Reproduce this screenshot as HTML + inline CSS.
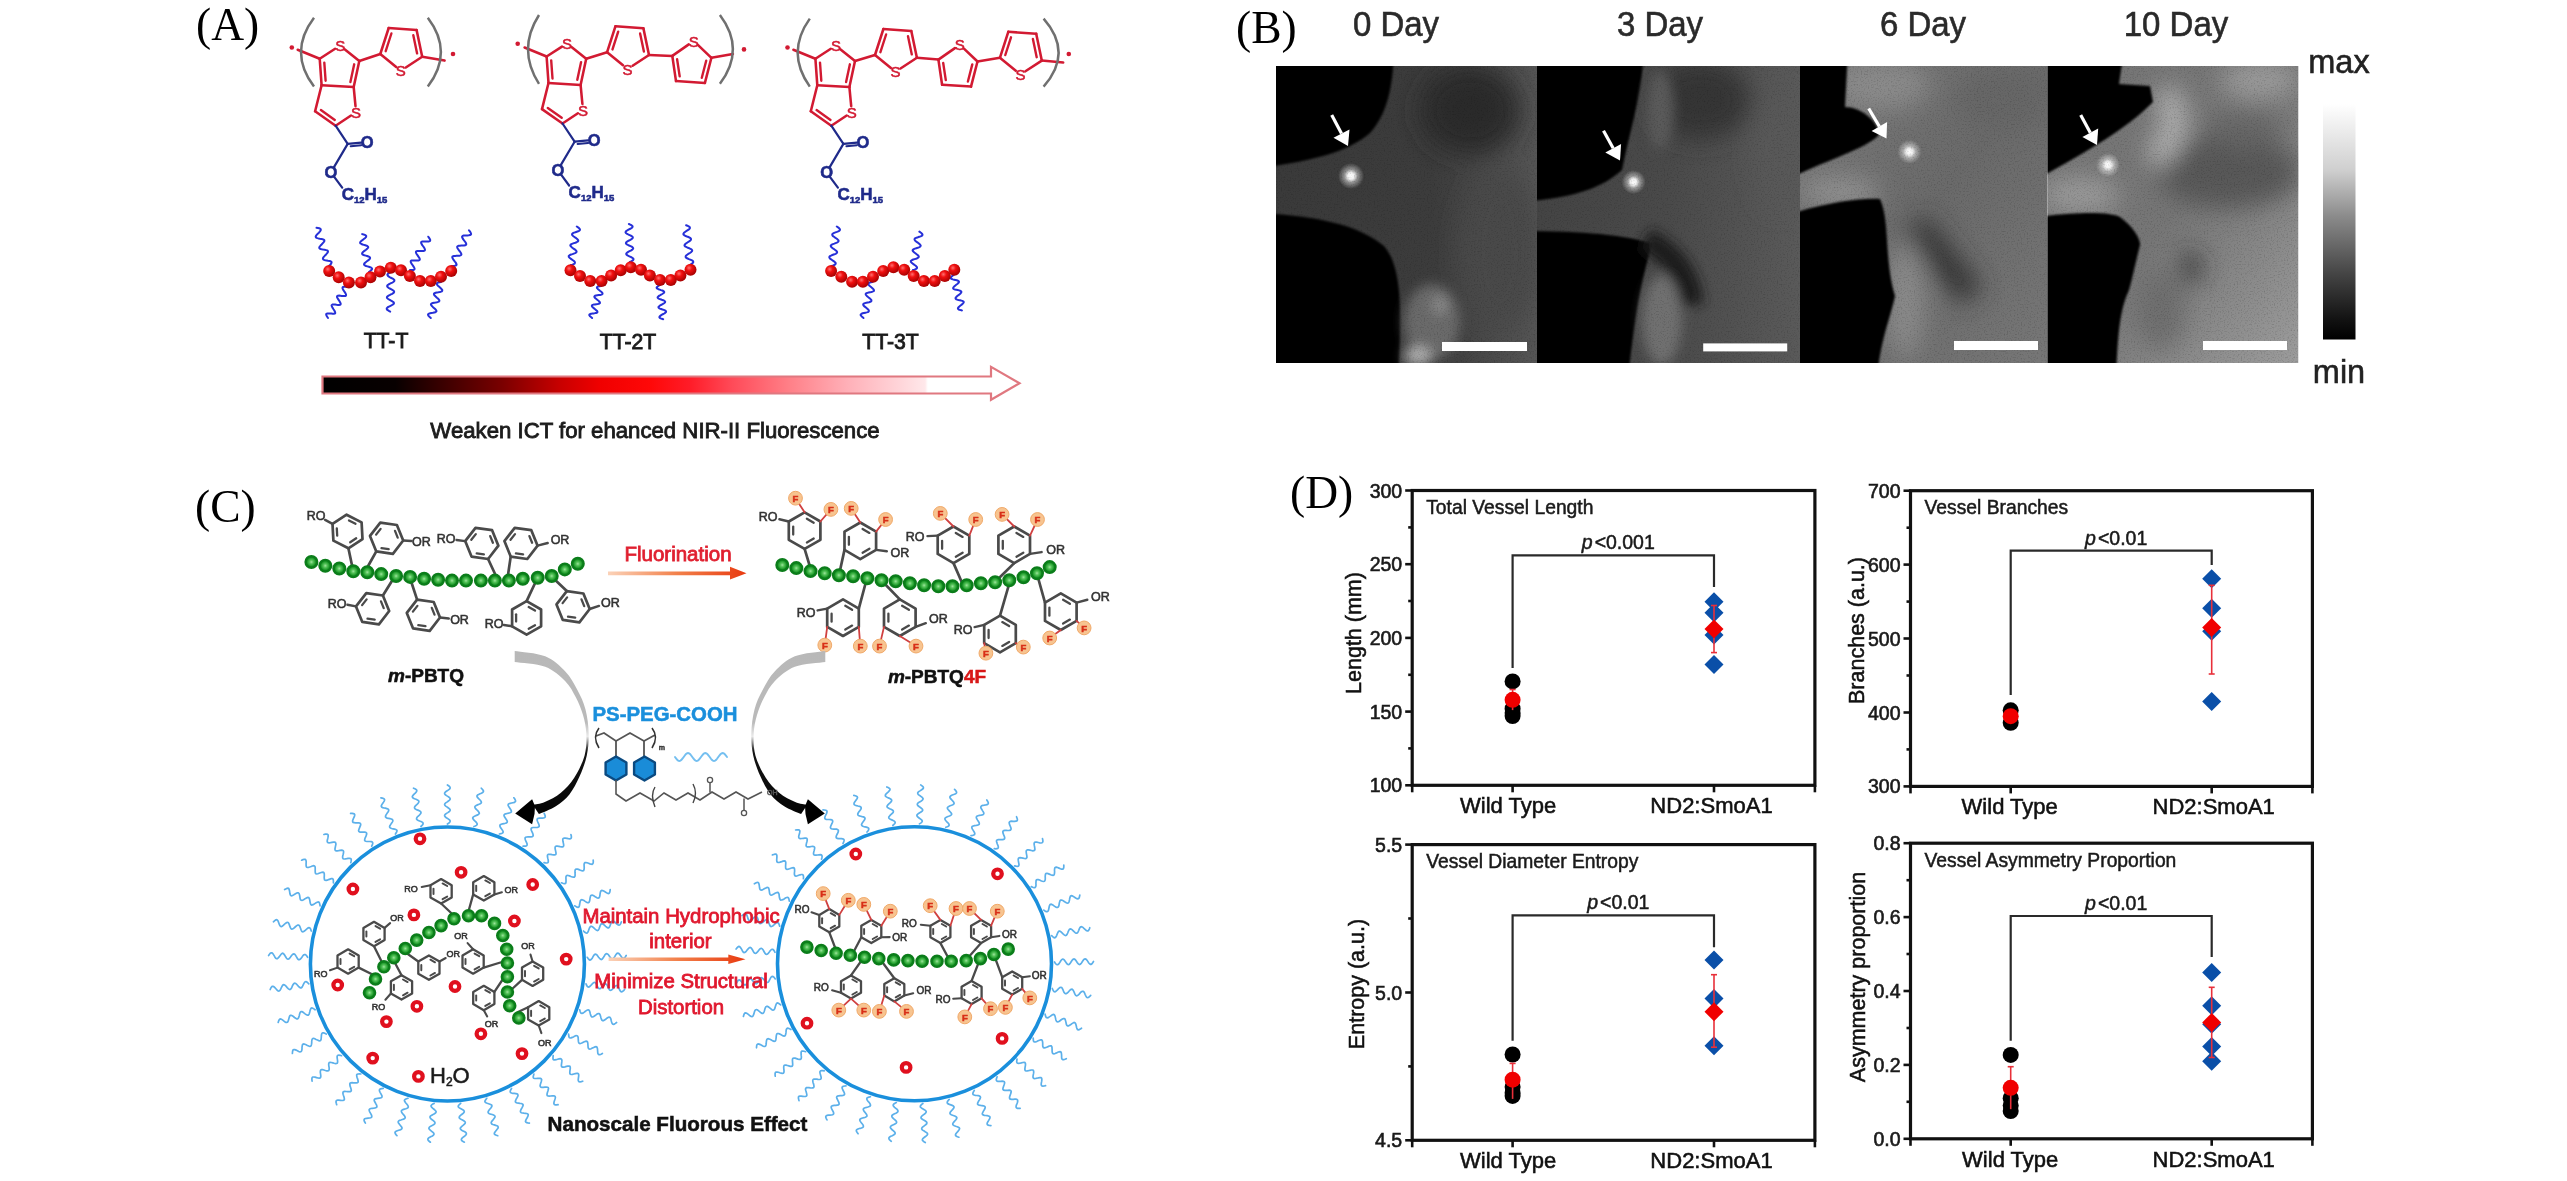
<!DOCTYPE html>
<html><head><meta charset="utf-8"><style>
html,body{margin:0;padding:0;background:#fff;width:2567px;height:1181px;overflow:hidden}
svg{position:absolute;left:0;top:0;display:block;filter:blur(0.45px)}
text{font-family:"Liberation Sans",sans-serif;fill:#222}
.lbl{font-family:"Liberation Serif",serif;font-size:45.5px;fill:#000}
.tk{font-size:19.5px;fill:#1a1a1a;stroke:#1a1a1a;stroke-width:0.6px}
.xl{font-size:22px;fill:#111;stroke:#111;stroke-width:0.55px}
.ct{font-size:19.3px;fill:#1a1a1a;stroke:#1a1a1a;stroke-width:0.5px}
.yl{font-size:21.5px;fill:#111;stroke:#111;stroke-width:0.55px}
.pv{font-size:19.5px;fill:#1a1a1a;stroke:#1a1a1a;stroke-width:0.5px}
</style></head><body>
<svg width="2567" height="1181" viewBox="0 0 2567 1181">
<text x="196" y="40" class="lbl">(A)</text>
<text x="1236" y="43" class="lbl">(B)</text>
<text x="195" y="522" class="lbl">(C)</text>
<text x="1290" y="508" class="lbl">(D)</text>
<defs>
<radialGradient id="beadR" cx="0.38" cy="0.35" r="0.7"><stop offset="0" stop-color="#ff7070"/><stop offset="0.35" stop-color="#f01010"/><stop offset="1" stop-color="#a00000"/></radialGradient>
<linearGradient id="ictG" x1="322" y1="0" x2="1020" y2="0" gradientUnits="userSpaceOnUse">
<stop offset="0" stop-color="#000"/><stop offset="0.105" stop-color="#080000"/><stop offset="0.258" stop-color="#7a0000"/>
<stop offset="0.341" stop-color="#c80000"/><stop offset="0.398" stop-color="#f00000"/><stop offset="0.47" stop-color="#ff0808"/>
<stop offset="0.527" stop-color="#ff1c28"/><stop offset="0.587" stop-color="#ff4a58"/><stop offset="0.67" stop-color="#ff8088"/>
<stop offset="0.753" stop-color="#ffb0b8"/><stop offset="0.834" stop-color="#ffd8dc"/><stop offset="0.864" stop-color="#ffe8ea"/><stop offset="0.868" stop-color="#fff"/><stop offset="1" stop-color="#fff"/>
</linearGradient></defs>
<line x1="319.7" y1="58.7" x2="335.1" y2="48.8" stroke="#d21a32" stroke-width="2.55" stroke-linecap="round"/>
<line x1="344.9" y1="49.4" x2="359.3" y2="61.0" stroke="#d21a32" stroke-width="2.55" stroke-linecap="round"/>
<line x1="319.7" y1="58.7" x2="321.6" y2="85.2" stroke="#d21a32" stroke-width="2.55" stroke-linecap="round"/>
<line x1="324.3" y1="62.6" x2="325.6" y2="80.7" stroke="#d21a32" stroke-width="2.4" stroke-linecap="round"/>
<line x1="359.3" y1="61.0" x2="353.7" y2="87.1" stroke="#d21a32" stroke-width="2.55" stroke-linecap="round"/>
<line x1="354.2" y1="64.3" x2="350.4" y2="82.0" stroke="#d21a32" stroke-width="2.4" stroke-linecap="round"/>
<line x1="321.6" y1="85.2" x2="353.7" y2="87.1" stroke="#d21a32" stroke-width="2.55" stroke-linecap="round"/>
<line x1="321.6" y1="85.2" x2="315.1" y2="111.3" stroke="#d21a32" stroke-width="2.55" stroke-linecap="round"/>
<line x1="315.1" y1="111.3" x2="335.6" y2="125.7" stroke="#d21a32" stroke-width="2.55" stroke-linecap="round"/>
<line x1="320.9" y1="110.1" x2="334.8" y2="119.9" stroke="#d21a32" stroke-width="2.4" stroke-linecap="round"/>
<line x1="335.6" y1="125.7" x2="351.0" y2="115.5" stroke="#d21a32" stroke-width="2.55" stroke-linecap="round"/>
<line x1="355.5" y1="106.2" x2="353.7" y2="87.1" stroke="#d21a32" stroke-width="2.55" stroke-linecap="round"/>
<text x="340.2" y="51.1" text-anchor="middle" font-size="15" font-weight="normal" style="fill:#d21a32;stroke:#d21a32;stroke-width:0.55px">S</text>
<text x="356.0" y="117.7" text-anchor="middle" font-size="15" font-weight="normal" style="fill:#d21a32;stroke:#d21a32;stroke-width:0.55px">S</text>
<line x1="335.6" y1="125.7" x2="347.7" y2="143.9" stroke="#1f2a8a" stroke-width="2.2" stroke-linecap="round"/>
<line x1="347.7" y1="143.9" x2="361.2" y2="142.6" stroke="#1f2a8a" stroke-width="2.2" stroke-linecap="round"/>
<line x1="350.7" y1="146.2" x2="361.2" y2="145.2" stroke="#1f2a8a" stroke-width="2.0" stroke-linecap="round"/>
<line x1="347.7" y1="143.9" x2="334.0" y2="167.1" stroke="#1f2a8a" stroke-width="2.2" stroke-linecap="round"/>
<text x="367.2" y="148.0" text-anchor="middle" font-size="16.5" font-weight="bold" style="fill:#1f2a8a;stroke:#1f2a8a;stroke-width:0.55px">O</text>
<text x="330.9" y="178.3" text-anchor="middle" font-size="16.5" font-weight="bold" style="fill:#1f2a8a;stroke:#1f2a8a;stroke-width:0.55px">O</text>
<line x1="334.4" y1="177.1" x2="342.2" y2="187.7" stroke="#1f2a8a" stroke-width="2.2" stroke-linecap="round"/>
<text x="341.7" y="200.2" font-size="17" font-weight="bold" style="fill:#1f2a8a;stroke:#1f2a8a;stroke-width:0.55px">C<tspan font-size="9.5" dy="3">12</tspan><tspan dy="-3">H</tspan><tspan font-size="9.5" dy="3">15</tspan></text>
<line x1="359.3" y1="61.0" x2="380.3" y2="54.0" stroke="#d21a32" stroke-width="2.55" stroke-linecap="round"/>
<line x1="380.3" y1="54.0" x2="388.7" y2="28.0" stroke="#d21a32" stroke-width="2.55" stroke-linecap="round"/>
<line x1="385.7" y1="51.2" x2="391.4" y2="33.5" stroke="#d21a32" stroke-width="2.4" stroke-linecap="round"/>
<line x1="388.7" y1="28.0" x2="416.6" y2="30.0" stroke="#d21a32" stroke-width="2.55" stroke-linecap="round"/>
<line x1="416.6" y1="30.0" x2="422.2" y2="56.8" stroke="#d21a32" stroke-width="2.55" stroke-linecap="round"/>
<line x1="413.3" y1="35.2" x2="417.1" y2="53.4" stroke="#d21a32" stroke-width="2.4" stroke-linecap="round"/>
<line x1="422.2" y1="56.8" x2="405.8" y2="67.5" stroke="#d21a32" stroke-width="2.55" stroke-linecap="round"/>
<line x1="396.2" y1="67.0" x2="380.3" y2="54.0" stroke="#d21a32" stroke-width="2.55" stroke-linecap="round"/>
<text x="400.8" y="76.3" text-anchor="middle" font-size="15" font-weight="normal" style="fill:#d21a32;stroke:#d21a32;stroke-width:0.55px">S</text>
<line x1="422.2" y1="56.8" x2="444.6" y2="60.6" stroke="#d21a32" stroke-width="2.55" stroke-linecap="round"/>
<line x1="319.7" y1="58.7" x2="297.7" y2="49.7" stroke="#d21a32" stroke-width="2.55" stroke-linecap="round"/>
<circle cx="291.8" cy="47.5" r="2.3" fill="#d21a32"/>
<circle cx="453" cy="54" r="2.3" fill="#d21a32"/>
<path d="M314.0,17.7 Q288.0,52.1 314.0,86.6" fill="none" stroke="#707070" stroke-width="2.5"/>
<path d="M427.8,17.7 Q454.0,52.1 427.8,86.6" fill="none" stroke="#707070" stroke-width="2.5"/>
<line x1="546.6" y1="56.5" x2="562.0" y2="46.6" stroke="#d21a32" stroke-width="2.55" stroke-linecap="round"/>
<line x1="571.8" y1="47.2" x2="586.2" y2="58.8" stroke="#d21a32" stroke-width="2.55" stroke-linecap="round"/>
<line x1="546.6" y1="56.5" x2="548.5" y2="83.0" stroke="#d21a32" stroke-width="2.55" stroke-linecap="round"/>
<line x1="551.2" y1="60.4" x2="552.5" y2="78.5" stroke="#d21a32" stroke-width="2.4" stroke-linecap="round"/>
<line x1="586.2" y1="58.8" x2="580.6" y2="84.9" stroke="#d21a32" stroke-width="2.55" stroke-linecap="round"/>
<line x1="581.1" y1="62.1" x2="577.3" y2="79.8" stroke="#d21a32" stroke-width="2.4" stroke-linecap="round"/>
<line x1="548.5" y1="83.0" x2="580.6" y2="84.9" stroke="#d21a32" stroke-width="2.55" stroke-linecap="round"/>
<line x1="548.5" y1="83.0" x2="542.0" y2="109.1" stroke="#d21a32" stroke-width="2.55" stroke-linecap="round"/>
<line x1="542.0" y1="109.1" x2="562.5" y2="123.5" stroke="#d21a32" stroke-width="2.55" stroke-linecap="round"/>
<line x1="547.8" y1="107.9" x2="561.7" y2="117.7" stroke="#d21a32" stroke-width="2.4" stroke-linecap="round"/>
<line x1="562.5" y1="123.5" x2="577.9" y2="113.3" stroke="#d21a32" stroke-width="2.55" stroke-linecap="round"/>
<line x1="582.4" y1="104.0" x2="580.6" y2="84.9" stroke="#d21a32" stroke-width="2.55" stroke-linecap="round"/>
<text x="567.1" y="48.9" text-anchor="middle" font-size="15" font-weight="normal" style="fill:#d21a32;stroke:#d21a32;stroke-width:0.55px">S</text>
<text x="582.9" y="115.5" text-anchor="middle" font-size="15" font-weight="normal" style="fill:#d21a32;stroke:#d21a32;stroke-width:0.55px">S</text>
<line x1="562.5" y1="123.5" x2="574.6" y2="141.7" stroke="#1f2a8a" stroke-width="2.2" stroke-linecap="round"/>
<line x1="574.6" y1="141.7" x2="588.1" y2="140.4" stroke="#1f2a8a" stroke-width="2.2" stroke-linecap="round"/>
<line x1="577.6" y1="144.0" x2="588.1" y2="143.0" stroke="#1f2a8a" stroke-width="2.0" stroke-linecap="round"/>
<line x1="574.6" y1="141.7" x2="560.9" y2="164.9" stroke="#1f2a8a" stroke-width="2.2" stroke-linecap="round"/>
<text x="594.1" y="145.8" text-anchor="middle" font-size="16.5" font-weight="bold" style="fill:#1f2a8a;stroke:#1f2a8a;stroke-width:0.55px">O</text>
<text x="557.8" y="176.1" text-anchor="middle" font-size="16.5" font-weight="bold" style="fill:#1f2a8a;stroke:#1f2a8a;stroke-width:0.55px">O</text>
<line x1="561.3" y1="174.9" x2="569.1" y2="185.5" stroke="#1f2a8a" stroke-width="2.2" stroke-linecap="round"/>
<text x="568.6" y="198.0" font-size="17" font-weight="bold" style="fill:#1f2a8a;stroke:#1f2a8a;stroke-width:0.55px">C<tspan font-size="9.5" dy="3">12</tspan><tspan dy="-3">H</tspan><tspan font-size="9.5" dy="3">15</tspan></text>
<line x1="586.2" y1="58.8" x2="607.1" y2="52.2" stroke="#d21a32" stroke-width="2.55" stroke-linecap="round"/>
<line x1="607.1" y1="52.2" x2="615.5" y2="26.2" stroke="#d21a32" stroke-width="2.55" stroke-linecap="round"/>
<line x1="612.5" y1="49.4" x2="618.2" y2="31.7" stroke="#d21a32" stroke-width="2.4" stroke-linecap="round"/>
<line x1="615.5" y1="26.2" x2="643.4" y2="28.2" stroke="#d21a32" stroke-width="2.55" stroke-linecap="round"/>
<line x1="643.4" y1="28.2" x2="649.0" y2="55.0" stroke="#d21a32" stroke-width="2.55" stroke-linecap="round"/>
<line x1="640.1" y1="33.4" x2="643.9" y2="51.6" stroke="#d21a32" stroke-width="2.4" stroke-linecap="round"/>
<line x1="649.0" y1="55.0" x2="632.6" y2="65.7" stroke="#d21a32" stroke-width="2.55" stroke-linecap="round"/>
<line x1="623.0" y1="65.2" x2="607.1" y2="52.2" stroke="#d21a32" stroke-width="2.55" stroke-linecap="round"/>
<text x="627.6" y="74.5" text-anchor="middle" font-size="15" font-weight="normal" style="fill:#d21a32;stroke:#d21a32;stroke-width:0.55px">S</text>
<line x1="649.0" y1="55.0" x2="672.3" y2="55.9" stroke="#d21a32" stroke-width="2.55" stroke-linecap="round"/>
<line x1="672.3" y1="55.9" x2="688.8" y2="44.4" stroke="#d21a32" stroke-width="2.55" stroke-linecap="round"/>
<line x1="698.1" y1="45.1" x2="711.4" y2="57.8" stroke="#d21a32" stroke-width="2.55" stroke-linecap="round"/>
<line x1="711.4" y1="57.8" x2="704.9" y2="82.9" stroke="#d21a32" stroke-width="2.55" stroke-linecap="round"/>
<line x1="706.2" y1="60.7" x2="701.8" y2="77.8" stroke="#d21a32" stroke-width="2.4" stroke-linecap="round"/>
<line x1="704.9" y1="82.9" x2="676.0" y2="81.1" stroke="#d21a32" stroke-width="2.55" stroke-linecap="round"/>
<line x1="676.0" y1="81.1" x2="672.3" y2="55.9" stroke="#d21a32" stroke-width="2.55" stroke-linecap="round"/>
<line x1="679.7" y1="76.4" x2="677.1" y2="59.3" stroke="#d21a32" stroke-width="2.4" stroke-linecap="round"/>
<text x="693.7" y="46.5" text-anchor="middle" font-size="15" font-weight="normal" style="fill:#d21a32;stroke:#d21a32;stroke-width:0.55px">S</text>
<line x1="711.4" y1="57.8" x2="732.9" y2="54.0" stroke="#d21a32" stroke-width="2.55" stroke-linecap="round"/>
<line x1="546.6" y1="56.5" x2="524.6" y2="47.5" stroke="#d21a32" stroke-width="2.55" stroke-linecap="round"/>
<circle cx="517.7" cy="43.8" r="2.3" fill="#d21a32"/>
<circle cx="744" cy="49.4" r="2.3" fill="#d21a32"/>
<path d="M539.0,15.0 Q517.0,49.4 539.0,83.8" fill="none" stroke="#707070" stroke-width="2.5"/>
<path d="M719.9,15.0 Q745.9,49.4 719.9,83.8" fill="none" stroke="#707070" stroke-width="2.5"/>
<line x1="815.4" y1="58.7" x2="830.8" y2="48.8" stroke="#d21a32" stroke-width="2.55" stroke-linecap="round"/>
<line x1="840.6" y1="49.4" x2="855.0" y2="61.0" stroke="#d21a32" stroke-width="2.55" stroke-linecap="round"/>
<line x1="815.4" y1="58.7" x2="817.3" y2="85.2" stroke="#d21a32" stroke-width="2.55" stroke-linecap="round"/>
<line x1="820.0" y1="62.6" x2="821.3" y2="80.7" stroke="#d21a32" stroke-width="2.4" stroke-linecap="round"/>
<line x1="855.0" y1="61.0" x2="849.4" y2="87.1" stroke="#d21a32" stroke-width="2.55" stroke-linecap="round"/>
<line x1="849.9" y1="64.3" x2="846.1" y2="82.0" stroke="#d21a32" stroke-width="2.4" stroke-linecap="round"/>
<line x1="817.3" y1="85.2" x2="849.4" y2="87.1" stroke="#d21a32" stroke-width="2.55" stroke-linecap="round"/>
<line x1="817.3" y1="85.2" x2="810.8" y2="111.3" stroke="#d21a32" stroke-width="2.55" stroke-linecap="round"/>
<line x1="810.8" y1="111.3" x2="831.3" y2="125.7" stroke="#d21a32" stroke-width="2.55" stroke-linecap="round"/>
<line x1="816.6" y1="110.1" x2="830.5" y2="119.9" stroke="#d21a32" stroke-width="2.4" stroke-linecap="round"/>
<line x1="831.3" y1="125.7" x2="846.7" y2="115.5" stroke="#d21a32" stroke-width="2.55" stroke-linecap="round"/>
<line x1="851.2" y1="106.2" x2="849.4" y2="87.1" stroke="#d21a32" stroke-width="2.55" stroke-linecap="round"/>
<text x="835.9" y="51.1" text-anchor="middle" font-size="15" font-weight="normal" style="fill:#d21a32;stroke:#d21a32;stroke-width:0.55px">S</text>
<text x="851.7" y="117.7" text-anchor="middle" font-size="15" font-weight="normal" style="fill:#d21a32;stroke:#d21a32;stroke-width:0.55px">S</text>
<line x1="831.3" y1="125.7" x2="843.4" y2="143.9" stroke="#1f2a8a" stroke-width="2.2" stroke-linecap="round"/>
<line x1="843.4" y1="143.9" x2="856.9" y2="142.6" stroke="#1f2a8a" stroke-width="2.2" stroke-linecap="round"/>
<line x1="846.4" y1="146.2" x2="856.9" y2="145.2" stroke="#1f2a8a" stroke-width="2.0" stroke-linecap="round"/>
<line x1="843.4" y1="143.9" x2="829.7" y2="167.1" stroke="#1f2a8a" stroke-width="2.2" stroke-linecap="round"/>
<text x="862.9" y="148.0" text-anchor="middle" font-size="16.5" font-weight="bold" style="fill:#1f2a8a;stroke:#1f2a8a;stroke-width:0.55px">O</text>
<text x="826.6" y="178.3" text-anchor="middle" font-size="16.5" font-weight="bold" style="fill:#1f2a8a;stroke:#1f2a8a;stroke-width:0.55px">O</text>
<line x1="830.1" y1="177.1" x2="837.9" y2="187.7" stroke="#1f2a8a" stroke-width="2.2" stroke-linecap="round"/>
<text x="837.4" y="200.2" font-size="17" font-weight="bold" style="fill:#1f2a8a;stroke:#1f2a8a;stroke-width:0.55px">C<tspan font-size="9.5" dy="3">12</tspan><tspan dy="-3">H</tspan><tspan font-size="9.5" dy="3">15</tspan></text>
<line x1="855.0" y1="61.0" x2="875.0" y2="55.0" stroke="#d21a32" stroke-width="2.55" stroke-linecap="round"/>
<line x1="875.0" y1="55.0" x2="883.4" y2="29.0" stroke="#d21a32" stroke-width="2.55" stroke-linecap="round"/>
<line x1="880.4" y1="52.2" x2="886.1" y2="34.5" stroke="#d21a32" stroke-width="2.4" stroke-linecap="round"/>
<line x1="883.4" y1="29.0" x2="911.3" y2="31.0" stroke="#d21a32" stroke-width="2.55" stroke-linecap="round"/>
<line x1="911.3" y1="31.0" x2="916.9" y2="57.8" stroke="#d21a32" stroke-width="2.55" stroke-linecap="round"/>
<line x1="908.0" y1="36.2" x2="911.8" y2="54.4" stroke="#d21a32" stroke-width="2.4" stroke-linecap="round"/>
<line x1="916.9" y1="57.8" x2="900.5" y2="68.5" stroke="#d21a32" stroke-width="2.55" stroke-linecap="round"/>
<line x1="890.9" y1="68.0" x2="875.0" y2="55.0" stroke="#d21a32" stroke-width="2.55" stroke-linecap="round"/>
<text x="895.5" y="77.3" text-anchor="middle" font-size="15" font-weight="normal" style="fill:#d21a32;stroke:#d21a32;stroke-width:0.55px">S</text>
<line x1="916.9" y1="57.8" x2="938.4" y2="59.6" stroke="#d21a32" stroke-width="2.55" stroke-linecap="round"/>
<line x1="938.4" y1="59.6" x2="954.9" y2="48.1" stroke="#d21a32" stroke-width="2.55" stroke-linecap="round"/>
<line x1="964.2" y1="48.8" x2="977.5" y2="61.5" stroke="#d21a32" stroke-width="2.55" stroke-linecap="round"/>
<line x1="977.5" y1="61.5" x2="971.0" y2="86.6" stroke="#d21a32" stroke-width="2.55" stroke-linecap="round"/>
<line x1="972.3" y1="64.4" x2="967.9" y2="81.5" stroke="#d21a32" stroke-width="2.4" stroke-linecap="round"/>
<line x1="971.0" y1="86.6" x2="942.1" y2="84.8" stroke="#d21a32" stroke-width="2.55" stroke-linecap="round"/>
<line x1="942.1" y1="84.8" x2="938.4" y2="59.6" stroke="#d21a32" stroke-width="2.55" stroke-linecap="round"/>
<line x1="945.8" y1="80.1" x2="943.2" y2="63.0" stroke="#d21a32" stroke-width="2.4" stroke-linecap="round"/>
<text x="959.8" y="50.2" text-anchor="middle" font-size="15" font-weight="normal" style="fill:#d21a32;stroke:#d21a32;stroke-width:0.55px">S</text>
<line x1="977.5" y1="61.5" x2="999.9" y2="57.8" stroke="#d21a32" stroke-width="2.55" stroke-linecap="round"/>
<line x1="999.9" y1="57.8" x2="1008.3" y2="31.8" stroke="#d21a32" stroke-width="2.55" stroke-linecap="round"/>
<line x1="1005.3" y1="55.0" x2="1011.0" y2="37.3" stroke="#d21a32" stroke-width="2.4" stroke-linecap="round"/>
<line x1="1008.3" y1="31.8" x2="1036.2" y2="33.8" stroke="#d21a32" stroke-width="2.55" stroke-linecap="round"/>
<line x1="1036.2" y1="33.8" x2="1041.8" y2="60.6" stroke="#d21a32" stroke-width="2.55" stroke-linecap="round"/>
<line x1="1032.9" y1="39.0" x2="1036.7" y2="57.2" stroke="#d21a32" stroke-width="2.4" stroke-linecap="round"/>
<line x1="1041.8" y1="60.6" x2="1025.4" y2="71.3" stroke="#d21a32" stroke-width="2.55" stroke-linecap="round"/>
<line x1="1015.8" y1="70.8" x2="999.9" y2="57.8" stroke="#d21a32" stroke-width="2.55" stroke-linecap="round"/>
<text x="1020.4" y="80.1" text-anchor="middle" font-size="15" font-weight="normal" style="fill:#d21a32;stroke:#d21a32;stroke-width:0.55px">S</text>
<line x1="1041.8" y1="60.6" x2="1063.2" y2="62.4" stroke="#d21a32" stroke-width="2.55" stroke-linecap="round"/>
<line x1="815.4" y1="58.7" x2="793.4" y2="49.7" stroke="#d21a32" stroke-width="2.55" stroke-linecap="round"/>
<circle cx="787.5" cy="47.5" r="2.3" fill="#d21a32"/>
<circle cx="1068.8" cy="54" r="2.3" fill="#d21a32"/>
<path d="M809.8,18.6 Q785.6,52.6 809.8,86.6" fill="none" stroke="#707070" stroke-width="2.5"/>
<path d="M1043.6,18.6 Q1073.6,52.6 1043.6,86.6" fill="none" stroke="#707070" stroke-width="2.5"/>
<path d="M329.0,266.0 L330.0,265.0 L330.9,264.0 L331.4,263.1 L331.6,262.3 L331.3,261.7 L330.5,261.3 L329.4,260.9 L328.0,260.7 L326.6,260.4 L325.2,260.2 L324.0,259.9 L323.2,259.4 L322.9,258.8 L323.0,258.1 L323.5,257.2 L324.3,256.3 L325.3,255.2 L326.3,254.2 L327.2,253.2 L327.8,252.3 L328.0,251.5 L327.8,250.9 L327.1,250.4 L326.0,250.1 L324.7,249.8 L323.2,249.6 L321.8,249.3 L320.6,249.0 L319.8,248.6 L319.3,248.0 L319.3,247.3 L319.8,246.5 L320.6,245.5 L321.6,244.5 L322.6,243.4 L323.5,242.4 L324.2,241.5 L324.4,240.7 L324.3,240.1 L323.6,239.6 L322.6,239.2 L321.3,238.9 L319.9,238.7 L318.4,238.4 L317.2,238.1 L316.3,237.7 L315.8,237.2 L315.7,236.5 L316.1,235.7 L316.9,234.7 L317.8,233.7 L318.9,232.7 L319.8,231.6 L320.5,230.7 L320.8,229.9 L320.7,229.2 L320.2,228.7 L319.2,228.3 L317.9,228.0 L316.5,227.8" fill="none" stroke="#2630d8" stroke-width="2.0" stroke-linejoin="round" stroke-linecap="round"/>
<path d="M369.0,272.0 L370.2,271.1 L371.1,270.3 L371.8,269.5 L372.1,268.8 L371.9,268.2 L371.2,267.7 L370.1,267.2 L368.8,266.8 L367.4,266.4 L366.1,266.0 L365.0,265.5 L364.3,265.0 L364.0,264.4 L364.2,263.7 L364.8,263.0 L365.7,262.2 L366.9,261.3 L368.1,260.4 L369.1,259.6 L369.8,258.8 L370.1,258.1 L370.0,257.5 L369.4,256.9 L368.4,256.5 L367.1,256.0 L365.7,255.6 L364.3,255.2 L363.2,254.8 L362.4,254.3 L362.1,253.7 L362.2,253.0 L362.7,252.3 L363.7,251.4 L364.8,250.6 L366.0,249.7 L367.0,248.9 L367.8,248.1 L368.2,247.4 L368.1,246.7 L367.5,246.2 L366.6,245.7 L365.3,245.3 L363.9,244.9 L362.6,244.5 L361.4,244.0 L360.5,243.5 L360.1,242.9 L360.2,242.3 L360.7,241.5 L361.6,240.7 L362.7,239.9 L363.8,239.0 L364.9,238.2 L365.7,237.4 L366.2,236.6 L366.2,236.0 L365.7,235.4 L364.8,234.9 L363.6,234.5 L362.2,234.1" fill="none" stroke="#2630d8" stroke-width="2.0" stroke-linejoin="round" stroke-linecap="round"/>
<path d="M410.0,270.0 L411.4,270.1 L412.7,270.1 L413.7,269.9 L414.4,269.5 L414.6,268.9 L414.4,268.1 L413.9,267.1 L413.1,265.9 L412.3,264.7 L411.5,263.6 L410.9,262.5 L410.7,261.7 L410.8,261.1 L411.4,260.6 L412.3,260.4 L413.6,260.4 L415.0,260.5 L416.5,260.5 L417.8,260.5 L418.8,260.4 L419.5,260.1 L419.8,259.5 L419.7,258.7 L419.2,257.7 L418.4,256.6 L417.6,255.4 L416.8,254.2 L416.2,253.2 L415.9,252.3 L416.0,251.6 L416.5,251.2 L417.4,251.0 L418.6,250.9 L420.0,250.9 L421.5,251.0 L422.8,251.0 L423.9,250.9 L424.7,250.6 L425.0,250.1 L424.9,249.3 L424.5,248.3 L423.8,247.2 L422.9,246.0 L422.1,244.9 L421.5,243.8 L421.1,242.9 L421.2,242.2 L421.6,241.7 L422.5,241.5 L423.7,241.4 L425.1,241.4 L426.5,241.5 L427.9,241.5 L429.0,241.4 L429.8,241.1 L430.2,240.6 L430.2,239.9 L429.8,239.0 L429.1,237.9 L428.3,236.7" fill="none" stroke="#2630d8" stroke-width="2.0" stroke-linejoin="round" stroke-linecap="round"/>
<path d="M452.0,266.0 L453.4,266.0 L454.7,265.8 L455.7,265.6 L456.4,265.2 L456.6,264.5 L456.3,263.7 L455.8,262.7 L454.9,261.6 L454.0,260.4 L453.2,259.3 L452.6,258.3 L452.3,257.4 L452.4,256.7 L453.0,256.3 L454.0,256.0 L455.2,255.9 L456.6,255.8 L458.1,255.8 L459.4,255.7 L460.5,255.4 L461.2,255.0 L461.4,254.4 L461.2,253.6 L460.7,252.6 L459.9,251.5 L459.0,250.4 L458.2,249.2 L457.5,248.2 L457.2,247.3 L457.2,246.6 L457.7,246.1 L458.7,245.8 L459.9,245.7 L461.3,245.6 L462.8,245.6 L464.1,245.5 L465.2,245.3 L465.9,244.9 L466.3,244.3 L466.1,243.5 L465.7,242.6 L464.9,241.5 L464.0,240.3 L463.1,239.2 L462.5,238.1 L462.1,237.2 L462.1,236.5 L462.5,236.0 L463.4,235.6 L464.5,235.5 L465.9,235.4 L467.4,235.4 L468.8,235.3 L469.9,235.1 L470.7,234.8 L471.1,234.2 L471.0,233.5 L470.6,232.5 L469.9,231.4 L469.0,230.3" fill="none" stroke="#2630d8" stroke-width="2.0" stroke-linejoin="round" stroke-linecap="round"/>
<path d="M347.0,287.0 L345.6,286.8 L344.3,286.8 L343.3,286.9 L342.7,287.2 L342.5,287.8 L342.6,288.6 L343.1,289.6 L343.8,290.7 L344.6,291.9 L345.4,293.1 L345.9,294.1 L346.1,295.0 L345.9,295.6 L345.4,296.0 L344.4,296.1 L343.2,296.0 L341.8,295.9 L340.4,295.7 L339.1,295.6 L338.0,295.7 L337.3,296.0 L337.0,296.5 L337.1,297.3 L337.6,298.3 L338.3,299.4 L339.1,300.6 L339.8,301.8 L340.4,302.9 L340.7,303.7 L340.6,304.4 L340.0,304.8 L339.1,304.9 L337.9,304.9 L336.6,304.8 L335.1,304.6 L333.8,304.5 L332.7,304.5 L332.0,304.8 L331.6,305.3 L331.7,306.0 L332.1,307.0 L332.8,308.1 L333.5,309.3 L334.3,310.5 L334.9,311.6 L335.2,312.5 L335.2,313.2 L334.7,313.6 L333.9,313.8 L332.7,313.8 L331.3,313.6 L329.9,313.5 L328.5,313.4 L327.4,313.4 L326.6,313.6 L326.2,314.1 L326.2,314.8 L326.6,315.7 L327.2,316.8 L328.0,318.0" fill="none" stroke="#2630d8" stroke-width="2.0" stroke-linejoin="round" stroke-linecap="round"/>
<path d="M391.0,272.0 L389.7,272.6 L388.6,273.3 L387.8,273.9 L387.4,274.6 L387.5,275.2 L388.0,275.9 L388.9,276.6 L390.1,277.3 L391.4,278.0 L392.7,278.6 L393.7,279.3 L394.3,280.0 L394.4,280.7 L394.1,281.3 L393.3,282.0 L392.3,282.6 L391.0,283.2 L389.6,283.9 L388.5,284.5 L387.6,285.1 L387.2,285.8 L387.2,286.4 L387.7,287.1 L388.6,287.8 L389.7,288.5 L391.0,289.2 L392.3,289.9 L393.3,290.5 L394.0,291.2 L394.2,291.9 L393.9,292.5 L393.2,293.2 L392.2,293.8 L390.9,294.4 L389.6,295.1 L388.4,295.7 L387.5,296.4 L387.0,297.0 L386.9,297.7 L387.3,298.3 L388.2,299.0 L389.3,299.7 L390.6,300.4 L391.9,301.1 L392.9,301.8 L393.7,302.4 L394.0,303.1 L393.8,303.7 L393.1,304.4 L392.1,305.0 L390.9,305.7 L389.6,306.3 L388.3,306.9 L387.4,307.6 L386.8,308.2 L386.7,308.9 L387.0,309.6 L387.8,310.2 L388.9,310.9 L390.2,311.6" fill="none" stroke="#2630d8" stroke-width="2.0" stroke-linejoin="round" stroke-linecap="round"/>
<path d="M441.0,282.0 L439.6,282.2 L438.3,282.5 L437.4,282.9 L436.9,283.4 L436.8,284.1 L437.2,284.8 L437.9,285.7 L438.9,286.6 L440.0,287.6 L441.0,288.5 L441.8,289.4 L442.3,290.1 L442.2,290.8 L441.8,291.3 L440.9,291.7 L439.7,292.0 L438.3,292.3 L436.9,292.5 L435.6,292.8 L434.6,293.2 L434.0,293.6 L433.9,294.2 L434.2,295.0 L434.9,295.8 L435.9,296.7 L436.9,297.7 L438.0,298.6 L438.8,299.5 L439.3,300.3 L439.4,301.0 L439.0,301.5 L438.1,301.9 L437.0,302.2 L435.6,302.5 L434.2,302.7 L432.8,303.0 L431.8,303.4 L431.2,303.8 L430.9,304.4 L431.2,305.2 L431.9,306.0 L432.8,306.9 L433.9,307.9 L434.9,308.8 L435.8,309.7 L436.3,310.5 L436.5,311.2 L436.1,311.7 L435.4,312.2 L434.2,312.5 L432.9,312.8 L431.4,313.0 L430.1,313.3 L429.0,313.6 L428.3,314.1 L428.0,314.6 L428.2,315.3 L428.8,316.1 L429.7,317.0 L430.8,318.0" fill="none" stroke="#2630d8" stroke-width="2.0" stroke-linejoin="round" stroke-linecap="round"/>
<circle cx="329.2" cy="271" r="6" fill="url(#beadR)"/>
<circle cx="338.7" cy="277.3" r="6" fill="url(#beadR)"/>
<circle cx="348.9" cy="282.4" r="6" fill="url(#beadR)"/>
<circle cx="361" cy="282.4" r="6" fill="url(#beadR)"/>
<circle cx="370.5" cy="277.3" r="6" fill="url(#beadR)"/>
<circle cx="380" cy="271.6" r="6" fill="url(#beadR)"/>
<circle cx="390.8" cy="267.8" r="6" fill="url(#beadR)"/>
<circle cx="401" cy="270.3" r="6" fill="url(#beadR)"/>
<circle cx="409.9" cy="276" r="6" fill="url(#beadR)"/>
<circle cx="420" cy="281.1" r="6" fill="url(#beadR)"/>
<circle cx="430.8" cy="281.1" r="6" fill="url(#beadR)"/>
<circle cx="441" cy="276.7" r="6" fill="url(#beadR)"/>
<circle cx="451.2" cy="271" r="6" fill="url(#beadR)"/>
<path d="M571.0,265.0 L572.4,264.6 L573.6,264.1 L574.5,263.6 L574.9,263.0 L574.9,262.3 L574.5,261.6 L573.6,260.8 L572.5,260.0 L571.3,259.1 L570.2,258.3 L569.3,257.5 L568.8,256.8 L568.7,256.1 L569.1,255.5 L569.9,255.0 L571.1,254.5 L572.5,254.1 L573.8,253.6 L575.1,253.1 L576.0,252.6 L576.5,252.1 L576.6,251.4 L576.2,250.7 L575.4,249.9 L574.3,249.1 L573.1,248.3 L572.0,247.4 L571.1,246.6 L570.5,245.9 L570.3,245.2 L570.7,244.6 L571.4,244.1 L572.6,243.6 L573.9,243.1 L575.3,242.7 L576.6,242.2 L577.6,241.7 L578.2,241.1 L578.3,240.5 L577.9,239.8 L577.2,239.0 L576.2,238.2 L575.0,237.4 L573.8,236.5 L572.8,235.7 L572.2,235.0 L572.0,234.3 L572.3,233.7 L573.0,233.1 L574.1,232.6 L575.4,232.2 L576.8,231.7 L578.1,231.3 L579.1,230.8 L579.8,230.2 L580.0,229.6 L579.7,228.9 L579.0,228.1 L578.0,227.3 L576.8,226.5" fill="none" stroke="#2630d8" stroke-width="2.0" stroke-linejoin="round" stroke-linecap="round"/>
<path d="M630.0,262.0 L631.3,261.3 L632.4,260.7 L633.2,260.0 L633.5,259.4 L633.4,258.7 L632.8,258.1 L631.8,257.5 L630.6,256.9 L629.3,256.3 L628.0,255.7 L627.0,255.1 L626.4,254.5 L626.2,253.9 L626.5,253.2 L627.2,252.6 L628.2,251.9 L629.5,251.2 L630.8,250.6 L631.9,249.9 L632.7,249.2 L633.2,248.6 L633.1,248.0 L632.6,247.3 L631.7,246.7 L630.5,246.1 L629.1,245.5 L627.9,244.9 L626.8,244.3 L626.1,243.7 L625.9,243.1 L626.1,242.5 L626.7,241.8 L627.8,241.1 L629.0,240.5 L630.3,239.8 L631.5,239.1 L632.3,238.5 L632.8,237.8 L632.8,237.2 L632.4,236.6 L631.5,236.0 L630.3,235.4 L629.0,234.8 L627.7,234.2 L626.6,233.6 L625.9,233.0 L625.5,232.3 L625.7,231.7 L626.3,231.0 L627.3,230.4 L628.5,229.7 L629.8,229.0 L631.0,228.4 L631.9,227.7 L632.5,227.1 L632.6,226.4 L632.2,225.8 L631.3,225.2 L630.2,224.6 L628.9,224.0" fill="none" stroke="#2630d8" stroke-width="2.0" stroke-linejoin="round" stroke-linecap="round"/>
<path d="M690.0,265.0 L691.2,264.2 L692.3,263.4 L693.0,262.7 L693.3,262.0 L693.1,261.3 L692.5,260.7 L691.5,260.2 L690.2,259.6 L688.9,259.1 L687.6,258.5 L686.5,258.0 L685.8,257.4 L685.6,256.7 L685.8,256.0 L686.5,255.3 L687.5,254.5 L688.7,253.7 L689.9,253.0 L691.0,252.2 L691.8,251.4 L692.2,250.7 L692.1,250.1 L691.5,249.4 L690.5,248.9 L689.3,248.3 L687.9,247.8 L686.6,247.2 L685.5,246.7 L684.8,246.1 L684.5,245.5 L684.6,244.8 L685.3,244.0 L686.2,243.3 L687.4,242.5 L688.7,241.7 L689.8,240.9 L690.6,240.2 L691.0,239.4 L691.0,238.8 L690.5,238.2 L689.6,237.6 L688.4,237.0 L687.0,236.5 L685.7,236.0 L684.5,235.4 L683.7,234.8 L683.4,234.2 L683.5,233.5 L684.0,232.8 L685.0,232.0 L686.1,231.2 L687.4,230.4 L688.5,229.7 L689.4,228.9 L689.9,228.2 L689.9,227.5 L689.5,226.9 L688.6,226.3 L687.4,225.7 L686.1,225.2" fill="none" stroke="#2630d8" stroke-width="2.0" stroke-linejoin="round" stroke-linecap="round"/>
<path d="M601.0,286.0 L599.6,286.2 L598.4,286.4 L597.5,286.7 L597.0,287.2 L596.9,287.7 L597.3,288.4 L598.1,289.2 L599.1,290.1 L600.2,291.0 L601.3,291.8 L602.1,292.6 L602.5,293.3 L602.5,293.9 L602.1,294.3 L601.2,294.7 L600.0,294.9 L598.7,295.1 L597.3,295.3 L596.0,295.5 L595.0,295.8 L594.5,296.2 L594.3,296.8 L594.7,297.5 L595.4,298.2 L596.4,299.1 L597.5,300.0 L598.6,300.8 L599.4,301.7 L599.9,302.4 L600.0,303.0 L599.6,303.4 L598.8,303.8 L597.7,304.0 L596.3,304.2 L594.9,304.4 L593.6,304.6 L592.6,304.9 L592.0,305.3 L591.8,305.8 L592.1,306.5 L592.7,307.3 L593.7,308.1 L594.8,309.0 L595.9,309.9 L596.8,310.7 L597.3,311.4 L597.5,312.0 L597.2,312.5 L596.4,312.9 L595.3,313.1 L594.0,313.4 L592.6,313.5 L591.2,313.7 L590.2,314.0 L589.5,314.4 L589.2,314.9 L589.5,315.5 L590.1,316.3 L591.0,317.1 L592.1,318.0" fill="none" stroke="#2630d8" stroke-width="2.0" stroke-linejoin="round" stroke-linecap="round"/>
<path d="M660.0,285.0 L658.8,285.7 L657.7,286.4 L657.0,287.0 L656.6,287.6 L656.8,288.2 L657.4,288.7 L658.4,289.2 L659.7,289.6 L661.0,290.1 L662.3,290.5 L663.4,291.0 L664.0,291.5 L664.3,292.1 L664.0,292.7 L663.3,293.3 L662.3,294.0 L661.1,294.7 L659.9,295.4 L658.8,296.0 L658.0,296.7 L657.6,297.3 L657.7,297.9 L658.2,298.4 L659.2,298.9 L660.4,299.3 L661.8,299.8 L663.1,300.2 L664.2,300.7 L664.9,301.2 L665.2,301.8 L665.0,302.4 L664.4,303.0 L663.4,303.7 L662.2,304.3 L660.9,305.0 L659.8,305.7 L659.0,306.4 L658.5,307.0 L658.5,307.6 L659.0,308.1 L659.9,308.6 L661.1,309.0 L662.5,309.5 L663.8,309.9 L664.9,310.4 L665.7,310.9 L666.1,311.5 L666.0,312.0 L665.4,312.7 L664.5,313.3 L663.3,314.0 L662.0,314.7 L660.9,315.4 L660.0,316.1 L659.5,316.7 L659.4,317.3 L659.8,317.8 L660.7,318.3 L661.9,318.8 L663.2,319.2" fill="none" stroke="#2630d8" stroke-width="2.0" stroke-linejoin="round" stroke-linecap="round"/>
<circle cx="570.5" cy="270.3" r="6" fill="url(#beadR)"/>
<circle cx="580" cy="276.1" r="6" fill="url(#beadR)"/>
<circle cx="590.2" cy="281.1" r="6" fill="url(#beadR)"/>
<circle cx="601.6" cy="281.1" r="6" fill="url(#beadR)"/>
<circle cx="611.1" cy="275.4" r="6" fill="url(#beadR)"/>
<circle cx="620.7" cy="270.3" r="6" fill="url(#beadR)"/>
<circle cx="630.8" cy="267.2" r="6" fill="url(#beadR)"/>
<circle cx="641" cy="269.7" r="6" fill="url(#beadR)"/>
<circle cx="649.9" cy="275.4" r="6" fill="url(#beadR)"/>
<circle cx="660" cy="279.9" r="6" fill="url(#beadR)"/>
<circle cx="670.8" cy="279.9" r="6" fill="url(#beadR)"/>
<circle cx="680.4" cy="275.4" r="6" fill="url(#beadR)"/>
<circle cx="690.5" cy="269.7" r="6" fill="url(#beadR)"/>
<path d="M831.8,266.0 L833.2,265.5 L834.4,265.0 L835.2,264.4 L835.7,263.8 L835.7,263.1 L835.2,262.4 L834.3,261.6 L833.2,260.8 L832.0,260.0 L830.8,259.2 L829.9,258.4 L829.4,257.7 L829.3,257.0 L829.7,256.4 L830.5,255.8 L831.7,255.3 L833.0,254.8 L834.4,254.3 L835.6,253.8 L836.6,253.2 L837.1,252.6 L837.1,252.0 L836.7,251.2 L835.9,250.5 L834.8,249.7 L833.6,248.8 L832.4,248.0 L831.5,247.2 L830.9,246.5 L830.7,245.8 L831.0,245.2 L831.8,244.6 L832.9,244.1 L834.3,243.6 L835.6,243.1 L836.9,242.6 L837.9,242.0 L838.5,241.4 L838.6,240.8 L838.2,240.1 L837.5,239.3 L836.4,238.5 L835.2,237.7 L834.0,236.8 L833.0,236.1 L832.4,235.3 L832.2,234.6 L832.4,234.0 L833.1,233.4 L834.2,232.9 L835.5,232.4 L836.9,231.9 L838.2,231.4 L839.2,230.8 L839.8,230.2 L840.0,229.6 L839.7,228.9 L839.0,228.1 L838.0,227.3 L836.8,226.5" fill="none" stroke="#2630d8" stroke-width="2.0" stroke-linejoin="round" stroke-linecap="round"/>
<path d="M913.0,270.0 L914.4,269.6 L915.6,269.1 L916.5,268.6 L917.0,268.0 L917.0,267.4 L916.5,266.6 L915.7,265.8 L914.6,265.0 L913.4,264.1 L912.3,263.3 L911.4,262.5 L910.9,261.8 L910.8,261.1 L911.2,260.5 L912.1,260.0 L913.3,259.5 L914.6,259.1 L916.0,258.7 L917.3,258.2 L918.2,257.7 L918.7,257.1 L918.8,256.5 L918.4,255.8 L917.6,255.0 L916.6,254.2 L915.4,253.3 L914.3,252.5 L913.3,251.6 L912.8,250.9 L912.6,250.2 L913.0,249.6 L913.8,249.1 L914.9,248.6 L916.3,248.2 L917.7,247.8 L918.9,247.3 L919.9,246.8 L920.5,246.3 L920.7,245.6 L920.3,244.9 L919.6,244.1 L918.6,243.3 L917.4,242.4 L916.2,241.6 L915.3,240.8 L914.7,240.0 L914.5,239.3 L914.7,238.7 L915.5,238.2 L916.6,237.7 L917.9,237.3 L919.3,236.8 L920.6,236.4 L921.6,235.9 L922.3,235.4 L922.5,234.7 L922.2,234.0 L921.6,233.3 L920.6,232.5 L919.4,231.6" fill="none" stroke="#2630d8" stroke-width="2.0" stroke-linejoin="round" stroke-linecap="round"/>
<path d="M872.4,282.0 L871.0,282.3 L869.8,282.6 L868.8,283.0 L868.3,283.5 L868.3,284.2 L868.7,284.9 L869.5,285.7 L870.5,286.6 L871.6,287.5 L872.7,288.4 L873.5,289.3 L873.9,290.0 L874.0,290.7 L873.5,291.2 L872.6,291.6 L871.4,292.0 L870.1,292.2 L868.7,292.5 L867.4,292.9 L866.4,293.3 L865.8,293.7 L865.7,294.4 L866.1,295.1 L866.8,295.9 L867.8,296.8 L868.9,297.7 L870.0,298.6 L870.8,299.4 L871.4,300.2 L871.4,300.9 L871.1,301.4 L870.3,301.8 L869.1,302.2 L867.7,302.5 L866.3,302.8 L865.0,303.1 L864.0,303.5 L863.3,304.0 L863.2,304.5 L863.4,305.3 L864.1,306.1 L865.1,306.9 L866.2,307.8 L867.3,308.8 L868.2,309.6 L868.8,310.4 L868.9,311.1 L868.6,311.6 L867.8,312.1 L866.7,312.4 L865.4,312.7 L864.0,313.0 L862.6,313.3 L861.6,313.7 L860.9,314.2 L860.6,314.7 L860.8,315.4 L861.5,316.2 L862.4,317.1 L863.5,318.0" fill="none" stroke="#2630d8" stroke-width="2.0" stroke-linejoin="round" stroke-linecap="round"/>
<path d="M953.7,274.8 L952.6,275.7 L951.6,276.5 L951.0,277.3 L950.8,278.0 L951.0,278.6 L951.7,279.0 L952.8,279.4 L954.1,279.7 L955.5,280.0 L956.8,280.3 L957.9,280.7 L958.7,281.1 L959.0,281.7 L958.8,282.4 L958.3,283.1 L957.3,284.0 L956.2,284.8 L955.1,285.7 L954.1,286.6 L953.4,287.4 L953.1,288.1 L953.3,288.7 L953.9,289.1 L955.0,289.5 L956.3,289.8 L957.7,290.1 L959.0,290.4 L960.2,290.8 L961.0,291.2 L961.4,291.8 L961.3,292.4 L960.7,293.2 L959.9,294.0 L958.8,294.9 L957.6,295.8 L956.6,296.6 L955.9,297.4 L955.5,298.1 L955.6,298.7 L956.2,299.2 L957.2,299.6 L958.4,300.0 L959.8,300.3 L961.2,300.6 L962.4,300.9 L963.3,301.3 L963.7,301.9 L963.7,302.5 L963.2,303.2 L962.4,304.1 L961.3,304.9 L960.2,305.8 L959.1,306.7 L958.3,307.5 L957.9,308.2 L958.0,308.8 L958.5,309.3 L959.4,309.8 L960.6,310.1 L962.0,310.4" fill="none" stroke="#2630d8" stroke-width="2.0" stroke-linejoin="round" stroke-linecap="round"/>
<circle cx="831.1" cy="271" r="6" fill="url(#beadR)"/>
<circle cx="841.3" cy="276.7" r="6" fill="url(#beadR)"/>
<circle cx="852.1" cy="281.8" r="6" fill="url(#beadR)"/>
<circle cx="862.9" cy="281.8" r="6" fill="url(#beadR)"/>
<circle cx="873" cy="276.7" r="6" fill="url(#beadR)"/>
<circle cx="883.2" cy="271" r="6" fill="url(#beadR)"/>
<circle cx="893.4" cy="267.2" r="6" fill="url(#beadR)"/>
<circle cx="904.2" cy="269.7" r="6" fill="url(#beadR)"/>
<circle cx="913.7" cy="276.1" r="6" fill="url(#beadR)"/>
<circle cx="923.9" cy="281.1" r="6" fill="url(#beadR)"/>
<circle cx="934.7" cy="281.1" r="6" fill="url(#beadR)"/>
<circle cx="944.8" cy="276.1" r="6" fill="url(#beadR)"/>
<circle cx="954.3" cy="269.7" r="6" fill="url(#beadR)"/>
<text x="386" y="348" text-anchor="middle" font-size="21.2" style="fill:#1a1a1a;stroke:#1a1a1a;stroke-width:0.85px">TT-T</text>
<text x="628" y="348.5" text-anchor="middle" font-size="21.2" style="fill:#1a1a1a;stroke:#1a1a1a;stroke-width:0.85px">TT-2T</text>
<text x="890.5" y="348.5" text-anchor="middle" font-size="21.2" style="fill:#1a1a1a;stroke:#1a1a1a;stroke-width:0.85px">TT-3T</text>
<path d="M322.5,376.5 H991 V366.8 L1019.5,383.2 L991,399.8 V393.5 H322.5 Z" fill="url(#ictG)" stroke="#e07880" stroke-width="2.2" stroke-linejoin="miter"/>
<text x="655" y="437.5" text-anchor="middle" font-size="22.2" style="fill:#1c1c1c;stroke:#1c1c1c;stroke-width:0.85px">Weaken ICT for ehanced NIR-II Fluorescence</text>
<defs>
<filter id="bl6" filterUnits="userSpaceOnUse" x="1200" y="0" width="1200" height="420"><feGaussianBlur stdDeviation="6"/></filter>
<filter id="bl3" filterUnits="userSpaceOnUse" x="1200" y="0" width="1200" height="420"><feGaussianBlur stdDeviation="1.3"/></filter>
<filter id="bl12" filterUnits="userSpaceOnUse" x="1200" y="0" width="1200" height="420"><feGaussianBlur stdDeviation="12"/></filter>
<filter id="noiseM" x="0" y="0" width="100%" height="100%" color-interpolation-filters="sRGB">
<feTurbulence type="fractalNoise" baseFrequency="0.7" numOctaves="1" seed="5" result="n"/>
<feColorMatrix in="n" type="matrix" values="0.5 0 0 0 0.75  0.5 0 0 0 0.75  0.5 0 0 0 0.75  0 0 0 0 1" result="n2"/>
<feComposite in="SourceGraphic" in2="n2" operator="arithmetic" k1="1" k2="0" k3="0" k4="0"/>
</filter>
<radialGradient id="spotG"><stop offset="0" stop-color="#fff"/><stop offset="0.25" stop-color="#f0f0f0"/><stop offset="0.5" stop-color="#fff" stop-opacity="0.45"/><stop offset="1" stop-color="#fff" stop-opacity="0"/></radialGradient>
<linearGradient id="cbar" x1="0" y1="0" x2="0" y2="1">
<stop offset="0" stop-color="#fff"/><stop offset="0.28" stop-color="#cfcfcf"/><stop offset="0.48" stop-color="#8a8a8a"/><stop offset="0.72" stop-color="#454545"/><stop offset="0.92" stop-color="#111"/><stop offset="1" stop-color="#000"/>
</linearGradient>
<clipPath id="p1"><rect x="1276" y="66" width="261" height="297"/></clipPath>
<clipPath id="p2"><rect x="1537" y="66" width="263" height="297"/></clipPath>
<clipPath id="p3"><rect x="1800" y="66" width="247.5" height="297"/></clipPath>
<clipPath id="p4"><rect x="2047.5" y="66" width="251" height="297"/></clipPath>
<linearGradient id="g1" x1="0" y1="0" x2="1" y2="0"><stop offset="0" stop-color="#3a3a3a"/><stop offset="0.6" stop-color="#3c3c3c"/><stop offset="1" stop-color="#555"/></linearGradient>
<linearGradient id="g2" x1="0" y1="0" x2="1" y2="0"><stop offset="0" stop-color="#444"/><stop offset="0.5" stop-color="#4a4a4a"/><stop offset="1" stop-color="#5a5a5a"/></linearGradient>
<linearGradient id="g3" x1="0" y1="0" x2="1" y2="1"><stop offset="0" stop-color="#7a7a7a"/><stop offset="0.5" stop-color="#6a6a6a"/><stop offset="1" stop-color="#777"/></linearGradient>
<linearGradient id="g4" x1="0" y1="0" x2="1" y2="1"><stop offset="0" stop-color="#767676"/><stop offset="0.5" stop-color="#767676"/><stop offset="1" stop-color="#9c9c9c"/></linearGradient>
</defs>
<g clip-path="url(#p1)"><g filter="url(#noiseM)">
<rect x="1276" y="66" width="261" height="297" fill="url(#g1)"/>
<g filter="url(#bl12)"><ellipse cx="1470" cy="110" rx="50" ry="45" fill="#2c2c2c"/><ellipse cx="1500" cy="250" rx="40" ry="80" fill="#4a4a4a"/></g>
<g filter="url(#bl3)">
<path d="M1260,50 L1394,50 C1393,90 1386,115 1370,133 C1350,150 1320,160 1260,168 Z" fill="#000"/>
<path d="M1260,213 C1320,216 1360,226 1384,246 C1400,265 1403,300 1398,380 L1260,380 Z" fill="#020202"/>
</g>
<g filter="url(#bl6)"><ellipse cx="1432" cy="322" rx="28" ry="38" fill="#6a6a6a"/><ellipse cx="1418" cy="356" rx="14" ry="10" fill="#aaa"/><ellipse cx="1440" cy="305" rx="8" ry="10" fill="#888"/></g>
<circle cx="1351" cy="176" r="13" fill="url(#spotG)"/>
</g>
<line x1="1331.7" y1="115.0" x2="1341.5" y2="133.6" stroke="#fff" stroke-width="3.2"/><path d="M1348.0,146.0 L1333.5,137.8 L1349.5,129.4 Z" fill="#fff"/>
<rect x="1442" y="342" width="85" height="9" fill="#fff"/>
</g>
<g clip-path="url(#p2)"><g filter="url(#noiseM)">
<rect x="1537" y="66" width="263" height="297" fill="url(#g2)"/>
<g filter="url(#bl12)"><ellipse cx="1700" cy="100" rx="50" ry="40" fill="#363636"/><ellipse cx="1780" cy="150" rx="25" ry="60" fill="#585858"/></g>
<g filter="url(#bl3)">
<path d="M1520,50 L1644,50 C1642,95 1630,130 1622,170 C1600,190 1570,198 1520,202 Z" fill="#000"/>
<path d="M1520,231 C1590,231 1630,236 1652,244 C1646,265 1636,300 1628,380 L1520,380 Z" fill="#020202"/>
</g>
<g filter="url(#bl6)"><path d="M1645,240 C1670,252 1688,272 1692,305" stroke="#1c1c1c" stroke-width="24" fill="none"/><ellipse cx="1662" cy="320" rx="20" ry="45" fill="#707070"/><ellipse cx="1660" cy="110" rx="14" ry="40" fill="#5a5a5a"/></g>
<circle cx="1633.6" cy="182" r="12" fill="url(#spotG)"/>
</g>
<line x1="1603.5" y1="130.8" x2="1613.2" y2="148.3" stroke="#fff" stroke-width="3.2"/><path d="M1620.0,160.5 L1605.3,152.6 L1621.1,143.9 Z" fill="#fff"/>
<rect x="1703.2" y="343.4" width="84" height="8" fill="#fff"/>
</g>
<g clip-path="url(#p3)"><g filter="url(#noiseM)">
<rect x="1800" y="66" width="248" height="297" fill="url(#g3)"/>
<g filter="url(#bl12)"><ellipse cx="1880" cy="85" rx="50" ry="25" fill="#8a8a8a"/><ellipse cx="2000" cy="100" rx="45" ry="30" fill="#666"/><path d="M1915,225 L1972,296" stroke="#343434" stroke-width="28"/><ellipse cx="1840" cy="192" rx="40" ry="16" fill="#909090"/><ellipse cx="1905" cy="300" rx="20" ry="60" fill="#8a8a8a"/></g>
<g filter="url(#bl3)">
<path d="M1790,50 L1848,50 L1845,107 C1860,107 1878,120 1879,135 C1866,148 1840,155 1790,178 Z" fill="#000"/>
<path d="M1790,214 C1830,202 1860,198 1880,199 C1890,220 1884,260 1895,296 C1890,320 1880,340 1877,380 L1790,380 Z" fill="#030303"/>
</g>
<circle cx="1909.4" cy="151.8" r="12" fill="url(#spotG)"/>
</g>
<line x1="1868.7" y1="108.5" x2="1879.4" y2="126.5" stroke="#fff" stroke-width="3.2"/><path d="M1886.5,138.5 L1871.6,131.1 L1887.1,121.9 Z" fill="#fff"/>
<rect x="1954" y="341" width="84" height="9" fill="#fff"/>
</g>
<g clip-path="url(#p4)"><g filter="url(#noiseM)">
<rect x="2047.5" y="66" width="251" height="297" fill="url(#g4)"/>
<g filter="url(#bl12)"><ellipse cx="2228" cy="172" rx="72" ry="36" fill="#585858"/><ellipse cx="2245" cy="128" rx="38" ry="18" fill="#686868"/><path d="M2162,92 C2182,112 2177,140 2152,160" stroke="#b4b4b4" stroke-width="24" fill="none"/><ellipse cx="2080" cy="195" rx="40" ry="18" fill="#9a9a9a"/><ellipse cx="2260" cy="80" rx="40" ry="20" fill="#9a9a9a"/><ellipse cx="2191" cy="268" rx="9" ry="16" fill="#2a2a2a"/><ellipse cx="2160" cy="310" rx="25" ry="40" fill="#6e6e6e"/></g>
<g filter="url(#bl3)">
<path d="M2030,50 L2124,50 L2119,84 L2150,86 L2153,102 C2130,125 2100,145 2030,183 Z" fill="#000"/>
<path d="M2030,218 C2080,211 2110,212 2120,217 C2135,228 2141,241 2140,245 C2135,265 2131,284 2129,290 C2120,310 2118,330 2116,380 L2030,380 Z" fill="#030303"/>
</g>
<circle cx="2108" cy="165" r="12" fill="url(#spotG)"/>
</g>
<line x1="2080.7" y1="115.0" x2="2090.3" y2="132.7" stroke="#fff" stroke-width="3.2"/><path d="M2097.0,145.0 L2082.4,137.0 L2098.2,128.4 Z" fill="#fff"/>
<rect x="2203" y="341" width="84" height="9" fill="#fff"/>
</g>
<rect x="2323" y="104" width="32.5" height="235.5" fill="url(#cbar)"/>
<text x="1396" y="36" text-anchor="middle" font-size="33" style="fill:#2a2a2a;stroke:#2a2a2a;stroke-width:0.55px" transform="translate(1396,36) scale(1,1.05) translate(-1396,-36)">0 Day</text>
<text x="1660" y="36" text-anchor="middle" font-size="33" style="fill:#2a2a2a;stroke:#2a2a2a;stroke-width:0.55px" transform="translate(1660,36) scale(1,1.05) translate(-1660,-36)">3 Day</text>
<text x="1923" y="36" text-anchor="middle" font-size="33" style="fill:#2a2a2a;stroke:#2a2a2a;stroke-width:0.55px" transform="translate(1923,36) scale(1,1.05) translate(-1923,-36)">6 Day</text>
<text x="2176" y="36" text-anchor="middle" font-size="33" style="fill:#2a2a2a;stroke:#2a2a2a;stroke-width:0.55px" transform="translate(2176,36) scale(1,1.05) translate(-2176,-36)">10 Day</text>
<text x="2339" y="73" text-anchor="middle" font-size="32.5" style="fill:#222;stroke:#222;stroke-width:0.55px">max</text>
<text x="2339" y="382.5" text-anchor="middle" font-size="32.5" style="fill:#222;stroke:#222;stroke-width:0.55px">min</text>
<defs>
<radialGradient id="beadG" cx="0.5" cy="0.5" r="0.5"><stop offset="0" stop-color="#9ee49e"/><stop offset="0.3" stop-color="#58c45c"/><stop offset="0.7" stop-color="#1e9a2a"/><stop offset="1" stop-color="#0a7a18"/></radialGradient>
<linearGradient id="orArrow" x1="0" y1="0" x2="1" y2="0"><stop offset="0" stop-color="#fbd2b8"/><stop offset="0.5" stop-color="#f2804a"/><stop offset="1" stop-color="#e83a10"/></linearGradient>
<linearGradient id="arcL" x1="0" y1="650" x2="0" y2="830" gradientUnits="userSpaceOnUse"><stop offset="0" stop-color="#b8b8b8"/><stop offset="0.4" stop-color="#bababa"/><stop offset="0.48" stop-color="#eaeaea"/><stop offset="0.56" stop-color="#151515"/><stop offset="1" stop-color="#000"/></linearGradient>
</defs>
<path d="M346.6,514.7 L361.6,522.4 L362.5,539.1 L348.4,548.3 L333.4,540.6 L332.5,523.9Z" fill="none" stroke="#4a4a4a" stroke-width="2.7" stroke-linejoin="round"/>
<line x1="349.0" y1="520.5" x2="355.5" y2="523.8" stroke="#4a4a4a" stroke-width="2.295" stroke-linecap="round"/>
<line x1="356.2" y1="538.3" x2="350.2" y2="542.3" stroke="#4a4a4a" stroke-width="2.295" stroke-linecap="round"/>
<line x1="337.2" y1="535.7" x2="336.8" y2="528.4" stroke="#4a4a4a" stroke-width="2.295" stroke-linecap="round"/>
<line x1="348.4" y1="548.3" x2="353.0" y2="570.0" stroke="#4a4a4a" stroke-width="2.7" stroke-linecap="round"/>
<line x1="332.5" y1="523.9" x2="325.1" y2="519.9" stroke="#4a4a4a" stroke-width="2.43" stroke-linecap="round"/>
<text x="316.0" y="519.5" text-anchor="middle" font-size="12.5" font-weight="normal" style="fill:#333333;stroke:#333333;stroke-width:0.55px">RO</text>
<path d="M396.9,525.0 L403.2,540.5 L392.9,553.8 L376.3,551.4 L370.0,535.9 L380.3,522.6Z" fill="none" stroke="#4a4a4a" stroke-width="2.7" stroke-linejoin="round"/>
<line x1="395.0" y1="530.9" x2="397.7" y2="537.6" stroke="#4a4a4a" stroke-width="2.295" stroke-linecap="round"/>
<line x1="388.7" y1="549.1" x2="381.5" y2="548.1" stroke="#4a4a4a" stroke-width="2.295" stroke-linecap="round"/>
<line x1="376.1" y1="534.6" x2="380.6" y2="528.9" stroke="#4a4a4a" stroke-width="2.295" stroke-linecap="round"/>
<line x1="376.3" y1="551.4" x2="367.0" y2="568.0" stroke="#4a4a4a" stroke-width="2.7" stroke-linecap="round"/>
<line x1="403.2" y1="540.5" x2="411.4" y2="541.0" stroke="#4a4a4a" stroke-width="2.43" stroke-linecap="round"/>
<text x="421.3" y="546.0" text-anchor="middle" font-size="12.5" font-weight="normal" style="fill:#333333;stroke:#333333;stroke-width:0.55px">OR</text>
<path d="M492.1,530.2 L498.4,545.7 L488.1,559.0 L471.5,556.6 L465.2,541.1 L475.5,527.8Z" fill="none" stroke="#4a4a4a" stroke-width="2.7" stroke-linejoin="round"/>
<line x1="490.2" y1="536.1" x2="492.9" y2="542.8" stroke="#4a4a4a" stroke-width="2.295" stroke-linecap="round"/>
<line x1="483.9" y1="554.3" x2="476.7" y2="553.3" stroke="#4a4a4a" stroke-width="2.295" stroke-linecap="round"/>
<line x1="471.3" y1="539.8" x2="475.8" y2="534.1" stroke="#4a4a4a" stroke-width="2.295" stroke-linecap="round"/>
<line x1="488.1" y1="559.0" x2="496.0" y2="576.0" stroke="#4a4a4a" stroke-width="2.7" stroke-linecap="round"/>
<line x1="465.2" y1="541.1" x2="456.5" y2="540.0" stroke="#4a4a4a" stroke-width="2.43" stroke-linecap="round"/>
<text x="446.0" y="543.2" text-anchor="middle" font-size="12.5" font-weight="normal" style="fill:#333333;stroke:#333333;stroke-width:0.55px">RO</text>
<path d="M531.3,530.2 L537.6,545.7 L527.3,559.0 L510.7,556.6 L504.4,541.1 L514.7,527.8Z" fill="none" stroke="#4a4a4a" stroke-width="2.7" stroke-linejoin="round"/>
<line x1="529.4" y1="536.1" x2="532.1" y2="542.8" stroke="#4a4a4a" stroke-width="2.295" stroke-linecap="round"/>
<line x1="523.1" y1="554.3" x2="515.9" y2="553.3" stroke="#4a4a4a" stroke-width="2.295" stroke-linecap="round"/>
<line x1="510.5" y1="539.8" x2="515.0" y2="534.1" stroke="#4a4a4a" stroke-width="2.295" stroke-linecap="round"/>
<line x1="510.7" y1="556.6" x2="508.0" y2="575.0" stroke="#4a4a4a" stroke-width="2.7" stroke-linecap="round"/>
<line x1="537.6" y1="545.7" x2="547.7" y2="543.0" stroke="#4a4a4a" stroke-width="2.43" stroke-linecap="round"/>
<text x="560.0" y="544.1" text-anchor="middle" font-size="12.5" font-weight="normal" style="fill:#333333;stroke:#333333;stroke-width:0.55px">OR</text>
<path d="M382.9,595.5 L389.2,611.0 L378.9,624.3 L362.3,621.9 L356.0,606.4 L366.3,593.1Z" fill="none" stroke="#4a4a4a" stroke-width="2.7" stroke-linejoin="round"/>
<line x1="381.0" y1="601.4" x2="383.7" y2="608.1" stroke="#4a4a4a" stroke-width="2.295" stroke-linecap="round"/>
<line x1="374.7" y1="619.6" x2="367.5" y2="618.6" stroke="#4a4a4a" stroke-width="2.295" stroke-linecap="round"/>
<line x1="362.1" y1="605.1" x2="366.6" y2="599.4" stroke="#4a4a4a" stroke-width="2.295" stroke-linecap="round"/>
<line x1="382.9" y1="595.5" x2="395.0" y2="576.0" stroke="#4a4a4a" stroke-width="2.7" stroke-linecap="round"/>
<line x1="356.0" y1="606.4" x2="347.4" y2="604.8" stroke="#4a4a4a" stroke-width="2.43" stroke-linecap="round"/>
<text x="337.0" y="607.5" text-anchor="middle" font-size="12.5" font-weight="normal" style="fill:#333333;stroke:#333333;stroke-width:0.55px">RO</text>
<path d="M433.7,602.0 L440.0,617.5 L429.7,630.8 L413.1,628.4 L406.8,612.9 L417.1,599.6Z" fill="none" stroke="#4a4a4a" stroke-width="2.7" stroke-linejoin="round"/>
<line x1="431.8" y1="607.9" x2="434.5" y2="614.6" stroke="#4a4a4a" stroke-width="2.295" stroke-linecap="round"/>
<line x1="425.5" y1="626.1" x2="418.3" y2="625.1" stroke="#4a4a4a" stroke-width="2.295" stroke-linecap="round"/>
<line x1="412.9" y1="611.6" x2="417.4" y2="605.9" stroke="#4a4a4a" stroke-width="2.295" stroke-linecap="round"/>
<line x1="417.1" y1="599.6" x2="410.0" y2="578.0" stroke="#4a4a4a" stroke-width="2.7" stroke-linecap="round"/>
<line x1="440.0" y1="617.5" x2="448.8" y2="618.5" stroke="#4a4a4a" stroke-width="2.43" stroke-linecap="round"/>
<text x="459.5" y="624.2" text-anchor="middle" font-size="12.5" font-weight="normal" style="fill:#333333;stroke:#333333;stroke-width:0.55px">OR</text>
<path d="M526.6,601.1 L541.1,609.5 L541.1,626.3 L526.6,634.7 L512.1,626.3 L512.1,609.5Z" fill="none" stroke="#4a4a4a" stroke-width="2.7" stroke-linejoin="round"/>
<line x1="528.7" y1="607.0" x2="535.0" y2="610.6" stroke="#4a4a4a" stroke-width="2.295" stroke-linecap="round"/>
<line x1="535.0" y1="625.2" x2="528.7" y2="628.8" stroke="#4a4a4a" stroke-width="2.295" stroke-linecap="round"/>
<line x1="516.1" y1="621.5" x2="516.1" y2="614.3" stroke="#4a4a4a" stroke-width="2.295" stroke-linecap="round"/>
<line x1="526.6" y1="601.1" x2="537.0" y2="579.0" stroke="#4a4a4a" stroke-width="2.7" stroke-linecap="round"/>
<line x1="512.1" y1="626.3" x2="503.9" y2="625.0" stroke="#4a4a4a" stroke-width="2.43" stroke-linecap="round"/>
<text x="494.0" y="628.0" text-anchor="middle" font-size="12.5" font-weight="normal" style="fill:#333333;stroke:#333333;stroke-width:0.55px">RO</text>
<path d="M583.4,593.5 L589.7,609.0 L579.4,622.3 L562.8,619.9 L556.5,604.4 L566.8,591.1Z" fill="none" stroke="#4a4a4a" stroke-width="2.7" stroke-linejoin="round"/>
<line x1="581.5" y1="599.4" x2="584.2" y2="606.1" stroke="#4a4a4a" stroke-width="2.295" stroke-linecap="round"/>
<line x1="575.2" y1="617.6" x2="568.0" y2="616.6" stroke="#4a4a4a" stroke-width="2.295" stroke-linecap="round"/>
<line x1="562.6" y1="603.1" x2="567.1" y2="597.4" stroke="#4a4a4a" stroke-width="2.295" stroke-linecap="round"/>
<line x1="566.8" y1="591.1" x2="552.0" y2="577.0" stroke="#4a4a4a" stroke-width="2.7" stroke-linecap="round"/>
<line x1="589.7" y1="609.0" x2="599.0" y2="605.9" stroke="#4a4a4a" stroke-width="2.43" stroke-linecap="round"/>
<text x="610.4" y="606.5" text-anchor="middle" font-size="12.5" font-weight="normal" style="fill:#333333;stroke:#333333;stroke-width:0.55px">OR</text>
<circle cx="311.4" cy="562.0" r="5.8" fill="url(#beadG)" stroke="#0b7d1a" stroke-width="2.4"/>
<circle cx="325.3" cy="565.7" r="5.8" fill="url(#beadG)" stroke="#0b7d1a" stroke-width="2.4"/>
<circle cx="339.3" cy="568.5" r="5.8" fill="url(#beadG)" stroke="#0b7d1a" stroke-width="2.4"/>
<circle cx="353.3" cy="571.3" r="5.8" fill="url(#beadG)" stroke="#0b7d1a" stroke-width="2.4"/>
<circle cx="367.3" cy="572.2" r="5.8" fill="url(#beadG)" stroke="#0b7d1a" stroke-width="2.4"/>
<circle cx="381.2" cy="574.1" r="5.8" fill="url(#beadG)" stroke="#0b7d1a" stroke-width="2.4"/>
<circle cx="396.1" cy="576.0" r="5.8" fill="url(#beadG)" stroke="#0b7d1a" stroke-width="2.4"/>
<circle cx="410.1" cy="576.9" r="5.8" fill="url(#beadG)" stroke="#0b7d1a" stroke-width="2.4"/>
<circle cx="424.1" cy="578.8" r="5.8" fill="url(#beadG)" stroke="#0b7d1a" stroke-width="2.4"/>
<circle cx="438.1" cy="579.7" r="5.8" fill="url(#beadG)" stroke="#0b7d1a" stroke-width="2.4"/>
<circle cx="452.0" cy="580.6" r="5.8" fill="url(#beadG)" stroke="#0b7d1a" stroke-width="2.4"/>
<circle cx="466.0" cy="580.6" r="5.8" fill="url(#beadG)" stroke="#0b7d1a" stroke-width="2.4"/>
<circle cx="480.9" cy="580.6" r="5.8" fill="url(#beadG)" stroke="#0b7d1a" stroke-width="2.4"/>
<circle cx="494.9" cy="580.6" r="5.8" fill="url(#beadG)" stroke="#0b7d1a" stroke-width="2.4"/>
<circle cx="508.9" cy="580.6" r="5.8" fill="url(#beadG)" stroke="#0b7d1a" stroke-width="2.4"/>
<circle cx="522.8" cy="578.8" r="5.8" fill="url(#beadG)" stroke="#0b7d1a" stroke-width="2.4"/>
<circle cx="537.7" cy="577.8" r="5.8" fill="url(#beadG)" stroke="#0b7d1a" stroke-width="2.4"/>
<circle cx="551.7" cy="576.0" r="5.8" fill="url(#beadG)" stroke="#0b7d1a" stroke-width="2.4"/>
<circle cx="564.8" cy="569.4" r="5.8" fill="url(#beadG)" stroke="#0b7d1a" stroke-width="2.4"/>
<circle cx="577.8" cy="563.8" r="5.8" fill="url(#beadG)" stroke="#0b7d1a" stroke-width="2.4"/>
<text x="426" y="681.5" text-anchor="middle" font-size="19" font-weight="bold" style="fill:#111;stroke:#111;stroke-width:0.55px"><tspan font-style="italic">m</tspan>-PBTQ</text>
<text x="678" y="561" text-anchor="middle" font-size="20.5" style="fill:#e02030;stroke:#e02030;stroke-width:0.8px">Fluorination</text>
<path d="M608,571.4 L730,571.4 L730,566.8 L746.5,573.2 L730,579.6 L730,575.2 L608,575.2 Z" fill="url(#orArrow)"/>
<path d="M804.6,512.3 L820.4,521.5 L820.4,539.8 L804.6,548.9 L788.8,539.8 L788.8,521.5Z" fill="none" stroke="#4a4a4a" stroke-width="2.7" stroke-linejoin="round"/>
<line x1="806.9" y1="518.7" x2="813.7" y2="522.7" stroke="#4a4a4a" stroke-width="2.295" stroke-linecap="round"/>
<line x1="813.7" y1="538.5" x2="806.9" y2="542.5" stroke="#4a4a4a" stroke-width="2.295" stroke-linecap="round"/>
<line x1="793.2" y1="534.6" x2="793.2" y2="526.6" stroke="#4a4a4a" stroke-width="2.295" stroke-linecap="round"/>
<line x1="804.6" y1="548.9" x2="811.0" y2="570.0" stroke="#4a4a4a" stroke-width="2.7" stroke-linecap="round"/>
<line x1="788.8" y1="521.5" x2="779.4" y2="519.2" stroke="#4a4a4a" stroke-width="2.43" stroke-linecap="round"/>
<text x="768.0" y="521.0" text-anchor="middle" font-size="12.5" font-weight="normal" style="fill:#333333;stroke:#333333;stroke-width:0.55px">RO</text>
<line x1="804.6" y1="512.3" x2="795.5" y2="498.2" stroke="#d04040" stroke-width="1.8" stroke-linecap="round"/>
<line x1="820.4" y1="521.5" x2="830.9" y2="509.4" stroke="#d04040" stroke-width="1.8" stroke-linecap="round"/>
<circle cx="795.5" cy="498.2" r="6.9" fill="#f7c490" stroke="#f0a868" stroke-width="1"/><text x="795.5" y="501.8" text-anchor="middle" font-size="9.5" font-weight="bold" style="fill:#d83018;stroke:#d83018;stroke-width:0.55px">F</text>
<circle cx="830.9" cy="509.4" r="6.9" fill="#f7c490" stroke="#f0a868" stroke-width="1"/><text x="830.9" y="513.0" text-anchor="middle" font-size="9.5" font-weight="bold" style="fill:#d83018;stroke:#d83018;stroke-width:0.55px">F</text>
<path d="M860.3,522.5 L876.1,531.6 L876.1,549.9 L860.3,559.1 L844.5,549.9 L844.5,531.6Z" fill="none" stroke="#4a4a4a" stroke-width="2.7" stroke-linejoin="round"/>
<line x1="862.6" y1="528.9" x2="869.4" y2="532.9" stroke="#4a4a4a" stroke-width="2.295" stroke-linecap="round"/>
<line x1="869.4" y1="548.7" x2="862.6" y2="552.7" stroke="#4a4a4a" stroke-width="2.295" stroke-linecap="round"/>
<line x1="848.9" y1="544.8" x2="848.9" y2="536.8" stroke="#4a4a4a" stroke-width="2.295" stroke-linecap="round"/>
<line x1="844.5" y1="549.9" x2="839.0" y2="575.0" stroke="#4a4a4a" stroke-width="2.7" stroke-linecap="round"/>
<line x1="876.1" y1="549.9" x2="886.8" y2="551.3" stroke="#4a4a4a" stroke-width="2.43" stroke-linecap="round"/>
<text x="899.8" y="557.4" text-anchor="middle" font-size="12.5" font-weight="normal" style="fill:#333333;stroke:#333333;stroke-width:0.55px">OR</text>
<line x1="860.3" y1="522.5" x2="851.2" y2="508.4" stroke="#d04040" stroke-width="1.8" stroke-linecap="round"/>
<line x1="876.1" y1="531.6" x2="885.6" y2="519.5" stroke="#d04040" stroke-width="1.8" stroke-linecap="round"/>
<circle cx="851.2" cy="508.4" r="6.9" fill="#f7c490" stroke="#f0a868" stroke-width="1"/><text x="851.2" y="512.0" text-anchor="middle" font-size="9.5" font-weight="bold" style="fill:#d83018;stroke:#d83018;stroke-width:0.55px">F</text>
<circle cx="885.6" cy="519.5" r="6.9" fill="#f7c490" stroke="#f0a868" stroke-width="1"/><text x="885.6" y="523.1" text-anchor="middle" font-size="9.5" font-weight="bold" style="fill:#d83018;stroke:#d83018;stroke-width:0.55px">F</text>
<path d="M953.5,526.5 L969.3,535.6 L969.3,553.9 L953.5,563.1 L937.7,553.9 L937.7,535.6Z" fill="none" stroke="#4a4a4a" stroke-width="2.7" stroke-linejoin="round"/>
<line x1="955.8" y1="532.9" x2="962.6" y2="536.9" stroke="#4a4a4a" stroke-width="2.295" stroke-linecap="round"/>
<line x1="962.6" y1="552.7" x2="955.8" y2="556.7" stroke="#4a4a4a" stroke-width="2.295" stroke-linecap="round"/>
<line x1="942.1" y1="548.8" x2="942.1" y2="540.8" stroke="#4a4a4a" stroke-width="2.295" stroke-linecap="round"/>
<line x1="953.5" y1="563.1" x2="963.0" y2="585.0" stroke="#4a4a4a" stroke-width="2.7" stroke-linecap="round"/>
<line x1="937.7" y1="535.6" x2="927.5" y2="536.1" stroke="#4a4a4a" stroke-width="2.43" stroke-linecap="round"/>
<text x="915.0" y="541.2" text-anchor="middle" font-size="12.5" font-weight="normal" style="fill:#333333;stroke:#333333;stroke-width:0.55px">RO</text>
<line x1="953.5" y1="526.5" x2="940.3" y2="513.4" stroke="#d04040" stroke-width="1.8" stroke-linecap="round"/>
<line x1="969.3" y1="535.6" x2="975.7" y2="519.5" stroke="#d04040" stroke-width="1.8" stroke-linecap="round"/>
<circle cx="940.3" cy="513.4" r="6.9" fill="#f7c490" stroke="#f0a868" stroke-width="1"/><text x="940.3" y="517.0" text-anchor="middle" font-size="9.5" font-weight="bold" style="fill:#d83018;stroke:#d83018;stroke-width:0.55px">F</text>
<circle cx="975.7" cy="519.5" r="6.9" fill="#f7c490" stroke="#f0a868" stroke-width="1"/><text x="975.7" y="523.1" text-anchor="middle" font-size="9.5" font-weight="bold" style="fill:#d83018;stroke:#d83018;stroke-width:0.55px">F</text>
<path d="M1014.2,526.5 L1030.0,535.6 L1030.0,553.9 L1014.2,563.1 L998.4,553.9 L998.4,535.6Z" fill="none" stroke="#4a4a4a" stroke-width="2.7" stroke-linejoin="round"/>
<line x1="1016.5" y1="532.9" x2="1023.3" y2="536.9" stroke="#4a4a4a" stroke-width="2.295" stroke-linecap="round"/>
<line x1="1023.3" y1="552.7" x2="1016.5" y2="556.7" stroke="#4a4a4a" stroke-width="2.295" stroke-linecap="round"/>
<line x1="1002.8" y1="548.8" x2="1002.8" y2="540.8" stroke="#4a4a4a" stroke-width="2.295" stroke-linecap="round"/>
<line x1="1014.2" y1="563.1" x2="995.0" y2="582.0" stroke="#4a4a4a" stroke-width="2.7" stroke-linecap="round"/>
<line x1="1030.0" y1="553.9" x2="1041.6" y2="552.1" stroke="#4a4a4a" stroke-width="2.43" stroke-linecap="round"/>
<text x="1055.7" y="554.4" text-anchor="middle" font-size="12.5" font-weight="normal" style="fill:#333333;stroke:#333333;stroke-width:0.55px">OR</text>
<line x1="1014.2" y1="526.5" x2="1002.1" y2="514.4" stroke="#d04040" stroke-width="1.8" stroke-linecap="round"/>
<line x1="1030.0" y1="535.6" x2="1037.5" y2="519.5" stroke="#d04040" stroke-width="1.8" stroke-linecap="round"/>
<circle cx="1002.1" cy="514.4" r="6.9" fill="#f7c490" stroke="#f0a868" stroke-width="1"/><text x="1002.1" y="518.0" text-anchor="middle" font-size="9.5" font-weight="bold" style="fill:#d83018;stroke:#d83018;stroke-width:0.55px">F</text>
<circle cx="1037.5" cy="519.5" r="6.9" fill="#f7c490" stroke="#f0a868" stroke-width="1"/><text x="1037.5" y="523.1" text-anchor="middle" font-size="9.5" font-weight="bold" style="fill:#d83018;stroke:#d83018;stroke-width:0.55px">F</text>
<path d="M843.0,599.4 L858.8,608.6 L858.8,626.9 L843.0,636.0 L827.2,626.9 L827.2,608.6Z" fill="none" stroke="#4a4a4a" stroke-width="2.7" stroke-linejoin="round"/>
<line x1="845.3" y1="605.8" x2="852.1" y2="609.8" stroke="#4a4a4a" stroke-width="2.295" stroke-linecap="round"/>
<line x1="852.1" y1="625.6" x2="845.3" y2="629.6" stroke="#4a4a4a" stroke-width="2.295" stroke-linecap="round"/>
<line x1="831.6" y1="621.7" x2="831.6" y2="613.7" stroke="#4a4a4a" stroke-width="2.295" stroke-linecap="round"/>
<line x1="858.8" y1="608.6" x2="867.0" y2="578.0" stroke="#4a4a4a" stroke-width="2.7" stroke-linecap="round"/>
<line x1="827.2" y1="608.6" x2="817.6" y2="610.4" stroke="#4a4a4a" stroke-width="2.43" stroke-linecap="round"/>
<text x="806.0" y="617.2" text-anchor="middle" font-size="12.5" font-weight="normal" style="fill:#333333;stroke:#333333;stroke-width:0.55px">RO</text>
<line x1="827.2" y1="626.9" x2="824.8" y2="645.1" stroke="#d04040" stroke-width="1.8" stroke-linecap="round"/>
<line x1="858.8" y1="626.9" x2="860.3" y2="646.1" stroke="#d04040" stroke-width="1.8" stroke-linecap="round"/>
<circle cx="824.8" cy="645.1" r="6.9" fill="#f7c490" stroke="#f0a868" stroke-width="1"/><text x="824.8" y="648.7" text-anchor="middle" font-size="9.5" font-weight="bold" style="fill:#d83018;stroke:#d83018;stroke-width:0.55px">F</text>
<circle cx="860.3" cy="646.1" r="6.9" fill="#f7c490" stroke="#f0a868" stroke-width="1"/><text x="860.3" y="649.7" text-anchor="middle" font-size="9.5" font-weight="bold" style="fill:#d83018;stroke:#d83018;stroke-width:0.55px">F</text>
<path d="M899.8,599.4 L915.6,608.6 L915.6,626.9 L899.8,636.0 L884.0,626.9 L884.0,608.6Z" fill="none" stroke="#4a4a4a" stroke-width="2.7" stroke-linejoin="round"/>
<line x1="902.1" y1="605.8" x2="908.9" y2="609.8" stroke="#4a4a4a" stroke-width="2.295" stroke-linecap="round"/>
<line x1="908.9" y1="625.6" x2="902.1" y2="629.6" stroke="#4a4a4a" stroke-width="2.295" stroke-linecap="round"/>
<line x1="888.4" y1="621.7" x2="888.4" y2="613.7" stroke="#4a4a4a" stroke-width="2.295" stroke-linecap="round"/>
<line x1="899.8" y1="599.4" x2="881.0" y2="580.0" stroke="#4a4a4a" stroke-width="2.7" stroke-linecap="round"/>
<line x1="915.6" y1="626.9" x2="925.8" y2="623.2" stroke="#4a4a4a" stroke-width="2.43" stroke-linecap="round"/>
<text x="938.3" y="623.2" text-anchor="middle" font-size="12.5" font-weight="normal" style="fill:#333333;stroke:#333333;stroke-width:0.55px">OR</text>
<line x1="884.0" y1="626.9" x2="879.5" y2="646.1" stroke="#d04040" stroke-width="1.8" stroke-linecap="round"/>
<line x1="899.8" y1="636.0" x2="916.0" y2="646.1" stroke="#d04040" stroke-width="1.8" stroke-linecap="round"/>
<circle cx="879.5" cy="646.1" r="6.9" fill="#f7c490" stroke="#f0a868" stroke-width="1"/><text x="879.5" y="649.7" text-anchor="middle" font-size="9.5" font-weight="bold" style="fill:#d83018;stroke:#d83018;stroke-width:0.55px">F</text>
<circle cx="916.0" cy="646.1" r="6.9" fill="#f7c490" stroke="#f0a868" stroke-width="1"/><text x="916.0" y="649.7" text-anchor="middle" font-size="9.5" font-weight="bold" style="fill:#d83018;stroke:#d83018;stroke-width:0.55px">F</text>
<path d="M1000.0,615.7 L1015.8,624.9 L1015.8,643.1 L1000.0,652.3 L984.2,643.1 L984.2,624.9Z" fill="none" stroke="#4a4a4a" stroke-width="2.7" stroke-linejoin="round"/>
<line x1="1002.3" y1="622.1" x2="1009.1" y2="626.1" stroke="#4a4a4a" stroke-width="2.295" stroke-linecap="round"/>
<line x1="1009.1" y1="641.9" x2="1002.3" y2="645.9" stroke="#4a4a4a" stroke-width="2.295" stroke-linecap="round"/>
<line x1="988.6" y1="638.0" x2="988.6" y2="630.0" stroke="#4a4a4a" stroke-width="2.295" stroke-linecap="round"/>
<line x1="1000.0" y1="615.7" x2="1010.0" y2="581.0" stroke="#4a4a4a" stroke-width="2.7" stroke-linecap="round"/>
<line x1="984.2" y1="624.9" x2="974.6" y2="627.1" stroke="#4a4a4a" stroke-width="2.43" stroke-linecap="round"/>
<text x="963.0" y="634.4" text-anchor="middle" font-size="12.5" font-weight="normal" style="fill:#333333;stroke:#333333;stroke-width:0.55px">RO</text>
<line x1="984.2" y1="643.1" x2="985.9" y2="653.2" stroke="#d04040" stroke-width="1.8" stroke-linecap="round"/>
<line x1="1015.8" y1="643.1" x2="1023.3" y2="647.1" stroke="#d04040" stroke-width="1.8" stroke-linecap="round"/>
<circle cx="985.9" cy="653.2" r="6.9" fill="#f7c490" stroke="#f0a868" stroke-width="1"/><text x="985.9" y="656.8" text-anchor="middle" font-size="9.5" font-weight="bold" style="fill:#d83018;stroke:#d83018;stroke-width:0.55px">F</text>
<circle cx="1023.3" cy="647.1" r="6.9" fill="#f7c490" stroke="#f0a868" stroke-width="1"/><text x="1023.3" y="650.7" text-anchor="middle" font-size="9.5" font-weight="bold" style="fill:#d83018;stroke:#d83018;stroke-width:0.55px">F</text>
<path d="M1060.8,593.4 L1076.6,602.6 L1076.6,620.9 L1060.8,630.0 L1045.0,620.9 L1045.0,602.6Z" fill="none" stroke="#4a4a4a" stroke-width="2.7" stroke-linejoin="round"/>
<line x1="1063.1" y1="599.8" x2="1069.9" y2="603.8" stroke="#4a4a4a" stroke-width="2.295" stroke-linecap="round"/>
<line x1="1069.9" y1="619.6" x2="1063.1" y2="623.6" stroke="#4a4a4a" stroke-width="2.295" stroke-linecap="round"/>
<line x1="1049.4" y1="615.7" x2="1049.4" y2="607.7" stroke="#4a4a4a" stroke-width="2.295" stroke-linecap="round"/>
<line x1="1045.0" y1="602.6" x2="1037.0" y2="574.0" stroke="#4a4a4a" stroke-width="2.7" stroke-linecap="round"/>
<line x1="1076.6" y1="602.6" x2="1087.3" y2="599.8" stroke="#4a4a4a" stroke-width="2.43" stroke-linecap="round"/>
<text x="1100.3" y="601.0" text-anchor="middle" font-size="12.5" font-weight="normal" style="fill:#333333;stroke:#333333;stroke-width:0.55px">OR</text>
<line x1="1060.8" y1="630.0" x2="1049.7" y2="638.0" stroke="#d04040" stroke-width="1.8" stroke-linecap="round"/>
<line x1="1076.6" y1="620.9" x2="1084.1" y2="627.9" stroke="#d04040" stroke-width="1.8" stroke-linecap="round"/>
<circle cx="1049.7" cy="638.0" r="6.9" fill="#f7c490" stroke="#f0a868" stroke-width="1"/><text x="1049.7" y="641.6" text-anchor="middle" font-size="9.5" font-weight="bold" style="fill:#d83018;stroke:#d83018;stroke-width:0.55px">F</text>
<circle cx="1084.1" cy="627.9" r="6.9" fill="#f7c490" stroke="#f0a868" stroke-width="1"/><text x="1084.1" y="631.5" text-anchor="middle" font-size="9.5" font-weight="bold" style="fill:#d83018;stroke:#d83018;stroke-width:0.55px">F</text>
<circle cx="782.3" cy="565.0" r="5.8" fill="url(#beadG)" stroke="#0b7d1a" stroke-width="2.4"/>
<circle cx="796.3" cy="568.1" r="5.8" fill="url(#beadG)" stroke="#0b7d1a" stroke-width="2.4"/>
<circle cx="810.5" cy="571.1" r="5.8" fill="url(#beadG)" stroke="#0b7d1a" stroke-width="2.4"/>
<circle cx="824.7" cy="573.2" r="5.8" fill="url(#beadG)" stroke="#0b7d1a" stroke-width="2.4"/>
<circle cx="838.9" cy="575.2" r="5.8" fill="url(#beadG)" stroke="#0b7d1a" stroke-width="2.4"/>
<circle cx="853.1" cy="576.2" r="5.8" fill="url(#beadG)" stroke="#0b7d1a" stroke-width="2.4"/>
<circle cx="867.3" cy="578.2" r="5.8" fill="url(#beadG)" stroke="#0b7d1a" stroke-width="2.4"/>
<circle cx="881.5" cy="580.3" r="5.8" fill="url(#beadG)" stroke="#0b7d1a" stroke-width="2.4"/>
<circle cx="895.7" cy="581.3" r="5.8" fill="url(#beadG)" stroke="#0b7d1a" stroke-width="2.4"/>
<circle cx="909.9" cy="583.3" r="5.8" fill="url(#beadG)" stroke="#0b7d1a" stroke-width="2.4"/>
<circle cx="924.1" cy="585.3" r="5.8" fill="url(#beadG)" stroke="#0b7d1a" stroke-width="2.4"/>
<circle cx="938.3" cy="586.3" r="5.8" fill="url(#beadG)" stroke="#0b7d1a" stroke-width="2.4"/>
<circle cx="952.5" cy="586.3" r="5.8" fill="url(#beadG)" stroke="#0b7d1a" stroke-width="2.4"/>
<circle cx="966.7" cy="585.3" r="5.8" fill="url(#beadG)" stroke="#0b7d1a" stroke-width="2.4"/>
<circle cx="980.9" cy="583.3" r="5.8" fill="url(#beadG)" stroke="#0b7d1a" stroke-width="2.4"/>
<circle cx="995.1" cy="582.3" r="5.8" fill="url(#beadG)" stroke="#0b7d1a" stroke-width="2.4"/>
<circle cx="1009.3" cy="580.3" r="5.8" fill="url(#beadG)" stroke="#0b7d1a" stroke-width="2.4"/>
<circle cx="1023.5" cy="577.2" r="5.8" fill="url(#beadG)" stroke="#0b7d1a" stroke-width="2.4"/>
<circle cx="1037.0" cy="573.2" r="5.8" fill="url(#beadG)" stroke="#0b7d1a" stroke-width="2.4"/>
<circle cx="1049.7" cy="567.1" r="5.8" fill="url(#beadG)" stroke="#0b7d1a" stroke-width="2.4"/>
<text x="937" y="682.5" text-anchor="middle" font-size="19" font-weight="bold" style="fill:#111;stroke:#111;stroke-width:0.55px"><tspan font-style="italic">m</tspan>-PBTQ<tspan style="fill:#d81818;stroke:#d81818;stroke-width:0.55px">4F</tspan></text>
<path d="M514.7,651.0 C519.8,651.9 536.8,652.9 545.2,656.3 C553.6,659.7 559.9,665.9 565.3,671.5 C570.7,677.1 574.0,683.7 577.4,690.0 C580.8,696.3 583.6,702.1 585.5,709.4 C587.4,716.6 588.5,725.8 588.7,733.5 C588.9,741.2 588.3,748.2 586.8,755.4 C585.3,762.6 582.4,770.1 579.5,776.6 C576.6,783.1 573.4,789.5 569.4,794.4 C565.4,799.3 560.9,802.9 555.8,806.2 C550.7,809.5 541.7,812.7 538.9,814.0 L532.9,805.0 C534.9,804.5 540.1,804.0 544.8,802.0 C549.5,800.0 556.0,796.8 560.9,792.7 C565.8,788.6 570.4,783.6 574.4,777.4 C578.4,771.2 582.6,762.7 584.6,755.4 C586.6,748.1 586.6,740.2 586.3,733.5 C586.0,726.8 584.8,721.0 583.0,715.0 C581.2,709.0 578.8,702.9 575.8,697.3 C572.8,691.7 570.4,686.3 565.3,681.2 C560.2,676.1 553.6,669.9 545.2,666.7 C536.8,663.5 519.8,662.7 514.7,661.9 Z" fill="url(#arcL)"/><path d="M515.2,813.4 L532.1,799.3 L535.0,806.0 L534.5,814.0 L532.1,824.3Z" fill="#000"/>
<path d="M825.3,651.0 C820.2,651.9 803.2,652.9 794.8,656.3 C786.4,659.7 780.1,665.9 774.7,671.5 C769.3,677.1 766.0,683.7 762.6,690.0 C759.2,696.3 756.4,702.1 754.5,709.4 C752.6,716.6 751.5,725.8 751.3,733.5 C751.1,741.2 751.7,748.2 753.2,755.4 C754.7,762.6 757.6,770.1 760.5,776.6 C763.4,783.1 766.6,789.5 770.6,794.4 C774.6,799.3 779.1,802.9 784.2,806.2 C789.3,809.5 798.3,812.7 801.1,814.0 L807.1,805.0 C805.1,804.5 799.9,804.0 795.2,802.0 C790.5,800.0 784.0,796.8 779.1,792.7 C774.2,788.6 769.6,783.6 765.6,777.4 C761.6,771.2 757.4,762.7 755.4,755.4 C753.4,748.1 753.4,740.2 753.7,733.5 C754.0,726.8 755.2,721.0 757.0,715.0 C758.8,709.0 761.2,702.9 764.2,697.3 C767.2,691.7 769.6,686.3 774.7,681.2 C779.8,676.1 786.4,669.9 794.8,666.7 C803.2,663.5 820.2,662.7 825.3,661.9 Z" fill="url(#arcL)"/><path d="M824.8,813.4 L807.9,799.3 L805.0,806.0 L805.5,814.0 L807.9,824.3Z" fill="#000"/>
<text x="665" y="721.3" text-anchor="middle" font-size="20.4" font-weight="bold" style="fill:#1a8fdc;stroke:#1a8fdc;stroke-width:0.55px">PS-PEG-COOH</text>
<path d="M596,736 L604,733 L616,741 L630,733 L644,741 L655,735" fill="none" stroke="#555" stroke-width="1.8"/>
<path d="M599,728 Q592,737 599,748 M652,728 Q659,737 652,748" fill="none" stroke="#333" stroke-width="1.6"/>
<text x="659" y="750" font-size="7" style="fill:#333;stroke:#333;stroke-width:0.55px">m</text>
<line x1="616.0" y1="741.0" x2="616.0" y2="757.0" stroke="#555" stroke-width="1.8" stroke-linecap="round"/>
<line x1="644.0" y1="741.0" x2="644.0" y2="757.0" stroke="#555" stroke-width="1.8" stroke-linecap="round"/>
<path d="M616.0,756.5 L626.4,762.5 L626.4,774.5 L616.0,780.5 L605.6,774.5 L605.6,762.5Z" fill="#1a8cd8" stroke="#0b4a80" stroke-width="2.4" stroke-linejoin="round"/>
<path d="M644.5,756.5 L654.9,762.5 L654.9,774.5 L644.5,780.5 L634.1,774.5 L634.1,762.5Z" fill="#1a8cd8" stroke="#0b4a80" stroke-width="2.4" stroke-linejoin="round"/>
<path d="M616,780 L616,794 L626,801 L640,793 L654,801 L664,793 L676,800 L688,793 L700,800 L712,792 L724,799 L736,792 L748,799 L762,792" fill="none" stroke="#555" stroke-width="1.6"/>
<path d="M655,787 Q650,795 655,807 M693,784 Q698,793 693,803" fill="none" stroke="#444" stroke-width="1.4"/>
<line x1="710.0" y1="792.0" x2="710.0" y2="783.0" stroke="#555" stroke-width="1.5" stroke-linecap="round"/>
<line x1="744.0" y1="799.0" x2="744.0" y2="810.0" stroke="#555" stroke-width="1.5" stroke-linecap="round"/>
<circle cx="710" cy="780" r="2.6" fill="none" stroke="#555" stroke-width="1.3"/><circle cx="744" cy="813" r="2.6" fill="none" stroke="#555" stroke-width="1.3"/>
<text x="767" y="795" font-size="7" style="fill:#555;stroke:#555;stroke-width:0.55px">OH</text>
<path d="M675.0,757.0 L676.1,758.5 L677.2,759.8 L678.2,760.7 L679.3,761.0 L680.4,760.7 L681.5,759.8 L682.6,758.5 L683.7,757.0 L684.8,755.5 L685.8,754.2 L686.9,753.3 L688.0,753.0 L689.1,753.3 L690.2,754.2 L691.2,755.5 L692.3,757.0 L693.4,758.5 L694.5,759.8 L695.6,760.7 L696.7,761.0 L697.8,760.7 L698.8,759.8 L699.9,758.5 L701.0,757.0 L702.1,755.5 L703.2,754.2 L704.2,753.3 L705.3,753.0 L706.4,753.3 L707.5,754.2 L708.6,755.5 L709.7,757.0 L710.8,758.5 L711.8,759.8 L712.9,760.7 L714.0,761.0 L715.1,760.7 L716.2,759.8 L717.2,758.5 L718.3,757.0 L719.4,755.5 L720.5,754.2 L721.6,753.3 L722.7,753.0 L723.8,753.3 L724.8,754.2 L725.9,755.5 L727.0,757.0" fill="none" stroke="#74bff0" stroke-width="2" stroke-linecap="round"/>
<path d="M447.4,824.0 L448.6,823.2 L449.6,822.4 L450.1,821.6 L450.1,820.8 L449.5,819.9 L448.5,819.1 L447.2,818.3 L446.0,817.5 L445.1,816.7 L444.6,815.9 L444.7,815.1 L445.4,814.2 L446.5,813.4 L447.8,812.6 L449.0,811.8 L449.8,811.0 L450.2,810.2 L450.0,809.4 L449.2,808.6 L448.1,807.8 L446.9,806.9 L445.7,806.1 L444.9,805.3 L444.6,804.5 L444.9,803.7 L445.7,802.9 L446.9,802.1 L448.1,801.2 L449.2,800.4 L450.0,799.6 L450.2,798.8 L449.8,798.0 L449.0,797.2 L447.8,796.4 L446.5,795.6 L445.4,794.8 L444.7,793.9 L444.6,793.1 L445.1,792.3 L446.0,791.5 L447.2,790.7 L448.5,789.9 L449.5,789.1 L450.1,788.2 L450.1,787.4 L449.6,786.6 L448.6,785.8 L447.4,785.0" fill="none" stroke="#5cb0ea" stroke-width="1.7" stroke-linecap="round"/>
<path d="M473.9,826.5 L475.3,826.0 L476.4,825.4 L477.1,824.7 L477.2,823.9 L476.7,822.9 L475.9,821.9 L474.8,820.9 L473.8,819.9 L473.0,818.9 L472.7,818.0 L473.0,817.3 L473.8,816.6 L475.0,816.0 L476.4,815.4 L477.7,814.9 L478.7,814.2 L479.3,813.5 L479.2,812.7 L478.6,811.7 L477.7,810.7 L476.6,809.7 L475.6,808.7 L475.0,807.7 L474.8,806.9 L475.3,806.1 L476.2,805.5 L477.5,804.9 L478.9,804.3 L480.2,803.7 L481.0,803.1 L481.4,802.3 L481.2,801.5 L480.5,800.5 L479.5,799.5 L478.4,798.4 L477.5,797.4 L477.0,796.5 L477.0,795.7 L477.6,795.0 L478.7,794.4 L480.0,793.8 L481.4,793.2 L482.6,792.6 L483.3,791.9 L483.5,791.1 L483.1,790.3 L482.3,789.3 L481.3,788.2" fill="none" stroke="#5cb0ea" stroke-width="1.7" stroke-linecap="round"/>
<path d="M499.4,834.0 L500.9,833.7 L502.1,833.3 L502.9,832.8 L503.2,832.0 L502.9,831.0 L502.2,829.9 L501.4,828.7 L500.5,827.5 L500.0,826.4 L499.9,825.5 L500.3,824.7 L501.2,824.2 L502.5,823.9 L504.0,823.6 L505.4,823.3 L506.5,822.9 L507.2,822.2 L507.3,821.4 L506.9,820.4 L506.1,819.2 L505.3,818.0 L504.5,816.8 L504.0,815.7 L504.1,814.9 L504.7,814.2 L505.7,813.8 L507.1,813.5 L508.6,813.2 L509.9,812.8 L510.9,812.4 L511.4,811.7 L511.3,810.8 L510.8,809.7 L510.0,808.5 L509.2,807.3 L508.5,806.1 L508.1,805.1 L508.3,804.3 L509.0,803.7 L510.2,803.3 L511.6,803.0 L513.1,802.7 L514.4,802.4 L515.2,801.8 L515.6,801.1 L515.4,800.2 L514.8,799.0 L513.9,797.8" fill="none" stroke="#5cb0ea" stroke-width="1.7" stroke-linecap="round"/>
<path d="M523.1,846.2 L524.6,846.2 L525.8,846.1 L526.7,845.7 L527.1,845.0 L527.1,843.9 L526.6,842.7 L526.0,841.3 L525.4,840.0 L525.1,838.8 L525.1,837.9 L525.7,837.3 L526.7,837.0 L528.0,836.9 L529.5,836.9 L531.0,836.8 L532.2,836.6 L532.9,836.1 L533.2,835.3 L533.0,834.2 L532.5,832.9 L531.9,831.6 L531.3,830.3 L531.1,829.1 L531.3,828.3 L532.0,827.8 L533.1,827.5 L534.5,827.5 L536.0,827.5 L537.4,827.4 L538.4,827.1 L539.1,826.5 L539.2,825.7 L538.9,824.5 L538.3,823.2 L537.7,821.8 L537.2,820.5 L537.1,819.5 L537.4,818.7 L538.3,818.3 L539.5,818.1 L540.9,818.1 L542.4,818.1 L543.7,818.0 L544.7,817.6 L545.2,817.0 L545.2,816.0 L544.8,814.8 L544.2,813.4" fill="none" stroke="#5cb0ea" stroke-width="1.7" stroke-linecap="round"/>
<path d="M544.0,862.7 L545.5,862.9 L546.7,863.0 L547.7,862.8 L548.2,862.2 L548.3,861.2 L548.2,859.9 L547.8,858.4 L547.5,857.0 L547.4,855.8 L547.6,854.9 L548.3,854.4 L549.3,854.3 L550.6,854.4 L552.1,854.7 L553.5,854.9 L554.7,854.9 L555.6,854.6 L556.0,853.9 L556.0,852.8 L555.7,851.4 L555.4,850.0 L555.1,848.6 L555.1,847.4 L555.4,846.6 L556.2,846.2 L557.4,846.2 L558.8,846.4 L560.2,846.7 L561.6,846.9 L562.7,846.8 L563.4,846.4 L563.7,845.5 L563.6,844.3 L563.3,842.9 L563.0,841.5 L562.8,840.1 L562.8,839.1 L563.3,838.4 L564.2,838.1 L565.4,838.2 L566.9,838.4 L568.3,838.7 L569.6,838.8 L570.6,838.7 L571.2,838.1 L571.4,837.2 L571.3,835.9 L570.9,834.5" fill="none" stroke="#5cb0ea" stroke-width="1.7" stroke-linecap="round"/>
<path d="M561.4,882.8 L562.8,883.3 L564.1,883.7 L565.0,883.6 L565.7,883.1 L566.0,882.2 L566.0,880.8 L566.0,879.3 L565.9,877.9 L566.0,876.7 L566.4,875.8 L567.2,875.4 L568.2,875.5 L569.5,875.9 L570.9,876.5 L572.3,877.0 L573.4,877.2 L574.3,877.1 L574.9,876.4 L575.1,875.3 L575.1,874.0 L575.0,872.4 L575.0,871.0 L575.2,869.9 L575.7,869.2 L576.5,869.0 L577.7,869.1 L579.0,869.6 L580.4,870.2 L581.7,870.6 L582.8,870.8 L583.6,870.5 L584.0,869.7 L584.2,868.5 L584.2,867.1 L584.1,865.6 L584.1,864.2 L584.4,863.2 L585.0,862.6 L585.9,862.5 L587.1,862.8 L588.5,863.3 L589.9,863.9 L591.1,864.2 L592.1,864.3 L592.8,863.8 L593.2,862.9 L593.3,861.6 L593.2,860.2" fill="none" stroke="#5cb0ea" stroke-width="1.7" stroke-linecap="round"/>
<path d="M574.7,905.8 L576.0,906.6 L577.1,907.2 L578.1,907.3 L578.8,907.0 L579.3,906.1 L579.6,904.8 L579.8,903.3 L580.1,901.9 L580.4,900.7 L581.0,899.9 L581.8,899.7 L582.8,900.0 L584.0,900.6 L585.2,901.4 L586.5,902.2 L587.6,902.6 L588.5,902.6 L589.1,902.1 L589.6,901.1 L589.8,899.8 L590.0,898.3 L590.3,896.9 L590.7,895.8 L591.3,895.2 L592.2,895.1 L593.3,895.5 L594.5,896.2 L595.7,897.1 L596.9,897.7 L598.0,898.1 L598.8,897.9 L599.4,897.2 L599.8,896.1 L600.0,894.7 L600.2,893.2 L600.5,891.9 L601.0,890.9 L601.7,890.5 L602.6,890.6 L603.7,891.1 L605.0,891.8 L606.2,892.6 L607.4,893.2 L608.4,893.5 L609.1,893.2 L609.7,892.3 L610.0,891.1 L610.2,889.6" fill="none" stroke="#5cb0ea" stroke-width="1.7" stroke-linecap="round"/>
<path d="M583.5,931.0 L584.5,932.0 L585.6,932.8 L586.5,933.1 L587.2,932.9 L587.9,932.1 L588.4,930.9 L588.9,929.5 L589.4,928.1 L590.0,927.0 L590.7,926.4 L591.5,926.3 L592.5,926.8 L593.5,927.6 L594.6,928.7 L595.7,929.6 L596.7,930.3 L597.5,930.5 L598.3,930.1 L598.9,929.1 L599.4,927.9 L599.9,926.4 L600.4,925.1 L601.0,924.1 L601.7,923.7 L602.6,923.8 L603.6,924.4 L604.6,925.3 L605.7,926.3 L606.8,927.2 L607.8,927.8 L608.6,927.8 L609.3,927.2 L609.9,926.2 L610.4,924.8 L610.9,923.4 L611.4,922.2 L612.0,921.3 L612.8,921.0 L613.7,921.3 L614.7,922.0 L615.8,923.0 L616.9,924.0 L617.9,924.8 L618.8,925.2 L619.6,925.0 L620.3,924.3 L620.9,923.2 L621.4,921.8" fill="none" stroke="#5cb0ea" stroke-width="1.7" stroke-linecap="round"/>
<path d="M587.2,957.3 L588.1,958.5 L589.0,959.5 L589.8,960.0 L590.6,959.9 L591.4,959.2 L592.2,958.2 L592.9,956.9 L593.7,955.6 L594.4,954.7 L595.2,954.2 L596.0,954.3 L596.9,954.9 L597.7,955.9 L598.6,957.2 L599.5,958.3 L600.3,959.1 L601.2,959.5 L602.0,959.2 L602.7,958.4 L603.5,957.3 L604.3,956.0 L605.0,954.8 L605.8,953.9 L606.6,953.6 L607.4,953.9 L608.3,954.6 L609.1,955.7 L610.0,957.0 L610.9,958.1 L611.7,958.8 L612.5,958.9 L613.3,958.5 L614.1,957.6 L614.9,956.4 L615.6,955.1 L616.4,954.0 L617.1,953.3 L617.9,953.1 L618.8,953.5 L619.6,954.4 L620.5,955.6 L621.4,956.8 L622.2,957.8 L623.1,958.3 L623.9,958.3 L624.7,957.8 L625.4,956.8 L626.2,955.5" fill="none" stroke="#5cb0ea" stroke-width="1.7" stroke-linecap="round"/>
<path d="M586.0,983.9 L586.6,985.3 L587.3,986.4 L588.0,987.0 L588.8,987.1 L589.7,986.6 L590.6,985.7 L591.6,984.6 L592.6,983.5 L593.5,982.7 L594.4,982.3 L595.2,982.6 L595.9,983.4 L596.6,984.5 L597.2,985.9 L597.8,987.2 L598.5,988.2 L599.2,988.7 L600.1,988.6 L601.0,987.9 L602.0,987.0 L602.9,985.8 L603.9,984.8 L604.8,984.1 L605.7,983.9 L606.4,984.3 L607.1,985.2 L607.8,986.5 L608.4,987.9 L609.0,989.1 L609.7,990.0 L610.5,990.3 L611.4,990.0 L612.3,989.3 L613.3,988.2 L614.3,987.1 L615.2,986.1 L616.1,985.6 L616.9,985.6 L617.7,986.1 L618.3,987.2 L619.0,988.5 L619.6,989.8 L620.3,991.0 L621.0,991.7 L621.8,991.8 L622.7,991.4 L623.6,990.6 L624.6,989.5" fill="none" stroke="#5cb0ea" stroke-width="1.7" stroke-linecap="round"/>
<path d="M579.7,1009.8 L580.1,1011.2 L580.5,1012.4 L581.1,1013.2 L581.9,1013.4 L582.9,1013.1 L584.0,1012.4 L585.1,1011.5 L586.3,1010.6 L587.4,1010.0 L588.3,1009.8 L589.0,1010.2 L589.6,1011.1 L590.0,1012.4 L590.3,1013.9 L590.7,1015.2 L591.2,1016.3 L591.8,1016.9 L592.7,1017.0 L593.7,1016.6 L594.8,1015.8 L596.0,1014.9 L597.1,1014.0 L598.2,1013.5 L599.0,1013.5 L599.7,1014.1 L600.2,1015.1 L600.6,1016.4 L601.0,1017.9 L601.4,1019.2 L601.9,1020.2 L602.6,1020.7 L603.5,1020.6 L604.5,1020.0 L605.7,1019.2 L606.9,1018.2 L608.0,1017.5 L609.0,1017.1 L609.8,1017.3 L610.4,1018.0 L610.9,1019.1 L611.2,1020.5 L611.6,1022.0 L612.0,1023.2 L612.6,1024.0 L613.4,1024.3 L614.3,1024.1 L615.4,1023.4 L616.6,1022.5" fill="none" stroke="#5cb0ea" stroke-width="1.7" stroke-linecap="round"/>
<path d="M568.6,1034.0 L568.7,1035.5 L568.9,1036.7 L569.4,1037.6 L570.1,1038.0 L571.1,1037.9 L572.3,1037.4 L573.7,1036.7 L575.0,1036.0 L576.1,1035.6 L577.1,1035.7 L577.7,1036.2 L578.1,1037.2 L578.2,1038.5 L578.3,1040.0 L578.4,1041.4 L578.7,1042.6 L579.2,1043.3 L580.0,1043.6 L581.1,1043.3 L582.4,1042.8 L583.7,1042.1 L585.0,1041.5 L586.1,1041.2 L586.9,1041.3 L587.5,1042.0 L587.8,1043.1 L587.9,1044.5 L588.0,1046.0 L588.1,1047.4 L588.5,1048.4 L589.1,1049.0 L589.9,1049.1 L591.1,1048.8 L592.4,1048.1 L593.7,1047.4 L595.0,1046.9 L596.0,1046.7 L596.8,1047.0 L597.2,1047.8 L597.5,1049.0 L597.6,1050.5 L597.7,1052.0 L597.8,1053.3 L598.3,1054.2 L598.9,1054.7 L599.9,1054.6 L601.1,1054.2 L602.4,1053.5" fill="none" stroke="#5cb0ea" stroke-width="1.7" stroke-linecap="round"/>
<path d="M553.2,1055.7 L553.0,1057.1 L553.0,1058.4 L553.2,1059.4 L553.9,1059.9 L554.9,1059.9 L556.2,1059.7 L557.6,1059.3 L559.0,1058.9 L560.3,1058.7 L561.2,1058.9 L561.7,1059.5 L561.9,1060.6 L561.8,1061.9 L561.6,1063.4 L561.4,1064.8 L561.4,1066.0 L561.8,1066.8 L562.6,1067.2 L563.7,1067.2 L565.0,1066.9 L566.5,1066.4 L567.8,1066.1 L569.0,1066.0 L569.8,1066.3 L570.2,1067.1 L570.3,1068.2 L570.1,1069.6 L569.9,1071.1 L569.8,1072.5 L569.9,1073.6 L570.4,1074.3 L571.3,1074.5 L572.4,1074.4 L573.8,1074.0 L575.3,1073.6 L576.6,1073.3 L577.7,1073.4 L578.4,1073.8 L578.7,1074.7 L578.7,1075.9 L578.5,1077.4 L578.3,1078.8 L578.2,1080.2 L578.5,1081.1 L579.0,1081.7 L580.0,1081.8 L581.3,1081.6 L582.7,1081.2" fill="none" stroke="#5cb0ea" stroke-width="1.7" stroke-linecap="round"/>
<path d="M533.9,1074.0 L533.5,1075.5 L533.2,1076.7 L533.3,1077.7 L533.8,1078.3 L534.8,1078.5 L536.1,1078.5 L537.6,1078.4 L539.1,1078.3 L540.3,1078.4 L541.1,1078.7 L541.6,1079.4 L541.5,1080.5 L541.2,1081.8 L540.7,1083.2 L540.3,1084.6 L540.1,1085.8 L540.3,1086.6 L540.9,1087.1 L542.0,1087.3 L543.4,1087.3 L544.9,1087.1 L546.3,1087.0 L547.5,1087.2 L548.2,1087.6 L548.5,1088.5 L548.3,1089.6 L547.9,1091.0 L547.4,1092.4 L547.1,1093.7 L547.0,1094.8 L547.3,1095.6 L548.1,1096.0 L549.3,1096.1 L550.7,1096.0 L552.2,1095.8 L553.6,1095.8 L554.6,1096.0 L555.2,1096.6 L555.4,1097.5 L555.1,1098.7 L554.7,1100.1 L554.2,1101.5 L553.9,1102.8 L553.9,1103.8 L554.4,1104.5 L555.3,1104.8 L556.6,1104.8 L558.1,1104.7" fill="none" stroke="#5cb0ea" stroke-width="1.7" stroke-linecap="round"/>
<path d="M511.6,1088.4 L510.8,1089.7 L510.3,1090.9 L510.2,1091.9 L510.6,1092.6 L511.5,1093.0 L512.8,1093.3 L514.3,1093.4 L515.8,1093.6 L517.0,1093.9 L517.7,1094.4 L518.0,1095.2 L517.8,1096.2 L517.2,1097.4 L516.4,1098.7 L515.8,1100.0 L515.4,1101.1 L515.4,1102.0 L516.0,1102.6 L517.0,1103.0 L518.4,1103.2 L519.9,1103.4 L521.3,1103.5 L522.3,1103.9 L523.0,1104.5 L523.1,1105.3 L522.7,1106.4 L522.1,1107.7 L521.3,1109.0 L520.7,1110.2 L520.4,1111.3 L520.6,1112.1 L521.3,1112.7 L522.5,1113.0 L523.9,1113.2 L525.4,1113.3 L526.7,1113.5 L527.7,1113.9 L528.2,1114.6 L528.1,1115.5 L527.7,1116.7 L527.0,1118.0 L526.2,1119.3 L525.7,1120.5 L525.5,1121.5 L525.9,1122.2 L526.7,1122.7 L527.9,1122.9 L529.4,1123.1" fill="none" stroke="#5cb0ea" stroke-width="1.7" stroke-linecap="round"/>
<path d="M486.8,1098.3 L485.9,1099.5 L485.2,1100.5 L484.9,1101.4 L485.2,1102.2 L486.0,1102.8 L487.2,1103.3 L488.6,1103.7 L490.0,1104.2 L491.1,1104.7 L491.8,1105.3 L491.9,1106.2 L491.5,1107.1 L490.7,1108.2 L489.7,1109.3 L488.8,1110.5 L488.2,1111.5 L488.1,1112.4 L488.5,1113.1 L489.4,1113.7 L490.7,1114.1 L492.2,1114.5 L493.5,1115.0 L494.5,1115.6 L495.0,1116.3 L495.0,1117.1 L494.4,1118.1 L493.5,1119.2 L492.6,1120.4 L491.7,1121.5 L491.2,1122.4 L491.3,1123.3 L491.8,1124.0 L492.9,1124.5 L494.3,1124.9 L495.7,1125.4 L497.0,1125.8 L497.9,1126.4 L498.2,1127.2 L498.0,1128.1 L497.3,1129.1 L496.4,1130.2 L495.4,1131.4 L494.7,1132.4 L494.3,1133.4 L494.5,1134.2 L495.2,1134.8 L496.4,1135.3 L497.8,1135.7" fill="none" stroke="#5cb0ea" stroke-width="1.7" stroke-linecap="round"/>
<path d="M460.7,1103.4 L459.6,1104.3 L458.7,1105.2 L458.2,1106.1 L458.3,1106.9 L459.0,1107.6 L460.1,1108.3 L461.4,1109.0 L462.7,1109.7 L463.7,1110.4 L464.2,1111.2 L464.2,1112.0 L463.6,1112.9 L462.6,1113.8 L461.4,1114.7 L460.3,1115.6 L459.5,1116.5 L459.2,1117.4 L459.5,1118.2 L460.3,1118.9 L461.5,1119.6 L462.9,1120.3 L464.1,1121.0 L465.0,1121.7 L465.3,1122.5 L465.1,1123.3 L464.4,1124.2 L463.3,1125.2 L462.1,1126.1 L461.1,1127.0 L460.4,1127.9 L460.3,1128.7 L460.8,1129.5 L461.7,1130.2 L463.0,1130.9 L464.3,1131.6 L465.5,1132.3 L466.2,1133.0 L466.4,1133.8 L466.0,1134.7 L465.2,1135.6 L464.1,1136.5 L462.9,1137.4 L461.9,1138.3 L461.4,1139.2 L461.4,1140.0 L462.0,1140.8 L463.1,1141.5 L464.4,1142.2" fill="none" stroke="#5cb0ea" stroke-width="1.7" stroke-linecap="round"/>
<path d="M434.1,1103.4 L432.8,1104.1 L431.7,1104.8 L431.1,1105.5 L431.1,1106.3 L431.6,1107.2 L432.6,1108.1 L433.7,1109.0 L434.9,1110.0 L435.7,1110.9 L436.1,1111.7 L435.9,1112.5 L435.1,1113.3 L434.0,1114.0 L432.6,1114.7 L431.4,1115.4 L430.4,1116.1 L430.0,1116.9 L430.1,1117.7 L430.8,1118.6 L431.8,1119.5 L433.0,1120.4 L434.1,1121.3 L434.8,1122.2 L435.0,1123.0 L434.7,1123.8 L433.8,1124.6 L432.6,1125.3 L431.2,1125.9 L430.0,1126.6 L429.2,1127.4 L428.9,1128.2 L429.2,1129.0 L430.0,1129.9 L431.1,1130.8 L432.3,1131.8 L433.3,1132.7 L433.9,1133.5 L433.9,1134.4 L433.4,1135.1 L432.4,1135.9 L431.1,1136.5 L429.8,1137.2 L428.7,1137.9 L428.0,1138.7 L427.9,1139.5 L428.3,1140.4 L429.2,1141.3 L430.4,1142.2" fill="none" stroke="#5cb0ea" stroke-width="1.7" stroke-linecap="round"/>
<path d="M408.0,1098.3 L406.5,1098.8 L405.4,1099.3 L404.6,1099.9 L404.4,1100.7 L404.8,1101.6 L405.6,1102.7 L406.5,1103.8 L407.5,1105.0 L408.1,1106.0 L408.3,1106.9 L408.0,1107.7 L407.1,1108.2 L405.8,1108.7 L404.4,1109.1 L403.0,1109.6 L402.0,1110.1 L401.4,1110.8 L401.4,1111.6 L401.8,1112.6 L402.7,1113.7 L403.7,1114.9 L404.6,1116.0 L405.1,1117.0 L405.2,1117.8 L404.6,1118.5 L403.6,1119.1 L402.3,1119.5 L400.9,1120.0 L399.5,1120.4 L398.6,1121.0 L398.2,1121.7 L398.3,1122.6 L398.9,1123.6 L399.8,1124.7 L400.8,1125.9 L401.6,1127.0 L402.0,1127.9 L401.9,1128.7 L401.3,1129.4 L400.1,1129.9 L398.7,1130.3 L397.3,1130.8 L396.1,1131.3 L395.3,1131.9 L395.0,1132.6 L395.3,1133.6 L396.0,1134.6 L397.0,1135.7" fill="none" stroke="#5cb0ea" stroke-width="1.7" stroke-linecap="round"/>
<path d="M383.2,1088.4 L381.8,1088.6 L380.5,1088.9 L379.7,1089.3 L379.4,1090.1 L379.5,1091.1 L380.1,1092.3 L380.8,1093.6 L381.5,1094.9 L382.0,1096.0 L382.0,1096.9 L381.5,1097.6 L380.5,1098.0 L379.2,1098.2 L377.7,1098.4 L376.3,1098.6 L375.1,1098.9 L374.4,1099.4 L374.2,1100.3 L374.5,1101.3 L375.2,1102.5 L375.9,1103.9 L376.6,1105.1 L376.9,1106.2 L376.8,1107.1 L376.2,1107.6 L375.1,1108.0 L373.7,1108.2 L372.2,1108.3 L370.8,1108.5 L369.8,1108.9 L369.2,1109.5 L369.2,1110.4 L369.6,1111.6 L370.3,1112.8 L371.0,1114.1 L371.6,1115.3 L371.8,1116.4 L371.6,1117.2 L370.8,1117.7 L369.6,1118.0 L368.1,1118.1 L366.7,1118.3 L365.4,1118.5 L364.5,1119.0 L364.1,1119.7 L364.1,1120.6 L364.6,1121.8 L365.4,1123.1" fill="none" stroke="#5cb0ea" stroke-width="1.7" stroke-linecap="round"/>
<path d="M360.9,1074.0 L359.4,1073.9 L358.1,1074.0 L357.2,1074.3 L356.7,1074.9 L356.7,1075.9 L357.0,1077.2 L357.5,1078.6 L357.9,1080.0 L358.2,1081.2 L358.0,1082.2 L357.4,1082.7 L356.4,1082.9 L355.0,1082.9 L353.5,1082.8 L352.1,1082.7 L350.9,1082.8 L350.1,1083.2 L349.8,1083.9 L349.9,1085.0 L350.2,1086.4 L350.7,1087.8 L351.1,1089.2 L351.3,1090.3 L351.0,1091.1 L350.3,1091.6 L349.1,1091.7 L347.7,1091.6 L346.2,1091.5 L344.8,1091.4 L343.8,1091.6 L343.1,1092.1 L342.9,1093.0 L343.1,1094.2 L343.5,1095.5 L344.0,1097.0 L344.3,1098.3 L344.4,1099.3 L344.0,1100.0 L343.1,1100.4 L341.9,1100.5 L340.4,1100.3 L338.9,1100.2 L337.6,1100.2 L336.6,1100.5 L336.1,1101.1 L336.0,1102.1 L336.3,1103.3 L336.7,1104.7" fill="none" stroke="#5cb0ea" stroke-width="1.7" stroke-linecap="round"/>
<path d="M341.6,1055.7 L340.2,1055.3 L338.9,1055.1 L338.0,1055.2 L337.4,1055.8 L337.1,1056.7 L337.2,1058.1 L337.4,1059.5 L337.6,1061.0 L337.6,1062.2 L337.3,1063.1 L336.6,1063.5 L335.5,1063.6 L334.2,1063.3 L332.8,1062.9 L331.4,1062.5 L330.2,1062.4 L329.3,1062.6 L328.8,1063.3 L328.7,1064.4 L328.8,1065.8 L329.1,1067.3 L329.2,1068.7 L329.1,1069.8 L328.7,1070.6 L327.9,1070.9 L326.7,1070.8 L325.4,1070.5 L323.9,1070.0 L322.6,1069.7 L321.5,1069.7 L320.7,1070.1 L320.4,1070.9 L320.3,1072.1 L320.5,1073.5 L320.7,1075.0 L320.8,1076.3 L320.6,1077.4 L320.1,1078.0 L319.2,1078.2 L318.0,1078.0 L316.5,1077.6 L315.1,1077.2 L313.8,1077.0 L312.8,1077.0 L312.2,1077.5 L311.9,1078.5 L311.9,1079.8 L312.1,1081.2" fill="none" stroke="#5cb0ea" stroke-width="1.7" stroke-linecap="round"/>
<path d="M326.2,1034.0 L324.8,1033.3 L323.6,1032.9 L322.7,1032.8 L322.0,1033.3 L321.6,1034.2 L321.4,1035.5 L321.3,1037.0 L321.2,1038.5 L321.0,1039.7 L320.5,1040.5 L319.7,1040.8 L318.7,1040.6 L317.5,1040.1 L316.1,1039.4 L314.8,1038.7 L313.7,1038.4 L312.8,1038.5 L312.2,1039.1 L311.9,1040.1 L311.7,1041.5 L311.7,1043.0 L311.5,1044.4 L311.2,1045.5 L310.7,1046.2 L309.8,1046.3 L308.7,1046.0 L307.4,1045.4 L306.1,1044.7 L304.8,1044.2 L303.8,1043.9 L302.9,1044.2 L302.4,1044.9 L302.2,1046.1 L302.0,1047.5 L302.0,1049.0 L301.8,1050.3 L301.4,1051.3 L300.8,1051.8 L299.9,1051.9 L298.7,1051.5 L297.4,1050.8 L296.1,1050.1 L294.8,1049.6 L293.8,1049.5 L293.1,1049.9 L292.7,1050.8 L292.5,1052.0 L292.4,1053.5" fill="none" stroke="#5cb0ea" stroke-width="1.7" stroke-linecap="round"/>
<path d="M315.1,1009.8 L313.9,1008.9 L312.8,1008.2 L311.9,1008.0 L311.1,1008.3 L310.6,1009.1 L310.1,1010.4 L309.8,1011.8 L309.4,1013.2 L309.0,1014.4 L308.3,1015.1 L307.5,1015.2 L306.5,1014.8 L305.4,1014.1 L304.2,1013.2 L303.1,1012.3 L302.0,1011.7 L301.1,1011.7 L300.4,1012.1 L299.9,1013.1 L299.5,1014.4 L299.2,1015.9 L298.8,1017.2 L298.3,1018.3 L297.6,1018.8 L296.7,1018.8 L295.7,1018.3 L294.5,1017.5 L293.4,1016.5 L292.2,1015.8 L291.2,1015.3 L290.4,1015.4 L289.7,1016.0 L289.3,1017.1 L288.9,1018.5 L288.5,1019.9 L288.1,1021.2 L287.6,1022.1 L286.8,1022.5 L285.9,1022.4 L284.8,1021.7 L283.7,1020.9 L282.5,1019.9 L281.4,1019.2 L280.4,1018.9 L279.7,1019.2 L279.1,1019.9 L278.6,1021.1 L278.2,1022.5" fill="none" stroke="#5cb0ea" stroke-width="1.7" stroke-linecap="round"/>
<path d="M308.8,983.9 L307.8,982.8 L306.9,982.0 L306.0,981.6 L305.2,981.7 L304.5,982.4 L303.8,983.6 L303.2,984.9 L302.6,986.2 L301.9,987.3 L301.2,987.8 L300.4,987.8 L299.5,987.3 L298.5,986.3 L297.5,985.2 L296.5,984.1 L295.6,983.4 L294.8,983.1 L294.0,983.4 L293.3,984.3 L292.6,985.5 L292.0,986.9 L291.4,988.2 L290.7,989.1 L289.9,989.5 L289.1,989.3 L288.2,988.6 L287.2,987.6 L286.2,986.4 L285.2,985.4 L284.3,984.8 L283.5,984.7 L282.7,985.2 L282.1,986.2 L281.4,987.5 L280.8,988.9 L280.2,990.0 L279.4,990.8 L278.7,991.1 L277.8,990.7 L276.9,989.9 L275.9,988.8 L274.9,987.7 L273.9,986.8 L273.1,986.3 L272.2,986.4 L271.5,987.0 L270.8,988.1 L270.2,989.5" fill="none" stroke="#5cb0ea" stroke-width="1.7" stroke-linecap="round"/>
<path d="M307.6,957.3 L306.8,956.1 L306.0,955.0 L305.3,954.5 L304.4,954.5 L303.6,955.0 L302.7,956.0 L301.9,957.3 L301.0,958.4 L300.1,959.3 L299.3,959.7 L298.5,959.6 L297.7,958.9 L297.0,957.7 L296.2,956.4 L295.5,955.2 L294.7,954.3 L293.9,953.9 L293.1,954.1 L292.2,954.8 L291.4,955.8 L290.5,957.1 L289.6,958.2 L288.8,959.0 L287.9,959.2 L287.1,958.9 L286.4,958.0 L285.6,956.8 L284.9,955.5 L284.1,954.4 L283.3,953.6 L282.5,953.3 L281.7,953.7 L280.9,954.5 L280.0,955.7 L279.1,956.9 L278.2,957.9 L277.4,958.6 L276.6,958.6 L275.8,958.2 L275.0,957.2 L274.3,955.9 L273.5,954.6 L272.8,953.6 L272.0,952.9 L271.2,952.9 L270.3,953.3 L269.5,954.3 L268.6,955.5" fill="none" stroke="#5cb0ea" stroke-width="1.7" stroke-linecap="round"/>
<path d="M311.3,931.0 L310.8,929.6 L310.3,928.5 L309.6,927.8 L308.8,927.6 L307.9,928.0 L306.9,928.8 L305.8,929.8 L304.7,930.8 L303.7,931.5 L302.8,931.8 L302.0,931.5 L301.4,930.6 L300.9,929.4 L300.4,928.0 L299.9,926.6 L299.3,925.6 L298.6,925.0 L297.7,925.0 L296.8,925.6 L295.7,926.5 L294.6,927.5 L293.6,928.4 L292.6,929.0 L291.7,929.1 L291.0,928.6 L290.4,927.7 L289.9,926.4 L289.4,924.9 L288.9,923.6 L288.3,922.7 L287.5,922.3 L286.7,922.5 L285.7,923.2 L284.6,924.1 L283.5,925.2 L282.5,926.0 L281.5,926.5 L280.7,926.4 L280.0,925.8 L279.4,924.7 L278.9,923.3 L278.4,921.9 L277.9,920.7 L277.2,919.9 L276.5,919.7 L275.5,920.0 L274.5,920.8 L273.4,921.8" fill="none" stroke="#5cb0ea" stroke-width="1.7" stroke-linecap="round"/>
<path d="M320.1,905.8 L319.8,904.4 L319.5,903.1 L319.0,902.3 L318.2,902.0 L317.2,902.2 L316.1,902.8 L314.8,903.6 L313.6,904.4 L312.4,904.9 L311.5,905.0 L310.8,904.5 L310.4,903.6 L310.1,902.3 L309.9,900.8 L309.6,899.4 L309.2,898.2 L308.6,897.6 L307.8,897.4 L306.8,897.7 L305.6,898.4 L304.3,899.3 L303.1,900.0 L302.0,900.4 L301.2,900.3 L300.5,899.7 L300.1,898.6 L299.9,897.2 L299.7,895.7 L299.4,894.4 L299.0,893.4 L298.3,892.8 L297.4,892.8 L296.3,893.3 L295.1,894.0 L293.8,894.8 L292.6,895.5 L291.6,895.8 L290.8,895.5 L290.3,894.8 L289.9,893.6 L289.7,892.2 L289.5,890.7 L289.1,889.4 L288.7,888.5 L287.9,888.2 L287.0,888.3 L285.8,888.9 L284.6,889.6" fill="none" stroke="#5cb0ea" stroke-width="1.7" stroke-linecap="round"/>
<path d="M333.4,882.8 L333.4,881.3 L333.3,880.0 L333.0,879.1 L332.3,878.7 L331.3,878.7 L330.0,879.1 L328.6,879.6 L327.3,880.2 L326.1,880.4 L325.1,880.3 L324.5,879.8 L324.3,878.7 L324.2,877.4 L324.3,875.9 L324.3,874.5 L324.2,873.3 L323.7,872.5 L322.9,872.2 L321.9,872.3 L320.5,872.8 L319.1,873.3 L317.8,873.8 L316.7,874.0 L315.9,873.8 L315.4,873.1 L315.2,871.9 L315.2,870.5 L315.2,869.0 L315.2,867.6 L315.0,866.5 L314.5,865.9 L313.6,865.7 L312.4,866.0 L311.1,866.5 L309.7,867.0 L308.4,867.4 L307.3,867.5 L306.6,867.1 L306.2,866.3 L306.1,865.1 L306.1,863.6 L306.2,862.1 L306.1,860.8 L305.8,859.9 L305.2,859.3 L304.2,859.3 L303.0,859.6 L301.6,860.2" fill="none" stroke="#5cb0ea" stroke-width="1.7" stroke-linecap="round"/>
<path d="M350.8,862.7 L351.1,861.2 L351.3,860.0 L351.1,859.0 L350.5,858.5 L349.5,858.3 L348.2,858.4 L346.7,858.7 L345.3,858.9 L344.1,859.0 L343.2,858.7 L342.7,858.0 L342.6,857.0 L342.8,855.7 L343.2,854.2 L343.5,852.8 L343.6,851.6 L343.3,850.8 L342.6,850.3 L341.5,850.2 L340.1,850.4 L338.6,850.7 L337.2,850.9 L336.1,850.9 L335.3,850.5 L335.0,849.7 L335.0,848.6 L335.3,847.2 L335.6,845.7 L335.9,844.4 L335.8,843.3 L335.4,842.5 L334.6,842.2 L333.4,842.2 L332.0,842.4 L330.5,842.7 L329.2,842.9 L328.1,842.7 L327.5,842.2 L327.2,841.4 L327.3,840.1 L327.7,838.7 L328.0,837.2 L328.2,835.9 L328.1,834.9 L327.5,834.3 L326.6,834.1 L325.3,834.2 L323.9,834.5" fill="none" stroke="#5cb0ea" stroke-width="1.7" stroke-linecap="round"/>
<path d="M371.7,846.2 L372.3,844.9 L372.7,843.7 L372.7,842.7 L372.2,842.0 L371.3,841.7 L370.0,841.5 L368.5,841.5 L367.0,841.5 L365.8,841.3 L365.0,840.9 L364.6,840.1 L364.8,839.1 L365.2,837.8 L365.9,836.5 L366.4,835.1 L366.7,834.0 L366.6,833.1 L366.0,832.5 L364.9,832.2 L363.5,832.2 L362.0,832.2 L360.6,832.1 L359.5,831.9 L358.8,831.3 L358.6,830.5 L358.9,829.4 L359.4,828.1 L360.0,826.7 L360.5,825.4 L360.7,824.3 L360.4,823.5 L359.7,823.0 L358.5,822.8 L357.1,822.8 L355.6,822.8 L354.2,822.7 L353.2,822.4 L352.7,821.8 L352.6,820.8 L353.0,819.6 L353.5,818.3 L354.2,816.9 L354.6,815.7 L354.7,814.7 L354.3,814.0 L353.4,813.6 L352.1,813.4 L350.6,813.4" fill="none" stroke="#5cb0ea" stroke-width="1.7" stroke-linecap="round"/>
<path d="M395.4,834.0 L396.2,832.8 L396.8,831.7 L397.0,830.7 L396.7,830.0 L395.8,829.5 L394.6,829.1 L393.1,828.8 L391.7,828.5 L390.5,828.1 L389.8,827.5 L389.6,826.7 L389.9,825.7 L390.6,824.6 L391.5,823.3 L392.3,822.1 L392.8,821.1 L392.8,820.2 L392.3,819.5 L391.3,819.0 L390.0,818.7 L388.5,818.4 L387.1,818.1 L386.1,817.6 L385.5,817.0 L385.5,816.1 L385.9,815.1 L386.7,813.9 L387.6,812.6 L388.3,811.5 L388.7,810.4 L388.6,809.6 L388.0,809.0 L386.8,808.6 L385.4,808.2 L384.0,808.0 L382.7,807.6 L381.7,807.1 L381.3,806.4 L381.4,805.5 L382.0,804.4 L382.8,803.2 L383.7,801.9 L384.3,800.8 L384.6,799.8 L384.3,799.1 L383.5,798.5 L382.3,798.1 L380.9,797.8" fill="none" stroke="#5cb0ea" stroke-width="1.7" stroke-linecap="round"/>
<path d="M420.9,826.5 L422.0,825.5 L422.8,824.5 L423.1,823.6 L422.9,822.8 L422.2,822.1 L421.0,821.5 L419.6,821.0 L418.3,820.4 L417.2,819.8 L416.6,819.1 L416.6,818.3 L417.1,817.3 L418.0,816.3 L419.1,815.3 L420.1,814.3 L420.8,813.3 L421.0,812.4 L420.7,811.7 L419.8,811.0 L418.5,810.4 L417.1,809.9 L415.8,809.3 L414.9,808.7 L414.5,807.9 L414.6,807.1 L415.2,806.1 L416.2,805.1 L417.3,804.1 L418.3,803.0 L418.8,802.1 L418.9,801.3 L418.4,800.5 L417.4,799.9 L416.0,799.3 L414.6,798.8 L413.4,798.2 L412.6,797.5 L412.3,796.7 L412.6,795.9 L413.4,794.9 L414.4,793.9 L415.5,792.8 L416.4,791.8 L416.8,790.9 L416.7,790.1 L416.0,789.4 L414.9,788.8 L413.5,788.2" fill="none" stroke="#5cb0ea" stroke-width="1.7" stroke-linecap="round"/>
<circle cx="447.4" cy="964" r="137" fill="none" stroke="#1a8fdc" stroke-width="3.6"/>
<path d="M919.4,823.9 L920.7,823.1 L921.7,822.3 L922.2,821.5 L922.2,820.7 L921.6,819.9 L920.6,819.1 L919.4,818.2 L918.2,817.3 L917.3,816.5 L916.9,815.7 L917.0,814.9 L917.7,814.1 L918.9,813.3 L920.1,812.5 L921.4,811.8 L922.3,811.0 L922.7,810.2 L922.5,809.4 L921.8,808.5 L920.7,807.7 L919.4,806.8 L918.3,806.0 L917.5,805.1 L917.3,804.3 L917.6,803.5 L918.4,802.7 L919.6,801.9 L920.9,801.2 L922.1,800.4 L922.8,799.6 L923.1,798.8 L922.7,798.0 L921.9,797.1 L920.7,796.3 L919.5,795.4 L918.4,794.6 L917.8,793.7 L917.7,792.9 L918.2,792.1 L919.1,791.4 L920.4,790.6 L921.6,789.8 L922.7,789.0 L923.3,788.3 L923.4,787.4 L922.9,786.6 L922.0,785.8 L920.7,784.9" fill="none" stroke="#5cb0ea" stroke-width="1.7" stroke-linecap="round"/>
<path d="M945.8,827.3 L947.2,826.8 L948.3,826.3 L949.0,825.6 L949.1,824.8 L948.7,823.8 L947.9,822.8 L946.9,821.8 L945.9,820.7 L945.1,819.7 L944.9,818.8 L945.2,818.0 L946.0,817.4 L947.3,816.8 L948.7,816.3 L950.0,815.8 L951.0,815.2 L951.6,814.5 L951.6,813.7 L951.0,812.7 L950.1,811.7 L949.1,810.6 L948.1,809.5 L947.5,808.6 L947.4,807.7 L947.9,807.0 L948.8,806.4 L950.1,805.8 L951.6,805.3 L952.8,804.8 L953.7,804.2 L954.1,803.4 L953.9,802.5 L953.3,801.6 L952.3,800.5 L951.3,799.4 L950.4,798.4 L949.9,797.4 L950.0,796.6 L950.6,795.9 L951.7,795.3 L953.0,794.8 L954.4,794.3 L955.6,793.8 L956.4,793.1 L956.6,792.3 L956.3,791.4 L955.5,790.4 L954.5,789.3" fill="none" stroke="#5cb0ea" stroke-width="1.7" stroke-linecap="round"/>
<path d="M971.0,835.7 L972.5,835.5 L973.7,835.1 L974.5,834.6 L974.8,833.8 L974.6,832.9 L974.0,831.7 L973.2,830.4 L972.4,829.2 L971.9,828.1 L971.8,827.2 L972.2,826.5 L973.2,826.0 L974.5,825.7 L976.0,825.5 L977.4,825.2 L978.5,824.8 L979.2,824.2 L979.3,823.4 L979.0,822.3 L978.3,821.2 L977.4,819.9 L976.7,818.7 L976.3,817.6 L976.4,816.8 L976.9,816.1 L978.0,815.7 L979.4,815.4 L980.9,815.2 L982.2,814.9 L983.2,814.5 L983.8,813.8 L983.8,812.9 L983.3,811.8 L982.5,810.6 L981.7,809.3 L981.0,808.2 L980.8,807.2 L981.0,806.4 L981.7,805.8 L982.9,805.4 L984.3,805.2 L985.8,804.9 L987.1,804.6 L987.9,804.1 L988.3,803.4 L988.2,802.4 L987.6,801.3 L986.8,800.0" fill="none" stroke="#5cb0ea" stroke-width="1.7" stroke-linecap="round"/>
<path d="M994.3,848.7 L995.7,848.8 L997.0,848.7 L997.9,848.3 L998.3,847.6 L998.3,846.6 L997.9,845.3 L997.3,844.0 L996.8,842.6 L996.5,841.4 L996.6,840.5 L997.2,839.9 L998.2,839.6 L999.5,839.5 L1001.0,839.6 L1002.5,839.6 L1003.7,839.4 L1004.4,839.0 L1004.7,838.2 L1004.6,837.1 L1004.1,835.8 L1003.5,834.4 L1003.0,833.1 L1002.8,831.9 L1003.1,831.1 L1003.8,830.6 L1004.9,830.4 L1006.3,830.4 L1007.8,830.5 L1009.2,830.4 L1010.3,830.2 L1010.9,829.6 L1011.1,828.8 L1010.8,827.6 L1010.3,826.2 L1009.7,824.9 L1009.3,823.6 L1009.2,822.5 L1009.6,821.8 L1010.4,821.4 L1011.6,821.2 L1013.1,821.3 L1014.6,821.3 L1015.9,821.2 L1016.8,820.9 L1017.3,820.3 L1017.4,819.3 L1017.0,818.1 L1016.5,816.7" fill="none" stroke="#5cb0ea" stroke-width="1.7" stroke-linecap="round"/>
<path d="M1014.6,865.9 L1016.0,866.2 L1017.3,866.4 L1018.3,866.2 L1018.8,865.6 L1019.0,864.6 L1018.8,863.3 L1018.5,861.8 L1018.3,860.4 L1018.2,859.1 L1018.5,858.2 L1019.1,857.8 L1020.2,857.7 L1021.5,857.9 L1023.0,858.2 L1024.4,858.5 L1025.6,858.6 L1026.4,858.3 L1026.9,857.5 L1026.9,856.4 L1026.7,855.1 L1026.4,853.6 L1026.2,852.2 L1026.2,851.0 L1026.6,850.3 L1027.4,849.9 L1028.5,849.9 L1029.9,850.2 L1031.4,850.5 L1032.7,850.8 L1033.8,850.7 L1034.5,850.3 L1034.9,849.5 L1034.8,848.3 L1034.6,846.9 L1034.3,845.4 L1034.1,844.0 L1034.2,843.0 L1034.7,842.3 L1035.6,842.1 L1036.8,842.2 L1038.3,842.5 L1039.7,842.8 L1041.0,843.0 L1042.0,842.8 L1042.6,842.3 L1042.9,841.4 L1042.8,840.1 L1042.5,838.6" fill="none" stroke="#5cb0ea" stroke-width="1.7" stroke-linecap="round"/>
<path d="M1031.3,886.6 L1032.7,887.2 L1033.9,887.6 L1034.9,887.6 L1035.5,887.1 L1035.9,886.1 L1036.0,884.8 L1035.9,883.3 L1036.0,881.9 L1036.1,880.6 L1036.6,879.8 L1037.3,879.5 L1038.3,879.6 L1039.6,880.0 L1041.0,880.7 L1042.3,881.2 L1043.5,881.5 L1044.4,881.3 L1044.9,880.7 L1045.2,879.7 L1045.3,878.3 L1045.2,876.8 L1045.3,875.3 L1045.5,874.2 L1046.0,873.5 L1046.9,873.3 L1048.0,873.6 L1049.3,874.1 L1050.7,874.7 L1052.0,875.2 L1053.1,875.3 L1053.9,875.1 L1054.3,874.3 L1054.5,873.1 L1054.6,871.7 L1054.5,870.2 L1054.6,868.8 L1054.9,867.8 L1055.5,867.3 L1056.5,867.2 L1057.6,867.5 L1059.0,868.1 L1060.4,868.7 L1061.6,869.1 L1062.6,869.2 L1063.3,868.8 L1063.7,867.9 L1063.8,866.6 L1063.8,865.1" fill="none" stroke="#5cb0ea" stroke-width="1.7" stroke-linecap="round"/>
<path d="M1043.8,910.1 L1045.0,911.0 L1046.2,911.6 L1047.1,911.7 L1047.8,911.4 L1048.4,910.5 L1048.7,909.2 L1049.0,907.8 L1049.3,906.3 L1049.7,905.2 L1050.2,904.4 L1051.0,904.2 L1052.0,904.6 L1053.2,905.2 L1054.4,906.1 L1055.7,906.9 L1056.7,907.4 L1057.6,907.4 L1058.3,906.9 L1058.8,905.9 L1059.1,904.6 L1059.3,903.1 L1059.7,901.7 L1060.1,900.6 L1060.7,900.1 L1061.6,900.0 L1062.7,900.4 L1063.9,901.2 L1065.1,902.1 L1066.3,902.8 L1067.3,903.2 L1068.1,903.0 L1068.7,902.4 L1069.2,901.3 L1069.5,899.9 L1069.7,898.4 L1070.1,897.1 L1070.5,896.1 L1071.3,895.7 L1072.2,895.8 L1073.3,896.4 L1074.5,897.2 L1075.7,898.0 L1076.9,898.7 L1077.9,898.9 L1078.6,898.6 L1079.2,897.8 L1079.5,896.6 L1079.8,895.2" fill="none" stroke="#5cb0ea" stroke-width="1.7" stroke-linecap="round"/>
<path d="M1051.6,935.6 L1052.7,936.6 L1053.7,937.4 L1054.6,937.8 L1055.4,937.6 L1056.0,936.8 L1056.6,935.6 L1057.2,934.2 L1057.7,932.9 L1058.3,931.8 L1059.0,931.2 L1059.8,931.2 L1060.8,931.7 L1061.8,932.6 L1062.8,933.6 L1063.9,934.6 L1064.8,935.3 L1065.7,935.5 L1066.5,935.1 L1067.1,934.3 L1067.7,933.0 L1068.2,931.6 L1068.8,930.3 L1069.4,929.3 L1070.2,928.9 L1071.0,929.0 L1072.0,929.6 L1073.0,930.6 L1074.1,931.7 L1075.1,932.6 L1076.0,933.2 L1076.9,933.2 L1077.6,932.7 L1078.2,931.7 L1078.8,930.3 L1079.3,928.9 L1079.9,927.7 L1080.5,926.9 L1081.3,926.6 L1082.2,926.9 L1083.2,927.6 L1084.2,928.7 L1085.3,929.7 L1086.3,930.6 L1087.2,931.0 L1088.0,930.9 L1088.7,930.2 L1089.3,929.1 L1089.8,927.7" fill="none" stroke="#5cb0ea" stroke-width="1.7" stroke-linecap="round"/>
<path d="M1054.5,962.0 L1055.3,963.3 L1056.1,964.2 L1057.0,964.7 L1057.8,964.7 L1058.6,964.1 L1059.4,963.0 L1060.2,961.8 L1061.0,960.5 L1061.8,959.6 L1062.6,959.1 L1063.4,959.3 L1064.2,959.9 L1065.0,961.0 L1065.9,962.2 L1066.7,963.4 L1067.5,964.3 L1068.3,964.6 L1069.1,964.4 L1069.9,963.7 L1070.7,962.5 L1071.5,961.3 L1072.3,960.1 L1073.1,959.3 L1074.0,959.0 L1074.8,959.3 L1075.6,960.1 L1076.4,961.2 L1077.2,962.5 L1078.1,963.6 L1078.9,964.3 L1079.7,964.5 L1080.5,964.1 L1081.3,963.2 L1082.1,962.0 L1082.9,960.8 L1083.7,959.7 L1084.5,959.0 L1085.3,958.9 L1086.1,959.3 L1087.0,960.2 L1087.8,961.4 L1088.6,962.7 L1089.5,963.7 L1090.3,964.3 L1091.1,964.3 L1091.9,963.8 L1092.7,962.8 L1093.5,961.5" fill="none" stroke="#5cb0ea" stroke-width="1.7" stroke-linecap="round"/>
<path d="M1052.3,988.5 L1052.9,989.9 L1053.5,991.0 L1054.2,991.7 L1055.0,991.8 L1055.9,991.3 L1056.9,990.5 L1057.9,989.4 L1058.9,988.3 L1059.9,987.5 L1060.8,987.3 L1061.6,987.5 L1062.2,988.3 L1062.9,989.5 L1063.4,990.9 L1064.0,992.2 L1064.7,993.2 L1065.4,993.7 L1066.2,993.7 L1067.2,993.1 L1068.2,992.1 L1069.2,991.0 L1070.2,990.0 L1071.1,989.4 L1072.0,989.2 L1072.7,989.7 L1073.4,990.6 L1074.0,991.9 L1074.6,993.3 L1075.2,994.5 L1075.8,995.4 L1076.6,995.8 L1077.5,995.5 L1078.4,994.8 L1079.4,993.8 L1080.4,992.7 L1081.4,991.8 L1082.4,991.3 L1083.2,991.3 L1083.9,991.9 L1084.5,992.9 L1085.1,994.3 L1085.7,995.6 L1086.3,996.8 L1087.0,997.5 L1087.8,997.7 L1088.7,997.3 L1089.7,996.5 L1090.7,995.4" fill="none" stroke="#5cb0ea" stroke-width="1.7" stroke-linecap="round"/>
<path d="M1045.1,1014.2 L1045.4,1015.6 L1045.8,1016.8 L1046.4,1017.6 L1047.2,1017.9 L1048.2,1017.6 L1049.3,1016.9 L1050.5,1016.1 L1051.7,1015.2 L1052.8,1014.6 L1053.7,1014.5 L1054.4,1014.9 L1054.9,1015.8 L1055.3,1017.1 L1055.6,1018.6 L1055.9,1020.0 L1056.4,1021.1 L1057.0,1021.8 L1057.8,1021.9 L1058.9,1021.5 L1060.0,1020.7 L1061.2,1019.8 L1062.4,1019.0 L1063.5,1018.6 L1064.3,1018.6 L1065.0,1019.1 L1065.4,1020.2 L1065.8,1021.6 L1066.1,1023.0 L1066.4,1024.4 L1066.9,1025.4 L1067.6,1025.8 L1068.5,1025.8 L1069.6,1025.3 L1070.8,1024.5 L1072.0,1023.6 L1073.1,1022.9 L1074.1,1022.5 L1074.9,1022.7 L1075.5,1023.4 L1075.9,1024.6 L1076.3,1026.0 L1076.6,1027.5 L1077.0,1028.7 L1077.5,1029.6 L1078.2,1029.9 L1079.2,1029.7 L1080.3,1029.1 L1081.5,1028.2" fill="none" stroke="#5cb0ea" stroke-width="1.7" stroke-linecap="round"/>
<path d="M1033.2,1038.0 L1033.3,1039.5 L1033.4,1040.7 L1033.8,1041.6 L1034.5,1042.0 L1035.6,1041.9 L1036.8,1041.5 L1038.1,1040.8 L1039.5,1040.2 L1040.7,1039.9 L1041.6,1039.9 L1042.2,1040.5 L1042.5,1041.5 L1042.7,1042.8 L1042.7,1044.3 L1042.7,1045.8 L1043.0,1046.9 L1043.5,1047.7 L1044.3,1047.9 L1045.3,1047.7 L1046.6,1047.2 L1048.0,1046.6 L1049.3,1046.0 L1050.4,1045.8 L1051.2,1045.9 L1051.8,1046.6 L1052.0,1047.7 L1052.1,1049.2 L1052.1,1050.7 L1052.2,1052.0 L1052.5,1053.1 L1053.1,1053.7 L1054.0,1053.8 L1055.1,1053.5 L1056.5,1052.9 L1057.8,1052.3 L1059.1,1051.8 L1060.1,1051.7 L1060.9,1052.0 L1061.3,1052.8 L1061.5,1054.0 L1061.6,1055.5 L1061.6,1057.0 L1061.7,1058.3 L1062.1,1059.2 L1062.8,1059.7 L1063.7,1059.7 L1065.0,1059.3 L1066.3,1058.7" fill="none" stroke="#5cb0ea" stroke-width="1.7" stroke-linecap="round"/>
<path d="M1017.0,1059.1 L1016.8,1060.6 L1016.7,1061.9 L1017.0,1062.8 L1017.6,1063.3 L1018.6,1063.4 L1019.9,1063.2 L1021.3,1062.9 L1022.8,1062.5 L1024.0,1062.4 L1024.9,1062.6 L1025.4,1063.3 L1025.5,1064.3 L1025.4,1065.6 L1025.1,1067.1 L1024.9,1068.6 L1024.9,1069.7 L1025.3,1070.6 L1026.0,1071.0 L1027.1,1071.0 L1028.4,1070.7 L1029.9,1070.3 L1031.3,1070.0 L1032.4,1070.0 L1033.2,1070.3 L1033.6,1071.1 L1033.7,1072.3 L1033.5,1073.7 L1033.2,1075.1 L1033.0,1076.5 L1033.1,1077.6 L1033.6,1078.3 L1034.4,1078.6 L1035.6,1078.5 L1037.0,1078.2 L1038.5,1077.8 L1039.8,1077.6 L1040.9,1077.6 L1041.5,1078.1 L1041.8,1079.0 L1041.8,1080.2 L1041.6,1081.7 L1041.3,1083.1 L1041.2,1084.4 L1041.4,1085.4 L1042.0,1086.0 L1042.9,1086.2 L1044.2,1086.0 L1045.6,1085.7" fill="none" stroke="#5cb0ea" stroke-width="1.7" stroke-linecap="round"/>
<path d="M997.1,1076.8 L996.6,1078.2 L996.3,1079.4 L996.4,1080.4 L996.9,1081.0 L997.8,1081.3 L999.2,1081.4 L1000.7,1081.3 L1002.1,1081.2 L1003.3,1081.3 L1004.2,1081.7 L1004.6,1082.4 L1004.5,1083.5 L1004.1,1084.8 L1003.6,1086.2 L1003.1,1087.6 L1002.9,1088.7 L1003.0,1089.6 L1003.7,1090.1 L1004.8,1090.4 L1006.2,1090.3 L1007.7,1090.3 L1009.1,1090.2 L1010.2,1090.4 L1010.9,1090.9 L1011.2,1091.7 L1011.0,1092.8 L1010.5,1094.2 L1010.0,1095.6 L1009.6,1096.9 L1009.5,1098.0 L1009.8,1098.8 L1010.5,1099.2 L1011.7,1099.4 L1013.2,1099.3 L1014.7,1099.2 L1016.0,1099.2 L1017.0,1099.5 L1017.6,1100.1 L1017.7,1101.0 L1017.5,1102.2 L1017.0,1103.6 L1016.4,1105.0 L1016.1,1106.2 L1016.1,1107.3 L1016.5,1107.9 L1017.4,1108.3 L1018.7,1108.4 L1020.2,1108.3" fill="none" stroke="#5cb0ea" stroke-width="1.7" stroke-linecap="round"/>
<path d="M974.3,1090.4 L973.5,1091.7 L973.0,1092.8 L972.8,1093.8 L973.2,1094.5 L974.1,1095.0 L975.4,1095.3 L976.9,1095.5 L978.3,1095.7 L979.5,1096.0 L980.2,1096.6 L980.5,1097.4 L980.2,1098.4 L979.6,1099.6 L978.8,1100.8 L978.1,1102.1 L977.6,1103.2 L977.6,1104.1 L978.2,1104.7 L979.2,1105.1 L980.6,1105.4 L982.0,1105.6 L983.4,1105.8 L984.5,1106.2 L985.1,1106.8 L985.2,1107.7 L984.8,1108.8 L984.1,1110.0 L983.3,1111.3 L982.7,1112.5 L982.3,1113.5 L982.5,1114.4 L983.2,1114.9 L984.3,1115.3 L985.7,1115.5 L987.2,1115.7 L988.5,1116.0 L989.5,1116.5 L990.0,1117.1 L989.9,1118.1 L989.4,1119.2 L988.7,1120.4 L987.9,1121.7 L987.3,1122.9 L987.1,1123.9 L987.4,1124.6 L988.2,1125.1 L989.5,1125.5 L990.9,1125.7" fill="none" stroke="#5cb0ea" stroke-width="1.7" stroke-linecap="round"/>
<path d="M949.2,1099.4 L948.2,1100.5 L947.5,1101.5 L947.2,1102.5 L947.4,1103.2 L948.2,1103.9 L949.4,1104.4 L950.8,1104.9 L952.2,1105.4 L953.3,1105.9 L953.9,1106.6 L954.0,1107.4 L953.6,1108.4 L952.7,1109.4 L951.7,1110.5 L950.7,1111.6 L950.1,1112.6 L950.0,1113.5 L950.4,1114.2 L951.3,1114.8 L952.6,1115.3 L954.0,1115.8 L955.3,1116.3 L956.3,1116.9 L956.8,1117.6 L956.7,1118.5 L956.1,1119.5 L955.2,1120.5 L954.2,1121.6 L953.3,1122.7 L952.8,1123.7 L952.8,1124.5 L953.3,1125.2 L954.4,1125.8 L955.7,1126.3 L957.2,1126.7 L958.4,1127.3 L959.3,1127.9 L959.6,1128.6 L959.3,1129.5 L958.6,1130.6 L957.7,1131.6 L956.7,1132.7 L955.9,1133.8 L955.5,1134.7 L955.6,1135.5 L956.4,1136.2 L957.5,1136.7 L958.9,1137.2" fill="none" stroke="#5cb0ea" stroke-width="1.7" stroke-linecap="round"/>
<path d="M922.9,1103.5 L921.7,1104.4 L920.8,1105.3 L920.3,1106.1 L920.4,1107.0 L921.1,1107.7 L922.2,1108.5 L923.5,1109.2 L924.7,1109.9 L925.7,1110.7 L926.2,1111.5 L926.1,1112.3 L925.5,1113.2 L924.5,1114.0 L923.3,1114.9 L922.1,1115.8 L921.3,1116.7 L921.0,1117.5 L921.2,1118.3 L922.0,1119.1 L923.2,1119.8 L924.5,1120.5 L925.7,1121.3 L926.6,1122.0 L926.9,1122.8 L926.7,1123.7 L925.9,1124.5 L924.8,1125.4 L923.6,1126.3 L922.5,1127.2 L921.8,1128.0 L921.7,1128.9 L922.1,1129.6 L923.0,1130.4 L924.2,1131.1 L925.5,1131.9 L926.7,1132.6 L927.4,1133.4 L927.6,1134.2 L927.2,1135.0 L926.3,1135.9 L925.1,1136.8 L923.9,1137.7 L922.9,1138.5 L922.4,1139.4 L922.4,1140.2 L923.0,1141.0 L924.0,1141.7 L925.3,1142.5" fill="none" stroke="#5cb0ea" stroke-width="1.7" stroke-linecap="round"/>
<path d="M896.3,1102.6 L895.0,1103.3 L893.9,1103.9 L893.3,1104.7 L893.2,1105.5 L893.7,1106.4 L894.6,1107.3 L895.8,1108.3 L896.9,1109.2 L897.7,1110.2 L898.0,1111.0 L897.8,1111.8 L897.0,1112.5 L895.9,1113.2 L894.5,1113.8 L893.2,1114.5 L892.2,1115.2 L891.8,1115.9 L891.9,1116.8 L892.5,1117.7 L893.5,1118.6 L894.7,1119.6 L895.7,1120.6 L896.4,1121.5 L896.6,1122.3 L896.2,1123.1 L895.3,1123.8 L894.0,1124.4 L892.7,1125.1 L891.4,1125.7 L890.6,1126.5 L890.3,1127.2 L890.6,1128.1 L891.3,1129.0 L892.4,1130.0 L893.5,1130.9 L894.5,1131.9 L895.1,1132.8 L895.1,1133.6 L894.5,1134.3 L893.5,1135.0 L892.2,1135.7 L890.8,1136.3 L889.7,1137.0 L889.0,1137.7 L888.9,1138.5 L889.3,1139.4 L890.2,1140.3 L891.3,1141.3" fill="none" stroke="#5cb0ea" stroke-width="1.7" stroke-linecap="round"/>
<path d="M870.4,1096.7 L869.0,1097.1 L867.8,1097.5 L867.0,1098.1 L866.8,1098.9 L867.1,1099.9 L867.8,1101.0 L868.8,1102.1 L869.7,1103.3 L870.3,1104.3 L870.5,1105.3 L870.1,1106.0 L869.2,1106.5 L867.9,1107.0 L866.5,1107.4 L865.1,1107.7 L864.0,1108.2 L863.4,1108.9 L863.3,1109.7 L863.8,1110.7 L864.6,1111.9 L865.5,1113.0 L866.4,1114.2 L866.9,1115.2 L866.9,1116.1 L866.4,1116.7 L865.4,1117.3 L864.0,1117.7 L862.5,1118.0 L861.2,1118.5 L860.3,1119.0 L859.8,1119.7 L859.9,1120.6 L860.5,1121.6 L861.3,1122.8 L862.3,1123.9 L863.1,1125.1 L863.4,1126.0 L863.3,1126.8 L862.6,1127.5 L861.5,1128.0 L860.1,1128.3 L858.6,1128.7 L857.4,1129.2 L856.6,1129.7 L856.3,1130.5 L856.5,1131.4 L857.2,1132.5 L858.1,1133.7" fill="none" stroke="#5cb0ea" stroke-width="1.7" stroke-linecap="round"/>
<path d="M846.0,1085.9 L844.6,1086.0 L843.3,1086.3 L842.5,1086.7 L842.1,1087.4 L842.2,1088.4 L842.7,1089.7 L843.4,1091.0 L844.1,1092.3 L844.5,1093.4 L844.5,1094.4 L844.0,1095.0 L843.0,1095.4 L841.7,1095.6 L840.2,1095.7 L838.7,1095.8 L837.6,1096.1 L836.9,1096.6 L836.6,1097.4 L836.9,1098.5 L837.5,1099.7 L838.2,1101.1 L838.8,1102.3 L839.1,1103.5 L839.0,1104.3 L838.3,1104.9 L837.2,1105.2 L835.8,1105.3 L834.3,1105.4 L832.9,1105.6 L831.9,1105.9 L831.3,1106.5 L831.2,1107.4 L831.6,1108.6 L832.2,1109.8 L832.9,1111.2 L833.5,1112.4 L833.7,1113.4 L833.4,1114.2 L832.6,1114.7 L831.4,1115.0 L829.9,1115.1 L828.4,1115.2 L827.1,1115.4 L826.2,1115.8 L825.8,1116.5 L825.8,1117.4 L826.3,1118.6 L827.0,1119.9" fill="none" stroke="#5cb0ea" stroke-width="1.7" stroke-linecap="round"/>
<path d="M824.2,1070.8 L822.7,1070.6 L821.4,1070.6 L820.5,1070.9 L820.0,1071.5 L819.9,1072.5 L820.2,1073.8 L820.6,1075.2 L821.0,1076.6 L821.2,1077.8 L821.0,1078.8 L820.4,1079.3 L819.4,1079.5 L818.0,1079.4 L816.6,1079.2 L815.1,1079.1 L813.9,1079.1 L813.1,1079.5 L812.8,1080.3 L812.8,1081.4 L813.1,1082.7 L813.6,1084.1 L813.9,1085.5 L814.0,1086.7 L813.7,1087.5 L813.0,1087.9 L811.8,1088.0 L810.4,1087.9 L808.9,1087.7 L807.6,1087.6 L806.5,1087.7 L805.8,1088.2 L805.5,1089.1 L805.7,1090.2 L806.1,1091.6 L806.5,1093.1 L806.8,1094.4 L806.8,1095.4 L806.4,1096.1 L805.5,1096.5 L804.3,1096.5 L802.8,1096.3 L801.3,1096.1 L800.0,1096.1 L799.0,1096.3 L798.5,1096.9 L798.4,1097.9 L798.6,1099.1 L799.0,1100.6" fill="none" stroke="#5cb0ea" stroke-width="1.7" stroke-linecap="round"/>
<path d="M805.6,1051.7 L804.1,1051.3 L802.9,1051.0 L801.9,1051.1 L801.3,1051.7 L801.1,1052.6 L801.1,1054.0 L801.2,1055.4 L801.4,1056.9 L801.3,1058.1 L801.0,1059.0 L800.3,1059.4 L799.2,1059.4 L797.9,1059.1 L796.5,1058.6 L795.1,1058.2 L793.9,1058.0 L793.1,1058.2 L792.6,1058.9 L792.4,1060.0 L792.5,1061.4 L792.6,1062.9 L792.7,1064.3 L792.6,1065.4 L792.1,1066.2 L791.3,1066.4 L790.2,1066.3 L788.8,1065.9 L787.4,1065.5 L786.1,1065.1 L785.0,1065.0 L784.2,1065.4 L783.8,1066.2 L783.7,1067.4 L783.8,1068.8 L784.0,1070.3 L784.0,1071.6 L783.8,1072.7 L783.3,1073.3 L782.4,1073.4 L781.1,1073.2 L779.8,1072.8 L778.3,1072.3 L777.1,1072.0 L776.0,1072.1 L775.4,1072.6 L775.1,1073.5 L775.1,1074.8 L775.2,1076.2" fill="none" stroke="#5cb0ea" stroke-width="1.7" stroke-linecap="round"/>
<path d="M790.9,1029.5 L789.6,1028.8 L788.4,1028.3 L787.4,1028.2 L786.7,1028.7 L786.3,1029.6 L786.1,1030.9 L786.0,1032.4 L785.8,1033.8 L785.5,1035.0 L785.0,1035.8 L784.2,1036.1 L783.2,1035.9 L782.0,1035.3 L780.7,1034.5 L779.4,1033.9 L778.3,1033.5 L777.4,1033.5 L776.8,1034.1 L776.4,1035.1 L776.2,1036.5 L776.1,1038.0 L775.9,1039.4 L775.6,1040.5 L775.0,1041.2 L774.1,1041.3 L773.0,1040.9 L771.8,1040.3 L770.5,1039.6 L769.2,1039.0 L768.2,1038.7 L767.3,1038.9 L766.8,1039.6 L766.5,1040.7 L766.3,1042.2 L766.2,1043.7 L766.0,1045.0 L765.6,1046.0 L764.9,1046.5 L764.0,1046.5 L762.8,1046.0 L761.6,1045.3 L760.3,1044.6 L759.1,1044.1 L758.1,1043.9 L757.3,1044.3 L756.8,1045.1 L756.6,1046.4 L756.5,1047.8" fill="none" stroke="#5cb0ea" stroke-width="1.7" stroke-linecap="round"/>
<path d="M780.7,1004.9 L779.5,1004.0 L778.5,1003.3 L777.5,1003.0 L776.8,1003.3 L776.2,1004.1 L775.7,1005.4 L775.3,1006.8 L774.9,1008.2 L774.4,1009.3 L773.7,1010.0 L772.9,1010.1 L771.9,1009.7 L770.9,1008.9 L769.7,1007.9 L768.6,1007.0 L767.5,1006.4 L766.7,1006.3 L765.9,1006.8 L765.4,1007.7 L764.9,1009.0 L764.5,1010.5 L764.1,1011.8 L763.6,1012.8 L762.9,1013.4 L762.0,1013.3 L761.0,1012.8 L759.9,1011.9 L758.7,1010.9 L757.6,1010.1 L756.6,1009.6 L755.8,1009.7 L755.1,1010.3 L754.6,1011.3 L754.2,1012.7 L753.8,1014.2 L753.3,1015.4 L752.7,1016.3 L752.0,1016.7 L751.1,1016.5 L750.0,1015.8 L748.9,1014.9 L747.7,1013.9 L746.7,1013.2 L745.7,1012.9 L744.9,1013.1 L744.3,1013.8 L743.8,1015.0 L743.4,1016.4" fill="none" stroke="#5cb0ea" stroke-width="1.7" stroke-linecap="round"/>
<path d="M775.3,978.9 L774.4,977.7 L773.5,976.8 L772.6,976.4 L771.8,976.5 L771.0,977.2 L770.4,978.3 L769.7,979.7 L769.0,981.0 L768.3,982.0 L767.5,982.5 L766.7,982.5 L765.8,981.9 L764.9,980.9 L764.0,979.7 L763.0,978.6 L762.1,977.9 L761.3,977.6 L760.5,977.9 L759.8,978.7 L759.1,979.9 L758.4,981.3 L757.7,982.5 L757.0,983.4 L756.2,983.8 L755.4,983.6 L754.5,982.8 L753.6,981.8 L752.6,980.6 L751.7,979.6 L750.8,978.9 L750.0,978.8 L749.2,979.3 L748.5,980.2 L747.8,981.5 L747.1,982.8 L746.4,984.0 L745.7,984.7 L744.9,985.0 L744.1,984.6 L743.2,983.8 L742.2,982.6 L741.3,981.5 L740.4,980.5 L739.5,980.0 L738.7,980.1 L737.9,980.7 L737.2,981.8 L736.5,983.1" fill="none" stroke="#5cb0ea" stroke-width="1.7" stroke-linecap="round"/>
<path d="M775.0,952.3 L774.3,951.0 L773.5,949.9 L772.8,949.3 L772.0,949.3 L771.1,949.8 L770.2,950.8 L769.3,952.0 L768.4,953.1 L767.5,954.0 L766.7,954.4 L765.9,954.2 L765.1,953.4 L764.4,952.3 L763.7,951.0 L763.0,949.7 L762.2,948.8 L761.4,948.3 L760.6,948.5 L759.7,949.2 L758.8,950.2 L757.9,951.4 L757.0,952.5 L756.1,953.2 L755.3,953.4 L754.5,953.1 L753.8,952.2 L753.1,951.0 L752.4,949.7 L751.6,948.5 L750.9,947.7 L750.1,947.4 L749.3,947.7 L748.4,948.5 L747.5,949.6 L746.6,950.8 L745.7,951.8 L744.8,952.4 L744.0,952.5 L743.2,952.0 L742.5,951.0 L741.8,949.7 L741.1,948.4 L740.3,947.3 L739.6,946.6 L738.8,946.5 L737.9,947.0 L737.0,947.9 L736.1,949.0" fill="none" stroke="#5cb0ea" stroke-width="1.7" stroke-linecap="round"/>
<path d="M779.7,926.1 L779.2,924.7 L778.7,923.5 L778.1,922.8 L777.3,922.6 L776.3,922.9 L775.3,923.7 L774.2,924.7 L773.0,925.7 L772.0,926.3 L771.1,926.5 L770.4,926.2 L769.8,925.3 L769.3,924.1 L768.8,922.6 L768.4,921.3 L767.8,920.2 L767.1,919.7 L766.3,919.6 L765.3,920.1 L764.2,921.0 L763.1,922.0 L762.0,922.9 L761.0,923.4 L760.1,923.5 L759.4,923.0 L758.9,922.0 L758.4,920.7 L758.0,919.2 L757.5,917.9 L756.9,917.0 L756.2,916.6 L755.3,916.7 L754.3,917.3 L753.2,918.3 L752.1,919.3 L751.0,920.1 L750.0,920.5 L749.2,920.4 L748.5,919.8 L748.0,918.7 L747.6,917.3 L747.1,915.8 L746.6,914.6 L746.0,913.8 L745.2,913.6 L744.3,913.9 L743.2,914.6 L742.1,915.6" fill="none" stroke="#5cb0ea" stroke-width="1.7" stroke-linecap="round"/>
<path d="M789.3,901.2 L789.1,899.8 L788.8,898.5 L788.3,897.7 L787.6,897.4 L786.6,897.5 L785.4,898.1 L784.1,898.9 L782.8,899.6 L781.7,900.0 L780.7,900.1 L780.1,899.6 L779.7,898.6 L779.4,897.3 L779.2,895.8 L779.1,894.4 L778.7,893.3 L778.2,892.6 L777.3,892.4 L776.3,892.7 L775.0,893.3 L773.8,894.1 L772.5,894.8 L771.4,895.1 L770.6,895.0 L770.0,894.4 L769.6,893.3 L769.4,891.9 L769.2,890.4 L769.0,889.1 L768.6,888.0 L768.0,887.5 L767.1,887.4 L766.0,887.9 L764.7,888.6 L763.4,889.3 L762.2,889.9 L761.2,890.2 L760.4,889.9 L759.9,889.2 L759.6,888.0 L759.4,886.5 L759.2,885.0 L758.9,883.7 L758.5,882.8 L757.8,882.4 L756.8,882.5 L755.7,883.1 L754.4,883.8" fill="none" stroke="#5cb0ea" stroke-width="1.7" stroke-linecap="round"/>
<path d="M803.4,878.7 L803.5,877.2 L803.4,875.9 L803.1,875.0 L802.4,874.5 L801.4,874.5 L800.1,874.8 L798.7,875.3 L797.4,875.8 L796.1,876.1 L795.2,875.9 L794.7,875.3 L794.4,874.3 L794.4,873.0 L794.6,871.5 L794.6,870.0 L794.5,868.8 L794.1,868.0 L793.3,867.7 L792.2,867.8 L790.9,868.2 L789.5,868.7 L788.1,869.1 L787.0,869.3 L786.2,869.0 L785.7,868.3 L785.6,867.2 L785.6,865.8 L785.7,864.3 L785.8,862.9 L785.6,861.8 L785.1,861.1 L784.2,860.9 L783.0,861.1 L781.7,861.6 L780.2,862.1 L778.9,862.4 L777.9,862.5 L777.2,862.1 L776.8,861.2 L776.7,860.0 L776.8,858.5 L776.9,857.1 L776.9,855.7 L776.6,854.8 L776.0,854.2 L775.0,854.2 L773.8,854.5 L772.4,854.9" fill="none" stroke="#5cb0ea" stroke-width="1.7" stroke-linecap="round"/>
<path d="M821.5,859.2 L821.9,857.7 L822.1,856.5 L821.9,855.5 L821.3,854.9 L820.4,854.7 L819.0,854.8 L817.6,855.0 L816.1,855.2 L814.9,855.2 L814.0,854.9 L813.6,854.2 L813.5,853.2 L813.8,851.9 L814.2,850.4 L814.5,849.0 L814.7,847.8 L814.4,847.0 L813.7,846.5 L812.6,846.4 L811.2,846.5 L809.7,846.8 L808.3,846.9 L807.2,846.9 L806.4,846.5 L806.1,845.7 L806.2,844.5 L806.5,843.1 L806.9,841.7 L807.2,840.3 L807.2,839.2 L806.8,838.5 L806.0,838.1 L804.8,838.1 L803.4,838.3 L801.9,838.5 L800.6,838.6 L799.5,838.5 L798.9,837.9 L798.7,837.0 L798.8,835.8 L799.2,834.4 L799.6,833.0 L799.8,831.7 L799.8,830.7 L799.2,830.0 L798.3,829.8 L797.0,829.8 L795.6,830.0" fill="none" stroke="#5cb0ea" stroke-width="1.7" stroke-linecap="round"/>
<path d="M843.0,843.5 L843.6,842.1 L844.0,840.9 L844.1,840.0 L843.6,839.3 L842.7,838.9 L841.4,838.7 L839.9,838.7 L838.4,838.6 L837.2,838.4 L836.4,837.9 L836.1,837.1 L836.3,836.1 L836.8,834.8 L837.5,833.5 L838.1,832.2 L838.4,831.0 L838.3,830.2 L837.7,829.6 L836.7,829.2 L835.3,829.1 L833.8,829.1 L832.4,829.0 L831.3,828.7 L830.6,828.1 L830.4,827.3 L830.7,826.2 L831.3,824.9 L832.0,823.5 L832.5,822.3 L832.7,821.2 L832.5,820.4 L831.8,819.9 L830.6,819.6 L829.2,819.5 L827.7,819.5 L826.3,819.3 L825.3,819.0 L824.8,818.3 L824.8,817.4 L825.2,816.2 L825.8,814.9 L826.5,813.6 L826.9,812.3 L827.0,811.3 L826.6,810.6 L825.8,810.2 L824.5,810.0 L823.0,809.9" fill="none" stroke="#5cb0ea" stroke-width="1.7" stroke-linecap="round"/>
<path d="M867.0,832.1 L867.9,830.9 L868.6,829.8 L868.8,828.9 L868.5,828.1 L867.6,827.6 L866.4,827.1 L864.9,826.8 L863.5,826.5 L862.4,826.0 L861.7,825.4 L861.5,824.6 L861.9,823.6 L862.6,822.5 L863.5,821.3 L864.4,820.1 L864.9,819.0 L865.0,818.2 L864.5,817.5 L863.5,816.9 L862.2,816.6 L860.7,816.2 L859.4,815.9 L858.3,815.4 L857.8,814.7 L857.8,813.8 L858.3,812.8 L859.1,811.6 L860.0,810.4 L860.8,809.3 L861.2,808.3 L861.1,807.4 L860.5,806.8 L859.4,806.3 L858.0,806.0 L856.5,805.6 L855.3,805.2 L854.3,804.7 L854.0,804.0 L854.1,803.1 L854.7,802.0 L855.6,800.8 L856.5,799.6 L857.2,798.5 L857.5,797.5 L857.2,796.8 L856.5,796.2 L855.3,795.7 L853.8,795.4" fill="none" stroke="#5cb0ea" stroke-width="1.7" stroke-linecap="round"/>
<path d="M892.8,825.5 L893.9,824.5 L894.8,823.5 L895.2,822.7 L895.0,821.9 L894.3,821.1 L893.1,820.5 L891.8,819.9 L890.4,819.3 L889.4,818.6 L888.8,817.9 L888.8,817.1 L889.4,816.2 L890.3,815.2 L891.4,814.2 L892.5,813.2 L893.2,812.3 L893.4,811.4 L893.1,810.6 L892.3,810.0 L891.0,809.3 L889.6,808.7 L888.4,808.1 L887.4,807.4 L887.0,806.7 L887.2,805.8 L887.9,804.9 L888.9,803.9 L890.0,802.9 L891.0,801.9 L891.6,801.0 L891.7,800.2 L891.2,799.4 L890.2,798.8 L888.9,798.1 L887.5,797.5 L886.3,796.9 L885.5,796.2 L885.3,795.4 L885.6,794.5 L886.4,793.6 L887.5,792.6 L888.6,791.6 L889.5,790.6 L890.0,789.8 L889.9,788.9 L889.2,788.2 L888.1,787.6 L886.8,787.0" fill="none" stroke="#5cb0ea" stroke-width="1.7" stroke-linecap="round"/>
<circle cx="914.5" cy="963.8" r="137" fill="none" stroke="#1a8fdc" stroke-width="3.6"/>
<circle cx="420.0" cy="838.8" r="4.3" fill="#fff" stroke="#e0101e" stroke-width="4.2"/>
<circle cx="461.1" cy="872.3" r="4.3" fill="#fff" stroke="#e0101e" stroke-width="4.2"/>
<circle cx="352.9" cy="889.0" r="4.3" fill="#fff" stroke="#e0101e" stroke-width="4.2"/>
<circle cx="532.7" cy="884.5" r="4.3" fill="#fff" stroke="#e0101e" stroke-width="4.2"/>
<circle cx="413.9" cy="914.9" r="4.3" fill="#fff" stroke="#e0101e" stroke-width="4.2"/>
<circle cx="514.4" cy="921.0" r="4.3" fill="#fff" stroke="#e0101e" stroke-width="4.2"/>
<circle cx="566.2" cy="959.1" r="4.3" fill="#fff" stroke="#e0101e" stroke-width="4.2"/>
<circle cx="337.7" cy="985.0" r="4.3" fill="#fff" stroke="#e0101e" stroke-width="4.2"/>
<circle cx="455.0" cy="986.5" r="4.3" fill="#fff" stroke="#e0101e" stroke-width="4.2"/>
<circle cx="416.9" cy="1006.3" r="4.3" fill="#fff" stroke="#e0101e" stroke-width="4.2"/>
<circle cx="386.4" cy="1021.6" r="4.3" fill="#fff" stroke="#e0101e" stroke-width="4.2"/>
<circle cx="480.9" cy="1033.8" r="4.3" fill="#fff" stroke="#e0101e" stroke-width="4.2"/>
<circle cx="372.7" cy="1058.1" r="4.3" fill="#fff" stroke="#e0101e" stroke-width="4.2"/>
<circle cx="522.0" cy="1053.6" r="4.3" fill="#fff" stroke="#e0101e" stroke-width="4.2"/>
<circle cx="418.4" cy="1076.4" r="4.3" fill="#fff" stroke="#e0101e" stroke-width="4.2"/>
<text x="430" y="1082.5" font-size="22" style="fill:#1a1a1a;stroke:#1a1a1a;stroke-width:0.55px">H<tspan font-size="12" dy="3">2</tspan><tspan dy="-3">O</tspan></text>
<path d="M441.1,879.1 L451.7,885.2 L451.7,897.4 L441.1,903.5 L430.5,897.4 L430.5,885.2Z" fill="none" stroke="#4a4a4a" stroke-width="2.3" stroke-linejoin="round"/>
<line x1="442.6" y1="883.4" x2="447.2" y2="886.0" stroke="#4a4a4a" stroke-width="1.9549999999999998" stroke-linecap="round"/>
<line x1="447.2" y1="896.6" x2="442.6" y2="899.2" stroke="#4a4a4a" stroke-width="1.9549999999999998" stroke-linecap="round"/>
<line x1="433.5" y1="893.9" x2="433.5" y2="888.7" stroke="#4a4a4a" stroke-width="1.9549999999999998" stroke-linecap="round"/>
<line x1="441.1" y1="903.5" x2="453.3" y2="915.0" stroke="#4a4a4a" stroke-width="2.3" stroke-linecap="round"/>
<line x1="430.5" y1="885.2" x2="421.7" y2="886.9" stroke="#4a4a4a" stroke-width="2.07" stroke-linecap="round"/>
<text x="411.0" y="892.2" text-anchor="middle" font-size="9" font-weight="normal" style="fill:#333333;stroke:#333333;stroke-width:0.55px">RO</text>
<path d="M483.8,876.1 L494.4,882.2 L494.4,894.4 L483.8,900.5 L473.2,894.4 L473.2,882.2Z" fill="none" stroke="#4a4a4a" stroke-width="2.3" stroke-linejoin="round"/>
<line x1="485.3" y1="880.4" x2="489.9" y2="883.0" stroke="#4a4a4a" stroke-width="1.9549999999999998" stroke-linecap="round"/>
<line x1="489.9" y1="893.6" x2="485.3" y2="896.2" stroke="#4a4a4a" stroke-width="1.9549999999999998" stroke-linecap="round"/>
<line x1="476.2" y1="890.9" x2="476.2" y2="885.7" stroke="#4a4a4a" stroke-width="1.9549999999999998" stroke-linecap="round"/>
<line x1="473.2" y1="894.4" x2="468.5" y2="911.2" stroke="#4a4a4a" stroke-width="2.3" stroke-linecap="round"/>
<line x1="494.4" y1="894.4" x2="501.9" y2="892.3" stroke="#4a4a4a" stroke-width="2.07" stroke-linecap="round"/>
<text x="511.2" y="893.0" text-anchor="middle" font-size="9" font-weight="normal" style="fill:#333333;stroke:#333333;stroke-width:0.55px">OR</text>
<path d="M374.0,921.8 L384.6,927.9 L384.6,940.1 L374.0,946.2 L363.4,940.1 L363.4,927.9Z" fill="none" stroke="#4a4a4a" stroke-width="2.3" stroke-linejoin="round"/>
<line x1="375.5" y1="926.1" x2="380.1" y2="928.7" stroke="#4a4a4a" stroke-width="1.9549999999999998" stroke-linecap="round"/>
<line x1="380.1" y1="939.3" x2="375.5" y2="941.9" stroke="#4a4a4a" stroke-width="1.9549999999999998" stroke-linecap="round"/>
<line x1="366.4" y1="936.6" x2="366.4" y2="931.4" stroke="#4a4a4a" stroke-width="1.9549999999999998" stroke-linecap="round"/>
<line x1="374.0" y1="946.2" x2="381.6" y2="961.5" stroke="#4a4a4a" stroke-width="2.3" stroke-linecap="round"/>
<line x1="384.6" y1="927.9" x2="390.1" y2="923.1" stroke="#4a4a4a" stroke-width="2.07" stroke-linecap="round"/>
<text x="396.9" y="920.5" text-anchor="middle" font-size="9" font-weight="normal" style="fill:#333333;stroke:#333333;stroke-width:0.55px">OR</text>
<path d="M348.1,949.3 L358.7,955.4 L358.7,967.6 L348.1,973.7 L337.5,967.6 L337.5,955.4Z" fill="none" stroke="#4a4a4a" stroke-width="2.3" stroke-linejoin="round"/>
<line x1="349.6" y1="953.6" x2="354.2" y2="956.2" stroke="#4a4a4a" stroke-width="1.9549999999999998" stroke-linecap="round"/>
<line x1="354.2" y1="966.8" x2="349.6" y2="969.4" stroke="#4a4a4a" stroke-width="1.9549999999999998" stroke-linecap="round"/>
<line x1="340.5" y1="964.1" x2="340.5" y2="958.9" stroke="#4a4a4a" stroke-width="1.9549999999999998" stroke-linecap="round"/>
<line x1="358.7" y1="967.6" x2="374.0" y2="975.2" stroke="#4a4a4a" stroke-width="2.3" stroke-linecap="round"/>
<line x1="337.5" y1="967.6" x2="330.0" y2="970.3" stroke="#4a4a4a" stroke-width="2.07" stroke-linecap="round"/>
<text x="320.7" y="976.9" text-anchor="middle" font-size="9" font-weight="normal" style="fill:#333333;stroke:#333333;stroke-width:0.55px">RO</text>
<path d="M401.5,975.2 L412.1,981.3 L412.1,993.5 L401.5,999.6 L390.9,993.5 L390.9,981.3Z" fill="none" stroke="#4a4a4a" stroke-width="2.3" stroke-linejoin="round"/>
<line x1="403.0" y1="979.5" x2="407.6" y2="982.1" stroke="#4a4a4a" stroke-width="1.9549999999999998" stroke-linecap="round"/>
<line x1="407.6" y1="992.7" x2="403.0" y2="995.3" stroke="#4a4a4a" stroke-width="1.9549999999999998" stroke-linecap="round"/>
<line x1="393.9" y1="990.0" x2="393.9" y2="984.8" stroke="#4a4a4a" stroke-width="1.9549999999999998" stroke-linecap="round"/>
<line x1="401.5" y1="975.2" x2="394.0" y2="961.0" stroke="#4a4a4a" stroke-width="2.3" stroke-linecap="round"/>
<line x1="390.9" y1="993.5" x2="385.4" y2="999.7" stroke="#4a4a4a" stroke-width="2.07" stroke-linecap="round"/>
<text x="378.6" y="1010.4" text-anchor="middle" font-size="9" font-weight="normal" style="fill:#333333;stroke:#333333;stroke-width:0.55px">RO</text>
<path d="M428.9,955.4 L439.5,961.5 L439.5,973.7 L428.9,979.8 L418.3,973.7 L418.3,961.5Z" fill="none" stroke="#4a4a4a" stroke-width="2.3" stroke-linejoin="round"/>
<line x1="430.4" y1="959.7" x2="435.0" y2="962.3" stroke="#4a4a4a" stroke-width="1.9549999999999998" stroke-linecap="round"/>
<line x1="435.0" y1="972.9" x2="430.4" y2="975.5" stroke="#4a4a4a" stroke-width="1.9549999999999998" stroke-linecap="round"/>
<line x1="421.3" y1="970.2" x2="421.3" y2="965.0" stroke="#4a4a4a" stroke-width="1.9549999999999998" stroke-linecap="round"/>
<line x1="418.3" y1="961.5" x2="405.0" y2="952.0" stroke="#4a4a4a" stroke-width="2.3" stroke-linecap="round"/>
<line x1="439.5" y1="961.5" x2="445.7" y2="958.0" stroke="#4a4a4a" stroke-width="2.07" stroke-linecap="round"/>
<text x="453.3" y="957.0" text-anchor="middle" font-size="9" font-weight="normal" style="fill:#333333;stroke:#333333;stroke-width:0.55px">OR</text>
<path d="M473.1,949.3 L483.7,955.4 L483.7,967.6 L473.1,973.7 L462.5,967.6 L462.5,955.4Z" fill="none" stroke="#4a4a4a" stroke-width="2.3" stroke-linejoin="round"/>
<line x1="474.6" y1="953.6" x2="479.2" y2="956.2" stroke="#4a4a4a" stroke-width="1.9549999999999998" stroke-linecap="round"/>
<line x1="479.2" y1="966.8" x2="474.6" y2="969.4" stroke="#4a4a4a" stroke-width="1.9549999999999998" stroke-linecap="round"/>
<line x1="465.5" y1="964.1" x2="465.5" y2="958.9" stroke="#4a4a4a" stroke-width="1.9549999999999998" stroke-linecap="round"/>
<line x1="483.7" y1="967.6" x2="502.0" y2="962.0" stroke="#4a4a4a" stroke-width="2.3" stroke-linecap="round"/>
<line x1="473.1" y1="949.3" x2="467.6" y2="943.1" stroke="#4a4a4a" stroke-width="2.07" stroke-linecap="round"/>
<text x="460.9" y="938.7" text-anchor="middle" font-size="9" font-weight="normal" style="fill:#333333;stroke:#333333;stroke-width:0.55px">OR</text>
<path d="M483.8,985.8 L494.4,991.9 L494.4,1004.1 L483.8,1010.2 L473.2,1004.1 L473.2,991.9Z" fill="none" stroke="#4a4a4a" stroke-width="2.3" stroke-linejoin="round"/>
<line x1="485.3" y1="990.1" x2="489.9" y2="992.7" stroke="#4a4a4a" stroke-width="1.9549999999999998" stroke-linecap="round"/>
<line x1="489.9" y1="1003.3" x2="485.3" y2="1005.9" stroke="#4a4a4a" stroke-width="1.9549999999999998" stroke-linecap="round"/>
<line x1="476.2" y1="1000.6" x2="476.2" y2="995.4" stroke="#4a4a4a" stroke-width="1.9549999999999998" stroke-linecap="round"/>
<line x1="494.4" y1="991.9" x2="505.0" y2="976.0" stroke="#4a4a4a" stroke-width="2.3" stroke-linecap="round"/>
<line x1="483.8" y1="1010.2" x2="487.2" y2="1016.4" stroke="#4a4a4a" stroke-width="2.07" stroke-linecap="round"/>
<text x="491.4" y="1027.2" text-anchor="middle" font-size="9" font-weight="normal" style="fill:#333333;stroke:#333333;stroke-width:0.55px">OR</text>
<path d="M532.6,961.5 L543.2,967.6 L543.2,979.8 L532.6,985.9 L522.0,979.8 L522.0,967.6Z" fill="none" stroke="#4a4a4a" stroke-width="2.3" stroke-linejoin="round"/>
<line x1="534.1" y1="965.8" x2="538.7" y2="968.4" stroke="#4a4a4a" stroke-width="1.9549999999999998" stroke-linecap="round"/>
<line x1="538.7" y1="979.0" x2="534.1" y2="981.6" stroke="#4a4a4a" stroke-width="1.9549999999999998" stroke-linecap="round"/>
<line x1="525.0" y1="976.3" x2="525.0" y2="971.1" stroke="#4a4a4a" stroke-width="1.9549999999999998" stroke-linecap="round"/>
<line x1="522.0" y1="979.8" x2="511.0" y2="990.0" stroke="#4a4a4a" stroke-width="2.3" stroke-linecap="round"/>
<line x1="532.6" y1="961.5" x2="530.5" y2="954.6" stroke="#4a4a4a" stroke-width="2.07" stroke-linecap="round"/>
<text x="528.0" y="949.4" text-anchor="middle" font-size="9" font-weight="normal" style="fill:#333333;stroke:#333333;stroke-width:0.55px">OR</text>
<path d="M538.7,1001.1 L549.3,1007.2 L549.3,1019.4 L538.7,1025.5 L528.1,1019.4 L528.1,1007.2Z" fill="none" stroke="#4a4a4a" stroke-width="2.3" stroke-linejoin="round"/>
<line x1="540.2" y1="1005.4" x2="544.8" y2="1008.0" stroke="#4a4a4a" stroke-width="1.9549999999999998" stroke-linecap="round"/>
<line x1="544.8" y1="1018.6" x2="540.2" y2="1021.2" stroke="#4a4a4a" stroke-width="1.9549999999999998" stroke-linecap="round"/>
<line x1="531.1" y1="1015.9" x2="531.1" y2="1010.7" stroke="#4a4a4a" stroke-width="1.9549999999999998" stroke-linecap="round"/>
<line x1="528.1" y1="1007.2" x2="518.0" y2="1012.0" stroke="#4a4a4a" stroke-width="2.3" stroke-linecap="round"/>
<line x1="538.7" y1="1025.5" x2="541.4" y2="1033.1" stroke="#4a4a4a" stroke-width="2.07" stroke-linecap="round"/>
<text x="544.8" y="1045.5" text-anchor="middle" font-size="9" font-weight="normal" style="fill:#333333;stroke:#333333;stroke-width:0.55px">OR</text>
<circle cx="369.5" cy="992.7" r="5.6" fill="url(#beadG)" stroke="#0b7d1a" stroke-width="2.4"/>
<circle cx="375.5" cy="979.0" r="5.6" fill="url(#beadG)" stroke="#0b7d1a" stroke-width="2.4"/>
<circle cx="383.9" cy="966.8" r="5.6" fill="url(#beadG)" stroke="#0b7d1a" stroke-width="2.4"/>
<circle cx="393.8" cy="957.7" r="5.6" fill="url(#beadG)" stroke="#0b7d1a" stroke-width="2.4"/>
<circle cx="405.3" cy="948.5" r="5.6" fill="url(#beadG)" stroke="#0b7d1a" stroke-width="2.4"/>
<circle cx="416.7" cy="940.1" r="5.6" fill="url(#beadG)" stroke="#0b7d1a" stroke-width="2.4"/>
<circle cx="428.9" cy="932.5" r="5.6" fill="url(#beadG)" stroke="#0b7d1a" stroke-width="2.4"/>
<circle cx="441.1" cy="925.6" r="5.6" fill="url(#beadG)" stroke="#0b7d1a" stroke-width="2.4"/>
<circle cx="454.0" cy="918.8" r="5.6" fill="url(#beadG)" stroke="#0b7d1a" stroke-width="2.4"/>
<circle cx="468.5" cy="915.7" r="5.6" fill="url(#beadG)" stroke="#0b7d1a" stroke-width="2.4"/>
<circle cx="481.5" cy="915.7" r="5.6" fill="url(#beadG)" stroke="#0b7d1a" stroke-width="2.4"/>
<circle cx="494.5" cy="923.4" r="5.6" fill="url(#beadG)" stroke="#0b7d1a" stroke-width="2.4"/>
<circle cx="502.8" cy="935.5" r="5.6" fill="url(#beadG)" stroke="#0b7d1a" stroke-width="2.4"/>
<circle cx="506.7" cy="949.3" r="5.6" fill="url(#beadG)" stroke="#0b7d1a" stroke-width="2.4"/>
<circle cx="507.4" cy="963.0" r="5.6" fill="url(#beadG)" stroke="#0b7d1a" stroke-width="2.4"/>
<circle cx="507.4" cy="976.7" r="5.6" fill="url(#beadG)" stroke="#0b7d1a" stroke-width="2.4"/>
<circle cx="507.4" cy="992.0" r="5.6" fill="url(#beadG)" stroke="#0b7d1a" stroke-width="2.4"/>
<circle cx="509.7" cy="1005.7" r="5.6" fill="url(#beadG)" stroke="#0b7d1a" stroke-width="2.4"/>
<circle cx="518.8" cy="1017.9" r="5.6" fill="url(#beadG)" stroke="#0b7d1a" stroke-width="2.4"/>
<circle cx="855.8" cy="854.0" r="4.3" fill="#fff" stroke="#e0101e" stroke-width="4.2"/>
<circle cx="997.5" cy="873.8" r="4.3" fill="#fff" stroke="#e0101e" stroke-width="4.2"/>
<circle cx="807.0" cy="1023.2" r="4.3" fill="#fff" stroke="#e0101e" stroke-width="4.2"/>
<circle cx="1002.1" cy="1038.4" r="4.3" fill="#fff" stroke="#e0101e" stroke-width="4.2"/>
<circle cx="906.1" cy="1067.4" r="4.3" fill="#fff" stroke="#e0101e" stroke-width="4.2"/>
<path d="M829.3,909.1 L839.3,914.9 L839.3,926.5 L829.3,932.3 L819.3,926.5 L819.3,914.9Z" fill="none" stroke="#4a4a4a" stroke-width="2.3" stroke-linejoin="round"/>
<line x1="830.7" y1="913.2" x2="835.1" y2="915.7" stroke="#4a4a4a" stroke-width="1.9549999999999998" stroke-linecap="round"/>
<line x1="835.1" y1="925.7" x2="830.7" y2="928.2" stroke="#4a4a4a" stroke-width="1.9549999999999998" stroke-linecap="round"/>
<line x1="822.1" y1="923.2" x2="822.1" y2="918.2" stroke="#4a4a4a" stroke-width="1.9549999999999998" stroke-linecap="round"/>
<line x1="829.3" y1="932.3" x2="836.0" y2="950.0" stroke="#4a4a4a" stroke-width="2.3" stroke-linecap="round"/>
<line x1="819.3" y1="914.9" x2="811.5" y2="912.3" stroke="#4a4a4a" stroke-width="2.07" stroke-linecap="round"/>
<text x="802.0" y="912.7" text-anchor="middle" font-size="10" font-weight="normal" style="fill:#333333;stroke:#333333;stroke-width:0.55px">RO</text>
<line x1="829.3" y1="909.1" x2="823.2" y2="893.6" stroke="#d04040" stroke-width="1.8" stroke-linecap="round"/>
<line x1="839.3" y1="914.9" x2="848.3" y2="900.3" stroke="#d04040" stroke-width="1.8" stroke-linecap="round"/>
<circle cx="823.2" cy="893.6" r="6.9" fill="#f7c490" stroke="#f0a868" stroke-width="1"/><text x="823.2" y="897.2" text-anchor="middle" font-size="9.5" font-weight="bold" style="fill:#d83018;stroke:#d83018;stroke-width:0.55px">F</text>
<circle cx="848.3" cy="900.3" r="6.9" fill="#f7c490" stroke="#f0a868" stroke-width="1"/><text x="848.3" y="903.9" text-anchor="middle" font-size="9.5" font-weight="bold" style="fill:#d83018;stroke:#d83018;stroke-width:0.55px">F</text>
<path d="M871.3,919.9 L881.3,925.7 L881.3,937.3 L871.3,943.1 L861.3,937.3 L861.3,925.7Z" fill="none" stroke="#4a4a4a" stroke-width="2.3" stroke-linejoin="round"/>
<line x1="872.7" y1="924.0" x2="877.1" y2="926.5" stroke="#4a4a4a" stroke-width="1.9549999999999998" stroke-linecap="round"/>
<line x1="877.1" y1="936.5" x2="872.7" y2="939.0" stroke="#4a4a4a" stroke-width="1.9549999999999998" stroke-linecap="round"/>
<line x1="864.1" y1="934.0" x2="864.1" y2="929.0" stroke="#4a4a4a" stroke-width="1.9549999999999998" stroke-linecap="round"/>
<line x1="861.3" y1="937.3" x2="852.0" y2="955.0" stroke="#4a4a4a" stroke-width="2.3" stroke-linecap="round"/>
<line x1="881.3" y1="937.3" x2="889.7" y2="937.1" stroke="#4a4a4a" stroke-width="2.07" stroke-linecap="round"/>
<text x="899.8" y="940.5" text-anchor="middle" font-size="10" font-weight="normal" style="fill:#333333;stroke:#333333;stroke-width:0.55px">OR</text>
<line x1="871.3" y1="919.9" x2="863.8" y2="904.4" stroke="#d04040" stroke-width="1.8" stroke-linecap="round"/>
<line x1="881.3" y1="925.7" x2="890.3" y2="911.2" stroke="#d04040" stroke-width="1.8" stroke-linecap="round"/>
<circle cx="863.8" cy="904.4" r="6.9" fill="#f7c490" stroke="#f0a868" stroke-width="1"/><text x="863.8" y="908.0" text-anchor="middle" font-size="9.5" font-weight="bold" style="fill:#d83018;stroke:#d83018;stroke-width:0.55px">F</text>
<circle cx="890.3" cy="911.2" r="6.9" fill="#f7c490" stroke="#f0a868" stroke-width="1"/><text x="890.3" y="914.8" text-anchor="middle" font-size="9.5" font-weight="bold" style="fill:#d83018;stroke:#d83018;stroke-width:0.55px">F</text>
<path d="M940.4,919.9 L950.4,925.7 L950.4,937.3 L940.4,943.1 L930.4,937.3 L930.4,925.7Z" fill="none" stroke="#4a4a4a" stroke-width="2.3" stroke-linejoin="round"/>
<line x1="941.8" y1="924.0" x2="946.2" y2="926.5" stroke="#4a4a4a" stroke-width="1.9549999999999998" stroke-linecap="round"/>
<line x1="946.2" y1="936.5" x2="941.8" y2="939.0" stroke="#4a4a4a" stroke-width="1.9549999999999998" stroke-linecap="round"/>
<line x1="933.2" y1="934.0" x2="933.2" y2="929.0" stroke="#4a4a4a" stroke-width="1.9549999999999998" stroke-linecap="round"/>
<line x1="940.4" y1="943.1" x2="950.0" y2="961.0" stroke="#4a4a4a" stroke-width="2.3" stroke-linecap="round"/>
<line x1="930.4" y1="925.7" x2="920.8" y2="924.7" stroke="#4a4a4a" stroke-width="2.07" stroke-linecap="round"/>
<text x="909.2" y="927.0" text-anchor="middle" font-size="10" font-weight="normal" style="fill:#333333;stroke:#333333;stroke-width:0.55px">RO</text>
<line x1="940.4" y1="919.9" x2="930.2" y2="905.7" stroke="#d04040" stroke-width="1.8" stroke-linecap="round"/>
<line x1="950.4" y1="925.7" x2="956.0" y2="908.5" stroke="#d04040" stroke-width="1.8" stroke-linecap="round"/>
<circle cx="930.2" cy="905.7" r="6.9" fill="#f7c490" stroke="#f0a868" stroke-width="1"/><text x="930.2" y="909.3" text-anchor="middle" font-size="9.5" font-weight="bold" style="fill:#d83018;stroke:#d83018;stroke-width:0.55px">F</text>
<circle cx="956.0" cy="908.5" r="6.9" fill="#f7c490" stroke="#f0a868" stroke-width="1"/><text x="956.0" y="912.1" text-anchor="middle" font-size="9.5" font-weight="bold" style="fill:#d83018;stroke:#d83018;stroke-width:0.55px">F</text>
<path d="M981.1,919.9 L991.1,925.7 L991.1,937.3 L981.1,943.1 L971.1,937.3 L971.1,925.7Z" fill="none" stroke="#4a4a4a" stroke-width="2.3" stroke-linejoin="round"/>
<line x1="982.5" y1="924.0" x2="986.9" y2="926.5" stroke="#4a4a4a" stroke-width="1.9549999999999998" stroke-linecap="round"/>
<line x1="986.9" y1="936.5" x2="982.5" y2="939.0" stroke="#4a4a4a" stroke-width="1.9549999999999998" stroke-linecap="round"/>
<line x1="973.9" y1="934.0" x2="973.9" y2="929.0" stroke="#4a4a4a" stroke-width="1.9549999999999998" stroke-linecap="round"/>
<line x1="981.1" y1="943.1" x2="966.0" y2="960.0" stroke="#4a4a4a" stroke-width="2.3" stroke-linecap="round"/>
<line x1="991.1" y1="937.3" x2="999.4" y2="935.9" stroke="#4a4a4a" stroke-width="2.07" stroke-linecap="round"/>
<text x="1009.5" y="937.8" text-anchor="middle" font-size="10" font-weight="normal" style="fill:#333333;stroke:#333333;stroke-width:0.55px">OR</text>
<line x1="981.1" y1="919.9" x2="969.5" y2="908.5" stroke="#d04040" stroke-width="1.8" stroke-linecap="round"/>
<line x1="991.1" y1="925.7" x2="997.3" y2="911.2" stroke="#d04040" stroke-width="1.8" stroke-linecap="round"/>
<circle cx="969.5" cy="908.5" r="6.9" fill="#f7c490" stroke="#f0a868" stroke-width="1"/><text x="969.5" y="912.1" text-anchor="middle" font-size="9.5" font-weight="bold" style="fill:#d83018;stroke:#d83018;stroke-width:0.55px">F</text>
<circle cx="997.3" cy="911.2" r="6.9" fill="#f7c490" stroke="#f0a868" stroke-width="1"/><text x="997.3" y="914.8" text-anchor="middle" font-size="9.5" font-weight="bold" style="fill:#d83018;stroke:#d83018;stroke-width:0.55px">F</text>
<path d="M851.0,975.4 L861.0,981.2 L861.0,992.8 L851.0,998.6 L841.0,992.8 L841.0,981.2Z" fill="none" stroke="#4a4a4a" stroke-width="2.3" stroke-linejoin="round"/>
<line x1="852.4" y1="979.5" x2="856.8" y2="982.0" stroke="#4a4a4a" stroke-width="1.9549999999999998" stroke-linecap="round"/>
<line x1="856.8" y1="992.0" x2="852.4" y2="994.5" stroke="#4a4a4a" stroke-width="1.9549999999999998" stroke-linecap="round"/>
<line x1="843.8" y1="989.5" x2="843.8" y2="984.5" stroke="#4a4a4a" stroke-width="1.9549999999999998" stroke-linecap="round"/>
<line x1="851.0" y1="975.4" x2="864.0" y2="957.0" stroke="#4a4a4a" stroke-width="2.3" stroke-linecap="round"/>
<line x1="841.0" y1="992.8" x2="832.1" y2="990.2" stroke="#4a4a4a" stroke-width="2.07" stroke-linecap="round"/>
<text x="821.2" y="990.6" text-anchor="middle" font-size="10" font-weight="normal" style="fill:#333333;stroke:#333333;stroke-width:0.55px">RO</text>
<line x1="851.0" y1="998.6" x2="838.8" y2="1010.1" stroke="#d04040" stroke-width="1.8" stroke-linecap="round"/>
<line x1="851.0" y1="998.6" x2="863.8" y2="1010.1" stroke="#d04040" stroke-width="1.8" stroke-linecap="round"/>
<circle cx="838.8" cy="1010.1" r="6.9" fill="#f7c490" stroke="#f0a868" stroke-width="1"/><text x="838.8" y="1013.7" text-anchor="middle" font-size="9.5" font-weight="bold" style="fill:#d83018;stroke:#d83018;stroke-width:0.55px">F</text>
<circle cx="863.8" cy="1010.1" r="6.9" fill="#f7c490" stroke="#f0a868" stroke-width="1"/><text x="863.8" y="1013.7" text-anchor="middle" font-size="9.5" font-weight="bold" style="fill:#d83018;stroke:#d83018;stroke-width:0.55px">F</text>
<path d="M894.3,978.2 L904.3,984.0 L904.3,995.6 L894.3,1001.4 L884.3,995.6 L884.3,984.0Z" fill="none" stroke="#4a4a4a" stroke-width="2.3" stroke-linejoin="round"/>
<line x1="895.7" y1="982.3" x2="900.1" y2="984.8" stroke="#4a4a4a" stroke-width="1.9549999999999998" stroke-linecap="round"/>
<line x1="900.1" y1="994.8" x2="895.7" y2="997.3" stroke="#4a4a4a" stroke-width="1.9549999999999998" stroke-linecap="round"/>
<line x1="887.1" y1="992.3" x2="887.1" y2="987.3" stroke="#4a4a4a" stroke-width="1.9549999999999998" stroke-linecap="round"/>
<line x1="894.3" y1="978.2" x2="880.0" y2="959.0" stroke="#4a4a4a" stroke-width="2.3" stroke-linecap="round"/>
<line x1="904.3" y1="995.6" x2="913.2" y2="993.3" stroke="#4a4a4a" stroke-width="2.07" stroke-linecap="round"/>
<text x="924.1" y="994.0" text-anchor="middle" font-size="10" font-weight="normal" style="fill:#333333;stroke:#333333;stroke-width:0.55px">OR</text>
<line x1="884.3" y1="995.6" x2="879.4" y2="1011.4" stroke="#d04040" stroke-width="1.8" stroke-linecap="round"/>
<line x1="894.3" y1="1001.4" x2="906.5" y2="1011.4" stroke="#d04040" stroke-width="1.8" stroke-linecap="round"/>
<circle cx="879.4" cy="1011.4" r="6.9" fill="#f7c490" stroke="#f0a868" stroke-width="1"/><text x="879.4" y="1015.0" text-anchor="middle" font-size="9.5" font-weight="bold" style="fill:#d83018;stroke:#d83018;stroke-width:0.55px">F</text>
<circle cx="906.5" cy="1011.4" r="6.9" fill="#f7c490" stroke="#f0a868" stroke-width="1"/><text x="906.5" y="1015.0" text-anchor="middle" font-size="9.5" font-weight="bold" style="fill:#d83018;stroke:#d83018;stroke-width:0.55px">F</text>
<path d="M971.6,980.9 L981.6,986.7 L981.6,998.3 L971.6,1004.1 L961.6,998.3 L961.6,986.7Z" fill="none" stroke="#4a4a4a" stroke-width="2.3" stroke-linejoin="round"/>
<line x1="973.0" y1="985.0" x2="977.4" y2="987.5" stroke="#4a4a4a" stroke-width="1.9549999999999998" stroke-linecap="round"/>
<line x1="977.4" y1="997.5" x2="973.0" y2="1000.0" stroke="#4a4a4a" stroke-width="1.9549999999999998" stroke-linecap="round"/>
<line x1="964.4" y1="995.0" x2="964.4" y2="990.0" stroke="#4a4a4a" stroke-width="1.9549999999999998" stroke-linecap="round"/>
<line x1="971.6" y1="980.9" x2="980.0" y2="959.0" stroke="#4a4a4a" stroke-width="2.3" stroke-linecap="round"/>
<line x1="961.6" y1="998.3" x2="953.2" y2="998.7" stroke="#4a4a4a" stroke-width="2.07" stroke-linecap="round"/>
<text x="943.1" y="1002.8" text-anchor="middle" font-size="10" font-weight="normal" style="fill:#333333;stroke:#333333;stroke-width:0.55px">RO</text>
<line x1="971.6" y1="1004.1" x2="964.8" y2="1016.9" stroke="#d04040" stroke-width="1.8" stroke-linecap="round"/>
<line x1="981.6" y1="998.3" x2="990.5" y2="1008.7" stroke="#d04040" stroke-width="1.8" stroke-linecap="round"/>
<circle cx="964.8" cy="1016.9" r="6.9" fill="#f7c490" stroke="#f0a868" stroke-width="1"/><text x="964.8" y="1020.5" text-anchor="middle" font-size="9.5" font-weight="bold" style="fill:#d83018;stroke:#d83018;stroke-width:0.55px">F</text>
<circle cx="990.5" cy="1008.7" r="6.9" fill="#f7c490" stroke="#f0a868" stroke-width="1"/><text x="990.5" y="1012.3" text-anchor="middle" font-size="9.5" font-weight="bold" style="fill:#d83018;stroke:#d83018;stroke-width:0.55px">F</text>
<path d="M1012.2,971.4 L1022.2,977.2 L1022.2,988.8 L1012.2,994.6 L1002.2,988.8 L1002.2,977.2Z" fill="none" stroke="#4a4a4a" stroke-width="2.3" stroke-linejoin="round"/>
<line x1="1013.6" y1="975.5" x2="1018.0" y2="978.0" stroke="#4a4a4a" stroke-width="1.9549999999999998" stroke-linecap="round"/>
<line x1="1018.0" y1="988.0" x2="1013.6" y2="990.5" stroke="#4a4a4a" stroke-width="1.9549999999999998" stroke-linecap="round"/>
<line x1="1005.0" y1="985.5" x2="1005.0" y2="980.5" stroke="#4a4a4a" stroke-width="1.9549999999999998" stroke-linecap="round"/>
<line x1="1002.2" y1="977.2" x2="994.0" y2="955.0" stroke="#4a4a4a" stroke-width="2.3" stroke-linecap="round"/>
<line x1="1022.2" y1="977.2" x2="1029.9" y2="976.2" stroke="#4a4a4a" stroke-width="2.07" stroke-linecap="round"/>
<text x="1039.3" y="978.5" text-anchor="middle" font-size="10" font-weight="normal" style="fill:#333333;stroke:#333333;stroke-width:0.55px">OR</text>
<line x1="1012.2" y1="994.6" x2="1005.4" y2="1007.4" stroke="#d04040" stroke-width="1.8" stroke-linecap="round"/>
<line x1="1022.2" y1="988.8" x2="1029.8" y2="997.9" stroke="#d04040" stroke-width="1.8" stroke-linecap="round"/>
<circle cx="1005.4" cy="1007.4" r="6.9" fill="#f7c490" stroke="#f0a868" stroke-width="1"/><text x="1005.4" y="1011.0" text-anchor="middle" font-size="9.5" font-weight="bold" style="fill:#d83018;stroke:#d83018;stroke-width:0.55px">F</text>
<circle cx="1029.8" cy="997.9" r="6.9" fill="#f7c490" stroke="#f0a868" stroke-width="1"/><text x="1029.8" y="1001.5" text-anchor="middle" font-size="9.5" font-weight="bold" style="fill:#d83018;stroke:#d83018;stroke-width:0.55px">F</text>
<circle cx="806.9" cy="947.1" r="5.6" fill="url(#beadG)" stroke="#0b7d1a" stroke-width="2.4"/>
<circle cx="821.2" cy="950.5" r="5.6" fill="url(#beadG)" stroke="#0b7d1a" stroke-width="2.4"/>
<circle cx="836.1" cy="953.2" r="5.6" fill="url(#beadG)" stroke="#0b7d1a" stroke-width="2.4"/>
<circle cx="850.3" cy="955.2" r="5.6" fill="url(#beadG)" stroke="#0b7d1a" stroke-width="2.4"/>
<circle cx="864.5" cy="957.2" r="5.6" fill="url(#beadG)" stroke="#0b7d1a" stroke-width="2.4"/>
<circle cx="878.8" cy="958.6" r="5.6" fill="url(#beadG)" stroke="#0b7d1a" stroke-width="2.4"/>
<circle cx="893.7" cy="959.9" r="5.6" fill="url(#beadG)" stroke="#0b7d1a" stroke-width="2.4"/>
<circle cx="907.9" cy="960.6" r="5.6" fill="url(#beadG)" stroke="#0b7d1a" stroke-width="2.4"/>
<circle cx="922.1" cy="961.3" r="5.6" fill="url(#beadG)" stroke="#0b7d1a" stroke-width="2.4"/>
<circle cx="937.0" cy="961.3" r="5.6" fill="url(#beadG)" stroke="#0b7d1a" stroke-width="2.4"/>
<circle cx="951.2" cy="961.3" r="5.6" fill="url(#beadG)" stroke="#0b7d1a" stroke-width="2.4"/>
<circle cx="966.2" cy="960.6" r="5.6" fill="url(#beadG)" stroke="#0b7d1a" stroke-width="2.4"/>
<circle cx="980.4" cy="958.6" r="5.6" fill="url(#beadG)" stroke="#0b7d1a" stroke-width="2.4"/>
<circle cx="993.9" cy="954.5" r="5.6" fill="url(#beadG)" stroke="#0b7d1a" stroke-width="2.4"/>
<circle cx="1008.2" cy="949.1" r="5.6" fill="url(#beadG)" stroke="#0b7d1a" stroke-width="2.4"/>
<text x="681" y="923.2" text-anchor="middle" font-size="20.4" style="fill:#e0182e;stroke:#e0182e;stroke-width:0.8px">Maintain Hydrophobic</text>
<text x="680.5" y="948.1" text-anchor="middle" font-size="20.4" style="fill:#e0182e;stroke:#e0182e;stroke-width:0.8px">interior</text>
<path d="M608.6,957.6 L728.3,957.6 L728.3,954.6 L745.5,959.3 L728.3,964 L728.3,961 L608.6,961 Z" fill="url(#orArrow)"/>
<text x="681" y="988.4" text-anchor="middle" font-size="20.4" style="fill:#e0182e;stroke:#e0182e;stroke-width:0.8px">Minimize Structural</text>
<text x="681" y="1014.4" text-anchor="middle" font-size="20.4" style="fill:#e0182e;stroke:#e0182e;stroke-width:0.8px">Distortion</text>
<text x="677.5" y="1131" text-anchor="middle" font-size="20.6" font-weight="bold" style="fill:#111;stroke:#111;stroke-width:0.55px">Nanoscale Fluorous Effect</text>
<rect x="1412.2" y="490.5" width="402.70000000000005" height="294.79999999999995" fill="none" stroke="#111" stroke-width="3.2"/>
<line x1="1405.2" y1="785.3" x2="1412.2" y2="785.3" stroke="#111" stroke-width="2.6"/>
<line x1="1408.2" y1="748.4" x2="1412.2" y2="748.4" stroke="#111" stroke-width="2.6"/>
<line x1="1405.2" y1="711.6" x2="1412.2" y2="711.6" stroke="#111" stroke-width="2.6"/>
<line x1="1408.2" y1="674.8" x2="1412.2" y2="674.8" stroke="#111" stroke-width="2.6"/>
<line x1="1405.2" y1="637.9" x2="1412.2" y2="637.9" stroke="#111" stroke-width="2.6"/>
<line x1="1408.2" y1="601.0" x2="1412.2" y2="601.0" stroke="#111" stroke-width="2.6"/>
<line x1="1405.2" y1="564.2" x2="1412.2" y2="564.2" stroke="#111" stroke-width="2.6"/>
<line x1="1408.2" y1="527.4" x2="1412.2" y2="527.4" stroke="#111" stroke-width="2.6"/>
<line x1="1405.2" y1="490.5" x2="1412.2" y2="490.5" stroke="#111" stroke-width="2.6"/>
<text x="1402.2" y="497.5" text-anchor="end" class="tk">300</text>
<text x="1402.2" y="571.2" text-anchor="end" class="tk">250</text>
<text x="1402.2" y="644.9" text-anchor="end" class="tk">200</text>
<text x="1402.2" y="718.6" text-anchor="end" class="tk">150</text>
<text x="1402.2" y="792.3" text-anchor="end" class="tk">100</text>
<line x1="1412.2" y1="785.3" x2="1412.2" y2="792.3" stroke="#111" stroke-width="2.6"/>
<line x1="1512.6" y1="785.3" x2="1512.6" y2="792.3" stroke="#111" stroke-width="2.6"/>
<line x1="1714.0" y1="785.3" x2="1714.0" y2="792.3" stroke="#111" stroke-width="2.6"/>
<line x1="1814.9" y1="785.3" x2="1814.9" y2="792.3" stroke="#111" stroke-width="2.6"/>
<text x="1508.1" y="813.3" text-anchor="middle" class="xl">Wild Type</text>
<text x="1711.5" y="813.3" text-anchor="middle" class="xl">ND2:SmoA1</text>
<text x="1426.2" y="514.0" class="ct">Total Vessel Length</text>
<text transform="translate(1361.2,633) rotate(-90)" text-anchor="middle" class="yl">Length (mm)</text>
<path d="M1512.6,667.9 V555.4 H1714.0 V587" fill="none" stroke="#2a2a2a" stroke-width="2.2"/>
<text x="1618.3" y="549.4" text-anchor="middle" class="pv"><tspan font-style="italic">p</tspan><tspan dx="2">&lt;0.001</tspan></text>
<circle cx="1512.6" cy="681.4" r="8" fill="#000"/>
<circle cx="1512.6" cy="708.7" r="8" fill="#000"/>
<circle cx="1512.6" cy="713.1" r="8" fill="#000"/>
<circle cx="1512.6" cy="716.0" r="8" fill="#000"/>
<line x1="1512.6" y1="710.1" x2="1512.6" y2="689.5" stroke="#e8303a" stroke-width="1.6"/>
<line x1="1509.6" y1="689.5" x2="1515.6" y2="689.5" stroke="#e8303a" stroke-width="1.6"/>
<circle cx="1512.6" cy="699.8" r="8" fill="#f00000"/>
<path d="M1714.0,592.3 L1723.5,601.8 L1714.0,611.3 L1704.5,601.8Z" fill="#0a4fa8"/>
<path d="M1714.0,603.3 L1723.5,612.8 L1714.0,622.3 L1704.5,612.8Z" fill="#0a4fa8"/>
<path d="M1714.0,625.5 L1723.5,635.0 L1714.0,644.5 L1704.5,635.0Z" fill="#0a4fa8"/>
<path d="M1714.0,654.9 L1723.5,664.4 L1714.0,673.9 L1704.5,664.4Z" fill="#0a4fa8"/>
<line x1="1714.0" y1="652.6" x2="1714.0" y2="605.5" stroke="#e8303a" stroke-width="1.6"/>
<line x1="1711.0" y1="605.5" x2="1717.0" y2="605.5" stroke="#e8303a" stroke-width="1.6"/>
<line x1="1711.0" y1="652.6" x2="1717.0" y2="652.6" stroke="#e8303a" stroke-width="1.6"/>
<path d="M1714.0,619.6 L1723.5,629.1 L1714.0,638.6 L1704.5,629.1Z" fill="#f00000"/>
<rect x="1910.5" y="490.7" width="401.9000000000001" height="295.7" fill="none" stroke="#111" stroke-width="3.2"/>
<line x1="1903.5" y1="786.4" x2="1910.5" y2="786.4" stroke="#111" stroke-width="2.6"/>
<line x1="1906.5" y1="749.4" x2="1910.5" y2="749.4" stroke="#111" stroke-width="2.6"/>
<line x1="1903.5" y1="712.5" x2="1910.5" y2="712.5" stroke="#111" stroke-width="2.6"/>
<line x1="1906.5" y1="675.5" x2="1910.5" y2="675.5" stroke="#111" stroke-width="2.6"/>
<line x1="1903.5" y1="638.5" x2="1910.5" y2="638.5" stroke="#111" stroke-width="2.6"/>
<line x1="1906.5" y1="601.6" x2="1910.5" y2="601.6" stroke="#111" stroke-width="2.6"/>
<line x1="1903.5" y1="564.6" x2="1910.5" y2="564.6" stroke="#111" stroke-width="2.6"/>
<line x1="1906.5" y1="527.7" x2="1910.5" y2="527.7" stroke="#111" stroke-width="2.6"/>
<line x1="1903.5" y1="490.7" x2="1910.5" y2="490.7" stroke="#111" stroke-width="2.6"/>
<text x="1900.5" y="497.7" text-anchor="end" class="tk">700</text>
<text x="1900.5" y="571.6" text-anchor="end" class="tk">600</text>
<text x="1900.5" y="645.5" text-anchor="end" class="tk">500</text>
<text x="1900.5" y="719.5" text-anchor="end" class="tk">400</text>
<text x="1900.5" y="793.4" text-anchor="end" class="tk">300</text>
<line x1="1910.5" y1="786.4" x2="1910.5" y2="793.4" stroke="#111" stroke-width="2.6"/>
<line x1="2010.7" y1="786.4" x2="2010.7" y2="793.4" stroke="#111" stroke-width="2.6"/>
<line x1="2211.7" y1="786.4" x2="2211.7" y2="793.4" stroke="#111" stroke-width="2.6"/>
<line x1="2312.4" y1="786.4" x2="2312.4" y2="793.4" stroke="#111" stroke-width="2.6"/>
<text x="2009.7" y="814.4" text-anchor="middle" class="xl">Wild Type</text>
<text x="2213.7" y="814.4" text-anchor="middle" class="xl">ND2:SmoA1</text>
<text x="1924.5" y="514.2" class="ct">Vessel Branches</text>
<text transform="translate(1864.0,630.5) rotate(-90)" text-anchor="middle" class="yl">Branches (a.u.)</text>
<path d="M2010.7,695 V550.7 H2211.7 V565" fill="none" stroke="#2a2a2a" stroke-width="2.2"/>
<text x="2116.2" y="544.7" text-anchor="middle" class="pv"><tspan font-style="italic">p</tspan><tspan dx="2">&lt;0.01</tspan></text>
<circle cx="2010.7" cy="710.3" r="8" fill="#000"/>
<circle cx="2010.7" cy="722.8" r="8" fill="#000"/>
<line x1="2010.7" y1="721.3" x2="2010.7" y2="712.5" stroke="#e8303a" stroke-width="1.6"/>
<line x1="2007.7" y1="712.5" x2="2013.7" y2="712.5" stroke="#e8303a" stroke-width="1.6"/>
<circle cx="2010.7" cy="716.2" r="8" fill="#f00000"/>
<path d="M2211.7,569.2 L2221.2,578.7 L2211.7,588.2 L2202.2,578.7Z" fill="#0a4fa8"/>
<path d="M2211.7,598.7 L2221.2,608.2 L2211.7,617.7 L2202.2,608.2Z" fill="#0a4fa8"/>
<path d="M2211.7,621.7 L2221.2,631.2 L2211.7,640.7 L2202.2,631.2Z" fill="#0a4fa8"/>
<path d="M2211.7,691.9 L2221.2,701.4 L2211.7,710.9 L2202.2,701.4Z" fill="#0a4fa8"/>
<line x1="2211.7" y1="674.0" x2="2211.7" y2="585.3" stroke="#e8303a" stroke-width="1.6"/>
<line x1="2208.7" y1="585.3" x2="2214.7" y2="585.3" stroke="#e8303a" stroke-width="1.6"/>
<line x1="2208.7" y1="674.0" x2="2214.7" y2="674.0" stroke="#e8303a" stroke-width="1.6"/>
<path d="M2211.7,618.0 L2221.2,627.5 L2211.7,637.0 L2202.2,627.5Z" fill="#f00000"/>
<rect x="1412.2" y="844.6" width="402.70000000000005" height="295.69999999999993" fill="none" stroke="#111" stroke-width="3.2"/>
<line x1="1405.2" y1="1140.3" x2="1412.2" y2="1140.3" stroke="#111" stroke-width="2.6"/>
<line x1="1408.2" y1="1066.4" x2="1412.2" y2="1066.4" stroke="#111" stroke-width="2.6"/>
<line x1="1405.2" y1="992.5" x2="1412.2" y2="992.5" stroke="#111" stroke-width="2.6"/>
<line x1="1408.2" y1="918.5" x2="1412.2" y2="918.5" stroke="#111" stroke-width="2.6"/>
<line x1="1405.2" y1="844.6" x2="1412.2" y2="844.6" stroke="#111" stroke-width="2.6"/>
<text x="1402.2" y="851.6" text-anchor="end" class="tk">5.5</text>
<text x="1402.2" y="999.5" text-anchor="end" class="tk">5.0</text>
<text x="1402.2" y="1147.3" text-anchor="end" class="tk">4.5</text>
<line x1="1412.2" y1="1140.3" x2="1412.2" y2="1147.3" stroke="#111" stroke-width="2.6"/>
<line x1="1512.6" y1="1140.3" x2="1512.6" y2="1147.3" stroke="#111" stroke-width="2.6"/>
<line x1="1714.0" y1="1140.3" x2="1714.0" y2="1147.3" stroke="#111" stroke-width="2.6"/>
<line x1="1814.9" y1="1140.3" x2="1814.9" y2="1147.3" stroke="#111" stroke-width="2.6"/>
<text x="1508.1" y="1168.3" text-anchor="middle" class="xl">Wild Type</text>
<text x="1711.5" y="1168.3" text-anchor="middle" class="xl">ND2:SmoA1</text>
<text x="1426.2" y="868.1" class="ct">Vessel Diameter Entropy</text>
<text transform="translate(1364.2,984) rotate(-90)" text-anchor="middle" class="yl">Entropy (a.u.)</text>
<path d="M1512.6,1040.7 V915.4 H1714.0 V947.2" fill="none" stroke="#2a2a2a" stroke-width="2.2"/>
<text x="1618.3" y="909.4" text-anchor="middle" class="pv"><tspan font-style="italic">p</tspan><tspan dx="2">&lt;0.01</tspan></text>
<circle cx="1512.6" cy="1054.5" r="8" fill="#000"/>
<circle cx="1512.6" cy="1087.1" r="8" fill="#000"/>
<circle cx="1512.6" cy="1093.0" r="8" fill="#000"/>
<circle cx="1512.6" cy="1095.9" r="8" fill="#000"/>
<line x1="1512.6" y1="1098.9" x2="1512.6" y2="1063.4" stroke="#e8303a" stroke-width="1.6"/>
<line x1="1509.6" y1="1063.4" x2="1515.6" y2="1063.4" stroke="#e8303a" stroke-width="1.6"/>
<circle cx="1512.6" cy="1079.7" r="8" fill="#f00000"/>
<path d="M1714.0,950.4 L1723.5,959.9 L1714.0,969.4 L1704.5,959.9Z" fill="#0a4fa8"/>
<path d="M1714.0,988.9 L1723.5,998.4 L1714.0,1007.9 L1704.5,998.4Z" fill="#0a4fa8"/>
<path d="M1714.0,1036.2 L1723.5,1045.7 L1714.0,1055.2 L1704.5,1045.7Z" fill="#0a4fa8"/>
<line x1="1714.0" y1="1047.2" x2="1714.0" y2="974.7" stroke="#e8303a" stroke-width="1.6"/>
<line x1="1711.0" y1="974.7" x2="1717.0" y2="974.7" stroke="#e8303a" stroke-width="1.6"/>
<line x1="1711.0" y1="1047.2" x2="1717.0" y2="1047.2" stroke="#e8303a" stroke-width="1.6"/>
<path d="M1714.0,1002.2 L1723.5,1011.7 L1714.0,1021.2 L1704.5,1011.7Z" fill="#f00000"/>
<rect x="1910.5" y="843.2" width="401.9000000000001" height="295.5999999999999" fill="none" stroke="#111" stroke-width="3.2"/>
<line x1="1903.5" y1="1138.8" x2="1910.5" y2="1138.8" stroke="#111" stroke-width="2.6"/>
<line x1="1906.5" y1="1101.8" x2="1910.5" y2="1101.8" stroke="#111" stroke-width="2.6"/>
<line x1="1903.5" y1="1064.9" x2="1910.5" y2="1064.9" stroke="#111" stroke-width="2.6"/>
<line x1="1906.5" y1="1028.0" x2="1910.5" y2="1028.0" stroke="#111" stroke-width="2.6"/>
<line x1="1903.5" y1="991.0" x2="1910.5" y2="991.0" stroke="#111" stroke-width="2.6"/>
<line x1="1906.5" y1="954.0" x2="1910.5" y2="954.0" stroke="#111" stroke-width="2.6"/>
<line x1="1903.5" y1="917.1" x2="1910.5" y2="917.1" stroke="#111" stroke-width="2.6"/>
<line x1="1906.5" y1="880.2" x2="1910.5" y2="880.2" stroke="#111" stroke-width="2.6"/>
<line x1="1903.5" y1="843.2" x2="1910.5" y2="843.2" stroke="#111" stroke-width="2.6"/>
<text x="1900.5" y="850.2" text-anchor="end" class="tk">0.8</text>
<text x="1900.5" y="924.1" text-anchor="end" class="tk">0.6</text>
<text x="1900.5" y="998.0" text-anchor="end" class="tk">0.4</text>
<text x="1900.5" y="1071.9" text-anchor="end" class="tk">0.2</text>
<text x="1900.5" y="1145.8" text-anchor="end" class="tk">0.0</text>
<line x1="1910.5" y1="1138.8" x2="1910.5" y2="1145.8" stroke="#111" stroke-width="2.6"/>
<line x1="2010.7" y1="1138.8" x2="2010.7" y2="1145.8" stroke="#111" stroke-width="2.6"/>
<line x1="2211.7" y1="1138.8" x2="2211.7" y2="1145.8" stroke="#111" stroke-width="2.6"/>
<line x1="2312.4" y1="1138.8" x2="2312.4" y2="1145.8" stroke="#111" stroke-width="2.6"/>
<text x="2010.2" y="1166.8" text-anchor="middle" class="xl">Wild Type</text>
<text x="2213.7" y="1166.8" text-anchor="middle" class="xl">ND2:SmoA1</text>
<text x="1924.5" y="866.7" class="ct">Vessel Asymmetry Proportion</text>
<text transform="translate(1864.5,977) rotate(-90)" text-anchor="middle" class="yl">Asymmetry proportion</text>
<path d="M2010.7,1040.7 V916 H2211.7 V957" fill="none" stroke="#2a2a2a" stroke-width="2.2"/>
<text x="2116.2" y="910" text-anchor="middle" class="pv"><tspan font-style="italic">p</tspan><tspan dx="2">&lt;0.01</tspan></text>
<circle cx="2010.7" cy="1054.9" r="8" fill="#000"/>
<circle cx="2010.7" cy="1098.2" r="8" fill="#000"/>
<circle cx="2010.7" cy="1105.5" r="8" fill="#000"/>
<circle cx="2010.7" cy="1111.1" r="8" fill="#000"/>
<line x1="2010.7" y1="1109.2" x2="2010.7" y2="1066.7" stroke="#e8303a" stroke-width="1.6"/>
<line x1="2007.7" y1="1066.7" x2="2013.7" y2="1066.7" stroke="#e8303a" stroke-width="1.6"/>
<circle cx="2010.7" cy="1087.8" r="8" fill="#f00000"/>
<path d="M2211.7,963.0 L2221.2,972.5 L2211.7,982.0 L2202.2,972.5Z" fill="#0a4fa8"/>
<path d="M2211.7,996.3 L2221.2,1005.8 L2211.7,1015.3 L2202.2,1005.8Z" fill="#0a4fa8"/>
<path d="M2211.7,1014.8 L2221.2,1024.3 L2211.7,1033.8 L2202.2,1024.3Z" fill="#0a4fa8"/>
<path d="M2211.7,1036.9 L2221.2,1046.4 L2211.7,1055.9 L2202.2,1046.4Z" fill="#0a4fa8"/>
<path d="M2211.7,1051.7 L2221.2,1061.2 L2211.7,1070.7 L2202.2,1061.2Z" fill="#0a4fa8"/>
<line x1="2211.7" y1="1057.5" x2="2211.7" y2="987.3" stroke="#e8303a" stroke-width="1.6"/>
<line x1="2208.7" y1="987.3" x2="2214.7" y2="987.3" stroke="#e8303a" stroke-width="1.6"/>
<line x1="2208.7" y1="1057.5" x2="2214.7" y2="1057.5" stroke="#e8303a" stroke-width="1.6"/>
<path d="M2211.7,1012.9 L2221.2,1022.4 L2211.7,1031.9 L2202.2,1022.4Z" fill="#f00000"/>
</svg>
</body></html>
